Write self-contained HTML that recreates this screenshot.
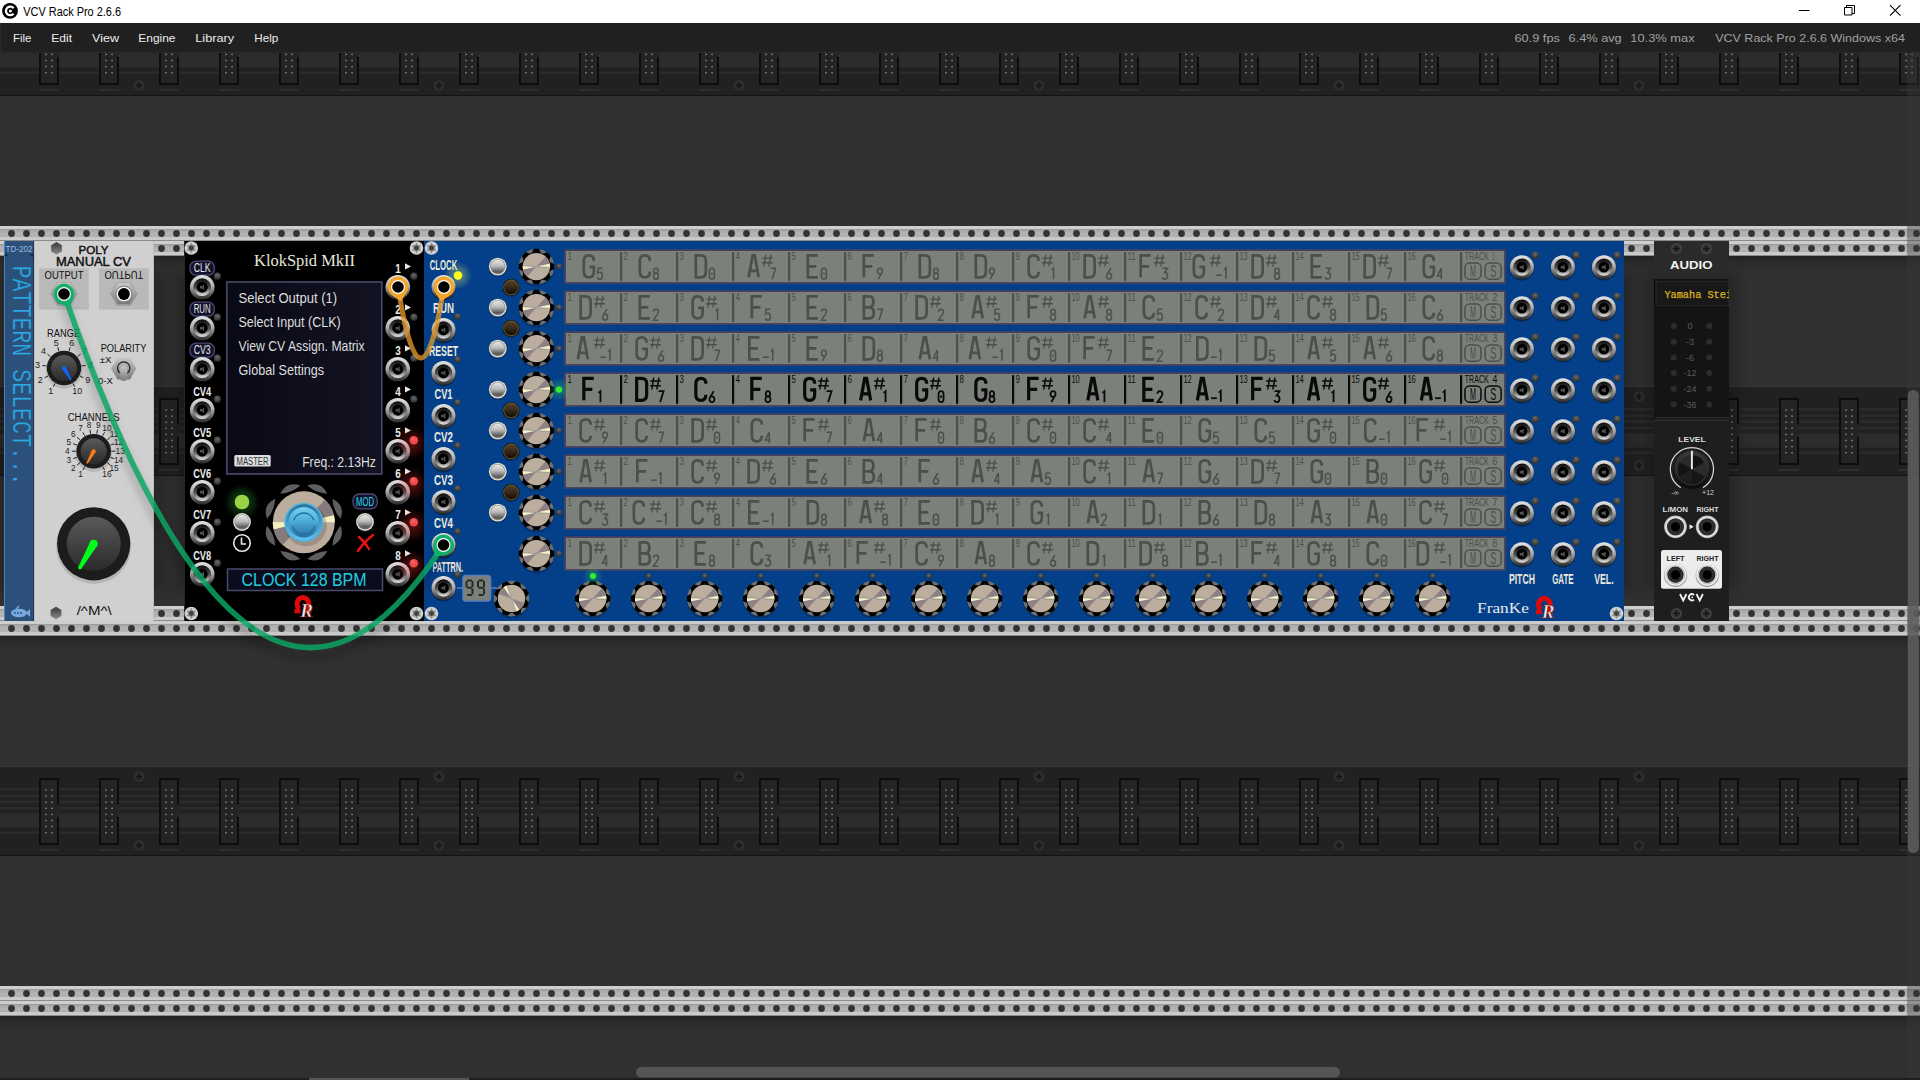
<!DOCTYPE html><html><head><meta charset="utf-8"><style>
*{margin:0;padding:0;box-sizing:border-box}
html,body{width:1920px;height:1080px;overflow:hidden;background:#303030}
svg.main{position:absolute;left:0;top:0}
</style></head><body>
<svg class="main" width="1920" height="1080" viewBox="0 0 1920 1080"><defs><linearGradient id="railg" x1="0" y1="0" x2="0" y2="15" gradientUnits="userSpaceOnUse">
<stop offset="0" stop-color="#c4c4c4"/><stop offset="0.06" stop-color="#d2d2d2"/><stop offset="0.2" stop-color="#cccccc"/>
<stop offset="0.22" stop-color="#9a9a9a"/><stop offset="0.3" stop-color="#a8a8a8"/><stop offset="0.5" stop-color="#b4b4b4"/><stop offset="0.72" stop-color="#b0b0b0"/>
<stop offset="0.75" stop-color="#c8c8c8"/><stop offset="0.9" stop-color="#cbcbcb"/><stop offset="0.94" stop-color="#9a9a9a"/><stop offset="1" stop-color="#7a7a7a"/></linearGradient>
<pattern id="railp" x="4" y="0" width="15" height="15" patternUnits="userSpaceOnUse">
<rect width="15" height="15" fill="url(#railg)"/><circle cx="7.5" cy="7.5" r="3.4" fill="#333"/></pattern><pattern id="bandp" x="0" y="0" width="300" height="88" patternUnits="userSpaceOnUse"><rect width="300" height="88" fill="#212121"/><rect y="21" width="300" height="2.5" fill="#2b2b2b"/><rect y="27.5" width="300" height="2.5" fill="#2b2b2b"/><rect y="33.5" width="300" height="2.5" fill="#2b2b2b"/><rect y="40" width="300" height="2.5" fill="#2b2b2b"/><rect y="46.5" width="300" height="14" fill="#2c2c2c"/><rect y="64.5" width="300" height="2.5" fill="#2b2b2b"/><rect x="39" y="11" width="20" height="67" fill="#0d0d0d"/><rect x="41" y="13" width="16" height="63" fill="#242424"/><rect x="57" y="37.4" width="2" height="12.5" fill="#262626"/><rect x="39" y="82" width="20" height="2" fill="#2e2e2e"/><rect x="45.3" y="22.3" width="1.5" height="1.4" fill="#8a8a8a"/><rect x="51.3" y="22.3" width="1.5" height="1.4" fill="#8a8a8a"/><rect x="45.3" y="28.4" width="1.5" height="1.4" fill="#8a8a8a"/><rect x="51.3" y="28.4" width="1.5" height="1.4" fill="#8a8a8a"/><rect x="45.3" y="34.5" width="1.5" height="1.4" fill="#8a8a8a"/><rect x="51.3" y="34.5" width="1.5" height="1.4" fill="#8a8a8a"/><rect x="45.3" y="40.599999999999994" width="1.5" height="1.4" fill="#8a8a8a"/><rect x="51.3" y="40.599999999999994" width="1.5" height="1.4" fill="#8a8a8a"/><rect x="45.3" y="46.7" width="1.5" height="1.4" fill="#8a8a8a"/><rect x="51.3" y="46.7" width="1.5" height="1.4" fill="#8a8a8a"/><rect x="45.3" y="52.8" width="1.5" height="1.4" fill="#8a8a8a"/><rect x="51.3" y="52.8" width="1.5" height="1.4" fill="#8a8a8a"/><rect x="45.3" y="58.89999999999999" width="1.5" height="1.4" fill="#8a8a8a"/><rect x="51.3" y="58.89999999999999" width="1.5" height="1.4" fill="#8a8a8a"/><rect x="45.3" y="65.0" width="1.5" height="1.4" fill="#8a8a8a"/><rect x="51.3" y="65.0" width="1.5" height="1.4" fill="#8a8a8a"/><rect x="99" y="11" width="20" height="67" fill="#0d0d0d"/><rect x="101" y="13" width="16" height="63" fill="#242424"/><rect x="117" y="37.4" width="2" height="12.5" fill="#262626"/><rect x="99" y="82" width="20" height="2" fill="#2e2e2e"/><rect x="105.3" y="22.3" width="1.5" height="1.4" fill="#8a8a8a"/><rect x="111.3" y="22.3" width="1.5" height="1.4" fill="#8a8a8a"/><rect x="105.3" y="28.4" width="1.5" height="1.4" fill="#8a8a8a"/><rect x="111.3" y="28.4" width="1.5" height="1.4" fill="#8a8a8a"/><rect x="105.3" y="34.5" width="1.5" height="1.4" fill="#8a8a8a"/><rect x="111.3" y="34.5" width="1.5" height="1.4" fill="#8a8a8a"/><rect x="105.3" y="40.599999999999994" width="1.5" height="1.4" fill="#8a8a8a"/><rect x="111.3" y="40.599999999999994" width="1.5" height="1.4" fill="#8a8a8a"/><rect x="105.3" y="46.7" width="1.5" height="1.4" fill="#8a8a8a"/><rect x="111.3" y="46.7" width="1.5" height="1.4" fill="#8a8a8a"/><rect x="105.3" y="52.8" width="1.5" height="1.4" fill="#8a8a8a"/><rect x="111.3" y="52.8" width="1.5" height="1.4" fill="#8a8a8a"/><rect x="105.3" y="58.89999999999999" width="1.5" height="1.4" fill="#8a8a8a"/><rect x="111.3" y="58.89999999999999" width="1.5" height="1.4" fill="#8a8a8a"/><rect x="105.3" y="65.0" width="1.5" height="1.4" fill="#8a8a8a"/><rect x="111.3" y="65.0" width="1.5" height="1.4" fill="#8a8a8a"/><rect x="159" y="11" width="20" height="67" fill="#0d0d0d"/><rect x="161" y="13" width="16" height="63" fill="#242424"/><rect x="177" y="37.4" width="2" height="12.5" fill="#262626"/><rect x="159" y="82" width="20" height="2" fill="#2e2e2e"/><rect x="165.3" y="22.3" width="1.5" height="1.4" fill="#8a8a8a"/><rect x="171.3" y="22.3" width="1.5" height="1.4" fill="#8a8a8a"/><rect x="165.3" y="28.4" width="1.5" height="1.4" fill="#8a8a8a"/><rect x="171.3" y="28.4" width="1.5" height="1.4" fill="#8a8a8a"/><rect x="165.3" y="34.5" width="1.5" height="1.4" fill="#8a8a8a"/><rect x="171.3" y="34.5" width="1.5" height="1.4" fill="#8a8a8a"/><rect x="165.3" y="40.599999999999994" width="1.5" height="1.4" fill="#8a8a8a"/><rect x="171.3" y="40.599999999999994" width="1.5" height="1.4" fill="#8a8a8a"/><rect x="165.3" y="46.7" width="1.5" height="1.4" fill="#8a8a8a"/><rect x="171.3" y="46.7" width="1.5" height="1.4" fill="#8a8a8a"/><rect x="165.3" y="52.8" width="1.5" height="1.4" fill="#8a8a8a"/><rect x="171.3" y="52.8" width="1.5" height="1.4" fill="#8a8a8a"/><rect x="165.3" y="58.89999999999999" width="1.5" height="1.4" fill="#8a8a8a"/><rect x="171.3" y="58.89999999999999" width="1.5" height="1.4" fill="#8a8a8a"/><rect x="165.3" y="65.0" width="1.5" height="1.4" fill="#8a8a8a"/><rect x="171.3" y="65.0" width="1.5" height="1.4" fill="#8a8a8a"/><rect x="219" y="11" width="20" height="67" fill="#0d0d0d"/><rect x="221" y="13" width="16" height="63" fill="#242424"/><rect x="237" y="37.4" width="2" height="12.5" fill="#262626"/><rect x="219" y="82" width="20" height="2" fill="#2e2e2e"/><rect x="225.3" y="22.3" width="1.5" height="1.4" fill="#8a8a8a"/><rect x="231.3" y="22.3" width="1.5" height="1.4" fill="#8a8a8a"/><rect x="225.3" y="28.4" width="1.5" height="1.4" fill="#8a8a8a"/><rect x="231.3" y="28.4" width="1.5" height="1.4" fill="#8a8a8a"/><rect x="225.3" y="34.5" width="1.5" height="1.4" fill="#8a8a8a"/><rect x="231.3" y="34.5" width="1.5" height="1.4" fill="#8a8a8a"/><rect x="225.3" y="40.599999999999994" width="1.5" height="1.4" fill="#8a8a8a"/><rect x="231.3" y="40.599999999999994" width="1.5" height="1.4" fill="#8a8a8a"/><rect x="225.3" y="46.7" width="1.5" height="1.4" fill="#8a8a8a"/><rect x="231.3" y="46.7" width="1.5" height="1.4" fill="#8a8a8a"/><rect x="225.3" y="52.8" width="1.5" height="1.4" fill="#8a8a8a"/><rect x="231.3" y="52.8" width="1.5" height="1.4" fill="#8a8a8a"/><rect x="225.3" y="58.89999999999999" width="1.5" height="1.4" fill="#8a8a8a"/><rect x="231.3" y="58.89999999999999" width="1.5" height="1.4" fill="#8a8a8a"/><rect x="225.3" y="65.0" width="1.5" height="1.4" fill="#8a8a8a"/><rect x="231.3" y="65.0" width="1.5" height="1.4" fill="#8a8a8a"/><rect x="279" y="11" width="20" height="67" fill="#0d0d0d"/><rect x="281" y="13" width="16" height="63" fill="#242424"/><rect x="297" y="37.4" width="2" height="12.5" fill="#262626"/><rect x="279" y="82" width="20" height="2" fill="#2e2e2e"/><rect x="285.3" y="22.3" width="1.5" height="1.4" fill="#8a8a8a"/><rect x="291.3" y="22.3" width="1.5" height="1.4" fill="#8a8a8a"/><rect x="285.3" y="28.4" width="1.5" height="1.4" fill="#8a8a8a"/><rect x="291.3" y="28.4" width="1.5" height="1.4" fill="#8a8a8a"/><rect x="285.3" y="34.5" width="1.5" height="1.4" fill="#8a8a8a"/><rect x="291.3" y="34.5" width="1.5" height="1.4" fill="#8a8a8a"/><rect x="285.3" y="40.599999999999994" width="1.5" height="1.4" fill="#8a8a8a"/><rect x="291.3" y="40.599999999999994" width="1.5" height="1.4" fill="#8a8a8a"/><rect x="285.3" y="46.7" width="1.5" height="1.4" fill="#8a8a8a"/><rect x="291.3" y="46.7" width="1.5" height="1.4" fill="#8a8a8a"/><rect x="285.3" y="52.8" width="1.5" height="1.4" fill="#8a8a8a"/><rect x="291.3" y="52.8" width="1.5" height="1.4" fill="#8a8a8a"/><rect x="285.3" y="58.89999999999999" width="1.5" height="1.4" fill="#8a8a8a"/><rect x="291.3" y="58.89999999999999" width="1.5" height="1.4" fill="#8a8a8a"/><rect x="285.3" y="65.0" width="1.5" height="1.4" fill="#8a8a8a"/><rect x="291.3" y="65.0" width="1.5" height="1.4" fill="#8a8a8a"/><circle cx="139" cy="9.5" r="5.2" fill="#333"/><circle cx="139" cy="9.5" r="4.2" fill="#2a2a2a"/><path d="M136 9.5h6M139 6.5v6" stroke="#161616" stroke-width="1.7"/><circle cx="139" cy="78.5" r="5.2" fill="#333"/><circle cx="139" cy="78.5" r="4.2" fill="#2a2a2a"/><path d="M136 78.5h6M139 75.5v6" stroke="#161616" stroke-width="1.7"/></pattern><linearGradient id="jring" x1="0" y1="0" x2="0" y2="1"><stop offset="0" stop-color="#e4e4e4"/><stop offset="0.45" stop-color="#b0b0b0"/><stop offset="1" stop-color="#262626"/></linearGradient>
<linearGradient id="jin" x1="0" y1="0" x2="0" y2="1"><stop offset="0" stop-color="#0a0a0a"/><stop offset="0.55" stop-color="#555"/><stop offset="1" stop-color="#e8e8e8"/></linearGradient>
<radialGradient id="ledoff" cx="0.5" cy="0.35" r="0.6"><stop offset="0" stop-color="#6a6a6a"/><stop offset="1" stop-color="#2e2e2e"/></radialGradient>
<linearGradient id="sbtn" x1="0" y1="0" x2="0" y2="1"><stop offset="0" stop-color="#e6e6e6"/><stop offset="0.45" stop-color="#bcbcbc"/><stop offset="0.85" stop-color="#5c5c5c"/><stop offset="1" stop-color="#6a6a6a"/></linearGradient>
<linearGradient id="bbtn" x1="0" y1="0" x2="0" y2="1"><stop offset="0" stop-color="#54402c"/><stop offset="0.5" stop-color="#36281a"/><stop offset="1" stop-color="#120a04"/></linearGradient>
<radialGradient id="screwg" cx="0.5" cy="0.5" r="0.5"><stop offset="0" stop-color="#f4f4f4"/><stop offset="0.8" stop-color="#d8d8d8"/><stop offset="1" stop-color="#a0a0a0"/></radialGradient>
<radialGradient id="kshade" cx="0.5" cy="0.5" r="0.5"><stop offset="0.85" stop-color="#000" stop-opacity="0"/><stop offset="1" stop-color="#000" stop-opacity="0.25"/></radialGradient><path id="LA" d="M0 22L4 0H6L10 22M1.7 15.5H8.3" fill="none"/><path id="LB" d="M0 11H5.3Q9.5 11 9.5 5.5Q9.5 0 5.3 0H0V22H5.6Q10 22 10 16.5Q10 11 5.3 11" fill="none"/><path id="LC" d="M10 5.5Q10 0 5 0Q0 0 0 5.5V16.5Q0 22 5 22Q10 22 10 16.5" fill="none"/><path id="LD" d="M0 0V22H4.8Q10 22 10 16.5V5.5Q10 0 4.8 0Z" fill="none"/><path id="LE" d="M10 0H0V22H10M0 11H8.5" fill="none"/><path id="LF" d="M10 0H0V22M0 11H8.5" fill="none"/><path id="LG" d="M10 5.5Q10 0 5 0Q0 0 0 5.5V16.5Q0 22 5 22Q10 22 10 16.5V11.5H5.5" fill="none"/><path id="D0" d="M2.5 0Q0 0 0 2.8V8.2Q0 11 2.5 11Q5 11 5 8.2V2.8Q5 0 2.5 0ZM2.5 4.3V6.7" fill="none"/><path id="D1" d="M1 1.8L3 0V11" fill="none"/><path id="D2" d="M0 2.6Q0 0 2.5 0Q5 0 5 2.6Q5 4.4 3.2 6.3L0 11H5" fill="none"/><path id="D3" d="M0 0H5L2.1 4.4Q5 4.4 5 7.7Q5 11 2.5 11Q0 11 0 8.8" fill="none"/><path id="D4" d="M3.8 11V0L0 7.8H5" fill="none"/><path id="D5" d="M5 0H0.6L0.2 5Q1 4.2 2.6 4.2Q5 4.2 5 7.6Q5 11 2.5 11Q0 11 0 8.8" fill="none"/><path id="D6" d="M4.3 0L1 5.6Q0 7 0 8.2Q0 11 2.5 11Q5 11 5 8.2Q5 5.2 2.5 5.2Q1.5 5.2 1 5.6" fill="none"/><path id="D7" d="M0 0H5L1.6 11" fill="none"/><path id="D8" d="M2.5 5.2Q0.3 5.2 0.3 2.6Q0.3 0 2.5 0Q4.7 0 4.7 2.6Q4.7 5.2 2.5 5.2Q0 5.2 0 8.1Q0 11 2.5 11Q5 11 5 8.1Q5 5.2 2.5 5.2Z" fill="none"/><path id="D9" d="M0.7 11L4 5.4Q5 4 5 2.8Q5 0 2.5 0Q0 0 0 2.8Q0 5.8 2.5 5.8Q3.5 5.8 4 5.4" fill="none"/><path id="Dm" d="M0 0H5.8" fill="none"/><path id="Ds" d="M1.6 12.2L3.5 0.3M6.6 12.2L8.8 0.3M0 3.8H10.7M0 8.45H10.7" fill="none"/><radialGradient id="yglow"><stop offset="0" stop-color="#ffff60" stop-opacity="0.45"/><stop offset="1" stop-color="#ffff60" stop-opacity="0"/></radialGradient><radialGradient id="gglow"><stop offset="0" stop-color="#40ff40" stop-opacity="0.35"/><stop offset="1" stop-color="#40ff40" stop-opacity="0"/></radialGradient><radialGradient id="rglow"><stop offset="0" stop-color="#ff3030" stop-opacity="0.35"/><stop offset="1" stop-color="#ff3030" stop-opacity="0"/></radialGradient><linearGradient id="dispg" x1="0" y1="0" x2="1" y2="0"><stop offset="0" stop-color="#0a0a16"/><stop offset="1" stop-color="#121222"/></linearGradient>
<linearGradient id="encb" x1="0" y1="0" x2="0" y2="1"><stop offset="0" stop-color="#74d4ee"/><stop offset="0.5" stop-color="#4aa8d4"/><stop offset="1" stop-color="#2a6aa2"/></linearGradient>
<linearGradient id="encr" x1="0" y1="0" x2="0" y2="1"><stop offset="0" stop-color="#2c6e9e"/><stop offset="1" stop-color="#5ec4ec"/></linearGradient><linearGradient id="pmknob" x1="0" y1="0" x2="0" y2="1"><stop offset="0" stop-color="#5a5a5a"/><stop offset="1" stop-color="#2a2a2a"/></linearGradient>
<linearGradient id="hexg" x1="0" y1="0" x2="0" y2="1"><stop offset="0" stop-color="#c8c8c8"/><stop offset="1" stop-color="#7a7a7a"/></linearGradient>
<linearGradient id="hexs" x1="0" y1="0" x2="0" y2="1"><stop offset="0" stop-color="#3a3a3a"/><stop offset="1" stop-color="#8a8a8a"/></linearGradient><linearGradient id="aknob" x1="0" y1="0" x2="0" y2="1"><stop offset="0" stop-color="#3a3a3a"/><stop offset="1" stop-color="#111"/></linearGradient><filter id="cshadow" x="-10%" y="-10%" width="120%" height="120%"><feGaussianBlur stdDeviation="4"/></filter><filter id="mshadow" x="-20%" y="-20%" width="140%" height="140%"><feGaussianBlur stdDeviation="6.5"/></filter><linearGradient id="railsh" x1="0" y1="0" x2="0" y2="1"><stop offset="0" stop-color="#000" stop-opacity="0.3"/><stop offset="0.4" stop-color="#000" stop-opacity="0.12"/><stop offset="1" stop-color="#000" stop-opacity="0"/></linearGradient></defs><rect width="1920" height="1080" fill="#303030"/><g transform="translate(0,7)"><rect x="0" y="-1" width="1920" height="1" fill="#383838"/><rect width="1920" height="88" fill="url(#bandp)"/><rect y="88" width="1920" height="1" fill="#141414"/></g><g transform="translate(0,-139)"><rect width="1920" height="15" fill="url(#railp)"/></g><g transform="translate(0,226)"><rect width="1920" height="15" fill="url(#railp)"/></g><g transform="translate(0,387)"><rect x="0" y="-1" width="1920" height="1" fill="#383838"/><rect width="1920" height="88" fill="url(#bandp)"/><rect y="88" width="1920" height="1" fill="#141414"/></g><g transform="translate(0,241)"><rect width="1920" height="15" fill="url(#railp)"/></g><g transform="translate(0,606)"><rect width="1920" height="15" fill="url(#railp)"/></g><g transform="translate(0,767)"><rect x="0" y="-1" width="1920" height="1" fill="#383838"/><rect width="1920" height="88" fill="url(#bandp)"/><rect y="88" width="1920" height="1" fill="#141414"/></g><g transform="translate(0,621)"><rect width="1920" height="15" fill="url(#railp)"/></g><g transform="translate(0,986)"><rect width="1920" height="15" fill="url(#railp)"/></g><g transform="translate(0,1147)"><rect x="0" y="-1" width="1920" height="1" fill="#383838"/><rect width="1920" height="88" fill="url(#bandp)"/><rect y="88" width="1920" height="1" fill="#141414"/></g><g transform="translate(0,1001)"><rect width="1920" height="15" fill="url(#railp)"/></g><g transform="translate(0,1366)"><rect width="1920" height="15" fill="url(#railp)"/></g><rect x="0" y="256" width="1920" height="16" fill="url(#railsh)"/><rect x="0" y="636" width="1920" height="16" fill="url(#railsh)"/><rect x="0" y="1016" width="1920" height="16" fill="url(#railsh)"/><g filter="url(#mshadow)" fill="#000" fill-opacity="0.2"><rect x="-6" y="271" width="50" height="320"/><rect x="24" y="271" width="140" height="320"/><rect x="174" y="271" width="260" height="320"/><rect x="414" y="271" width="1220" height="320"/><rect x="1644" y="271" width="95" height="320"/></g><rect x="4" y="241" width="30" height="380" fill="#2b5079"/><rect x="4" y="241" width="1" height="380" fill="#4c82bc"/><rect x="33" y="241" width="1" height="380" fill="#1c3656"/><text x="19" y="251.5" font-size="9" fill="#9bbce0" text-anchor="middle" font-family="Liberation Sans" textLength="27" lengthAdjust="spacingAndGlyphs" >TD-202</text><path d="M5 253l3.5 2l-3.5 2zM33 253l-3.5 2l3.5 2z" fill="#1a2a3a"/><text transform="translate(12.8,265.6) rotate(90) scale(1,1.27)" font-size="21.6" fill="#2aa8e8" stroke="#2b5079" stroke-width="0.25" font-family="Liberation Mono">PATTERN SELECT...</text><ellipse cx="19" cy="613" rx="8" ry="4.2" fill="#78a8e0"/><path d="M26 613l4-4v8z" fill="#78a8e0"/><path d="M16 609l3-3" stroke="#78a8e0" stroke-width="1.5"/><circle cx="15" cy="613" r="0.9" fill="#2b5079"/><circle cx="18" cy="613" r="0.9" fill="#2b5079"/><circle cx="21" cy="613" r="0.9" fill="#2b5079"/><rect x="34" y="241" width="120" height="380" fill="#d0d0d0"/><rect x="34" y="241" width="1" height="380" fill="#bdbdbd"/><rect x="153" y="241" width="1" height="380" fill="#bdbdbd"/><polygon points="61.87,251.40 56.50,254.50 51.13,251.40 51.13,245.20 56.50,242.10 61.87,245.20" fill="url(#hexs)"/><text x="93.6" y="253.6" font-size="11.3" fill="#111" text-anchor="middle" font-family="Liberation Sans" textLength="30" lengthAdjust="spacingAndGlyphs" stroke="#111" stroke-width="0.45">POLY</text><text x="93.4" y="265.6" font-size="12" fill="#111" text-anchor="middle" font-family="Liberation Sans" textLength="75" lengthAdjust="spacingAndGlyphs" stroke="#111" stroke-width="0.45">MANUAL CV</text><rect x="39.2" y="268.3" width="49.6" height="41.3" fill="#b9b9b9"/><rect x="99" y="268.3" width="49.8" height="41.3" fill="#b9b9b9"/><text x="64" y="278.5" font-size="10.2" fill="#111" text-anchor="middle" font-family="Liberation Sans" textLength="39" lengthAdjust="spacingAndGlyphs" >OUTPUT</text><text transform="translate(123.9,271.2) scale(1,-1)" font-size="10.2" fill="#111" text-anchor="middle" font-family="Liberation Sans" textLength="39" lengthAdjust="spacingAndGlyphs">OUTPUT</text><polygon points="77.70,294.00 70.85,305.86 57.15,305.86 50.30,294.00 57.15,282.14 70.85,282.14" fill="#9a9a9a"/><polygon points="76.30,293.30 70.15,303.95 57.85,303.95 51.70,293.30 57.85,282.65 70.15,282.65" fill="url(#hexg)"/><circle cx="64" cy="294" r="8.6" fill="#888"/><circle cx="64" cy="294" r="7.3" fill="#fff"/><circle cx="64" cy="294" r="5.9" fill="#000"/><polygon points="137.60,294.00 130.75,305.86 117.05,305.86 110.20,294.00 117.05,282.14 130.75,282.14" fill="#9a9a9a"/><polygon points="136.20,293.30 130.05,303.95 117.75,303.95 111.60,293.30 117.75,282.65 130.05,282.65" fill="url(#hexg)"/><circle cx="123.9" cy="294" r="8.6" fill="#888"/><circle cx="123.9" cy="294" r="7.3" fill="#fff"/><circle cx="123.9" cy="294" r="5.9" fill="#000"/><text x="63.6" y="337" font-size="10" fill="#111" text-anchor="middle" font-family="Liberation Sans" textLength="33" lengthAdjust="spacingAndGlyphs" >RANGE</text><path d="M55.15 383.33L53.15 386.79" stroke="#222" stroke-width="1"/><text x="50.65" y="394.36" font-size="9" fill="#1a1a1a" text-anchor="middle" font-family="Liberation Sans" >1</text><path d="M48.18 375.94L44.61 377.74" stroke="#222" stroke-width="1"/><text x="40.14" y="383.22" font-size="9" fill="#1a1a1a" text-anchor="middle" font-family="Liberation Sans" >2</text><path d="M46.42 365.95L42.45 365.48" stroke="#222" stroke-width="1"/><text x="37.48" y="368.14" font-size="9" fill="#1a1a1a" text-anchor="middle" font-family="Liberation Sans" >3</text><path d="M50.44 356.62L47.38 354.05" stroke="#222" stroke-width="1"/><text x="43.55" y="354.08" font-size="9" fill="#1a1a1a" text-anchor="middle" font-family="Liberation Sans" >4</text><path d="M58.92 351.04L57.78 347.21" stroke="#222" stroke-width="1"/><text x="56.34" y="345.66" font-size="9" fill="#1a1a1a" text-anchor="middle" font-family="Liberation Sans" >5</text><path d="M69.08 351.04L70.22 347.21" stroke="#222" stroke-width="1"/><text x="71.66" y="345.66" font-size="9" fill="#1a1a1a" text-anchor="middle" font-family="Liberation Sans" >6</text><path d="M77.56 356.62L80.62 354.05" stroke="#222" stroke-width="1"/><text x="84.45" y="354.08" font-size="9" fill="#1a1a1a" text-anchor="middle" font-family="Liberation Sans" >7</text><path d="M81.58 365.95L85.55 365.48" stroke="#222" stroke-width="1"/><text x="90.52" y="368.14" font-size="9" fill="#1a1a1a" text-anchor="middle" font-family="Liberation Sans" >8</text><path d="M79.82 375.94L83.39 377.74" stroke="#222" stroke-width="1"/><text x="87.86" y="383.22" font-size="9" fill="#1a1a1a" text-anchor="middle" font-family="Liberation Sans" >9</text><path d="M72.85 383.33L74.85 386.79" stroke="#222" stroke-width="1"/><text x="77.35" y="394.36" font-size="9" fill="#1a1a1a" text-anchor="middle" font-family="Liberation Sans" >10</text><circle cx="64" cy="370.5" r="18.2" fill="#000" opacity="0.12"/><circle cx="64" cy="368" r="17.2" fill="#1c1c1c"/><circle cx="64" cy="368" r="13" fill="url(#pmknob)"/><polygon points="62.31,368.98 69.90,379.91 71.36,379.06 65.69,367.02" fill="#0a64ff"/><circle cx="64.00" cy="368.00" r="1.95" fill="#0a64ff"/><circle cx="70.63" cy="379.48" r="0.84" fill="#0a64ff"/><text x="123.5" y="352.4" font-size="10" fill="#111" text-anchor="middle" font-family="Liberation Sans" textLength="45.7" lengthAdjust="spacingAndGlyphs" >POLARITY</text><text x="105.5" y="363" font-size="9.5" fill="#111" text-anchor="middle" font-family="Liberation Sans" >±X</text><text x="105.5" y="383.5" font-size="9.5" fill="#111" text-anchor="middle" font-family="Liberation Sans" >0-X</text><polygon points="136.30,368.60 130.00,379.51 117.40,379.51 111.10,368.60 117.40,357.69 130.00,357.69" fill="url(#hexg)"/><circle cx="123.7" cy="368" r="6.2" fill="none" stroke="#222" stroke-width="1.3"/><rect x="120.2" y="366" width="7" height="15" rx="3.5" fill="url(#hexg)"/><text x="93.7" y="421" font-size="10" fill="#111" text-anchor="middle" font-family="Liberation Sans" textLength="52" lengthAdjust="spacingAndGlyphs" >CHANNELS</text><path d="M84.80 466.62L82.80 470.08" stroke="#222" stroke-width="1"/><text x="80.45" y="477.14" font-size="8.3" fill="#1a1a1a" text-anchor="middle" font-family="Liberation Sans" >1</text><path d="M80.06 462.64L77.00 465.21" stroke="#222" stroke-width="1"/><text x="73.4" y="471.22" font-size="8.3" fill="#1a1a1a" text-anchor="middle" font-family="Liberation Sans" >2</text><path d="M76.97 457.29L73.21 458.66" stroke="#222" stroke-width="1"/><text x="68.8" y="463.25" font-size="8.3" fill="#1a1a1a" text-anchor="middle" font-family="Liberation Sans" >3</text><path d="M75.90 451.20L71.90 451.20" stroke="#222" stroke-width="1"/><text x="67.2" y="454.19" font-size="8.3" fill="#1a1a1a" text-anchor="middle" font-family="Liberation Sans" >4</text><path d="M76.97 445.11L73.21 443.74" stroke="#222" stroke-width="1"/><text x="68.8" y="445.12" font-size="8.3" fill="#1a1a1a" text-anchor="middle" font-family="Liberation Sans" >5</text><path d="M80.06 439.76L77.00 437.19" stroke="#222" stroke-width="1"/><text x="73.4" y="437.15" font-size="8.3" fill="#1a1a1a" text-anchor="middle" font-family="Liberation Sans" >6</text><path d="M84.80 435.78L82.80 432.32" stroke="#222" stroke-width="1"/><text x="80.45" y="431.24" font-size="8.3" fill="#1a1a1a" text-anchor="middle" font-family="Liberation Sans" >7</text><path d="M90.61 433.67L89.91 429.73" stroke="#222" stroke-width="1"/><text x="89.1" y="428.09" font-size="8.3" fill="#1a1a1a" text-anchor="middle" font-family="Liberation Sans" >8</text><path d="M96.79 433.67L97.49 429.73" stroke="#222" stroke-width="1"/><text x="98.3" y="428.09" font-size="8.3" fill="#1a1a1a" text-anchor="middle" font-family="Liberation Sans" >9</text><path d="M102.60 435.78L104.60 432.32" stroke="#222" stroke-width="1"/><text x="106.95" y="431.24" font-size="8.3" fill="#1a1a1a" text-anchor="middle" font-family="Liberation Sans" >10</text><path d="M107.34 439.76L110.40 437.19" stroke="#222" stroke-width="1"/><text x="114.0" y="437.15" font-size="8.3" fill="#1a1a1a" text-anchor="middle" font-family="Liberation Sans" >11</text><path d="M110.43 445.11L114.19 443.74" stroke="#222" stroke-width="1"/><text x="118.6" y="445.12" font-size="8.3" fill="#1a1a1a" text-anchor="middle" font-family="Liberation Sans" >12</text><path d="M111.50 451.20L115.50 451.20" stroke="#222" stroke-width="1"/><text x="120.2" y="454.19" font-size="8.3" fill="#1a1a1a" text-anchor="middle" font-family="Liberation Sans" >13</text><path d="M110.43 457.29L114.19 458.66" stroke="#222" stroke-width="1"/><text x="118.6" y="463.25" font-size="8.3" fill="#1a1a1a" text-anchor="middle" font-family="Liberation Sans" >14</text><path d="M107.34 462.64L110.40 465.21" stroke="#222" stroke-width="1"/><text x="114.0" y="471.22" font-size="8.3" fill="#1a1a1a" text-anchor="middle" font-family="Liberation Sans" >15</text><path d="M102.60 466.62L104.60 470.08" stroke="#222" stroke-width="1"/><text x="106.95" y="477.14" font-size="8.3" fill="#1a1a1a" text-anchor="middle" font-family="Liberation Sans" >16</text><circle cx="93.7" cy="453.7" r="18.3" fill="#000" opacity="0.12"/><circle cx="93.7" cy="451.2" r="17.3" fill="#1c1c1c"/><circle cx="93.7" cy="451.2" r="13" fill="url(#pmknob)"/><polygon points="91.99,450.25 86.53,462.39 88.01,463.21 95.41,452.15" fill="#ff7a1a"/><circle cx="93.70" cy="451.20" r="1.95" fill="#ff7a1a"/><circle cx="87.27" cy="462.80" r="0.84" fill="#ff7a1a"/><circle cx="93.7" cy="546.3" r="37.6" fill="#000" opacity="0.12"/><circle cx="93.7" cy="543.8" r="36.6" fill="#1c1c1c"/><circle cx="93.7" cy="543.8" r="27" fill="url(#pmknob)"/><polygon points="90.19,541.77 78.41,566.77 81.45,568.53 97.21,545.82" fill="#00ff1a"/><circle cx="93.70" cy="543.80" r="4.05" fill="#00ff1a"/><circle cx="79.93" cy="567.65" r="1.76" fill="#00ff1a"/><polygon points="61.37,616.10 56.00,619.20 50.63,616.10 50.63,609.90 56.00,606.80 61.37,609.90" fill="url(#hexs)"/><text x="94.2" y="614.6" font-size="12" fill="#111" text-anchor="middle" font-family="Liberation Sans" textLength="35" lengthAdjust="spacingAndGlyphs" >/^M^\</text><rect x="184" y="241" width="240" height="380" fill="#000"/><rect x="184" y="241" width="1" height="380" fill="#262626"/><circle cx="191.3" cy="248" r="6.8" fill="#d0d0d0"/><polygon points="191.30,242.60 189.75,245.32 186.62,245.30 188.20,248.00 186.62,250.70 189.75,250.68 191.30,253.40 192.85,250.68 195.98,250.70 194.40,248.00 195.98,245.30 192.85,245.32" fill="#8c8e8c"/><circle cx="191.3" cy="248" r="2.4" fill="#404040"/><circle cx="416.5" cy="248" r="6.8" fill="#d0d0d0"/><polygon points="416.50,242.60 414.95,245.32 411.82,245.30 413.40,248.00 411.82,250.70 414.95,250.68 416.50,253.40 418.05,250.68 421.18,250.70 419.60,248.00 421.18,245.30 418.05,245.32" fill="#8c8e8c"/><circle cx="416.5" cy="248" r="2.4" fill="#404040"/><circle cx="191.3" cy="613.5" r="6.8" fill="#d0d0d0"/><polygon points="191.30,608.10 189.75,610.82 186.62,610.80 188.20,613.50 186.62,616.20 189.75,616.18 191.30,618.90 192.85,616.18 195.98,616.20 194.40,613.50 195.98,610.80 192.85,610.82" fill="#8c8e8c"/><circle cx="191.3" cy="613.5" r="2.4" fill="#404040"/><circle cx="416.5" cy="613.5" r="6.8" fill="#d0d0d0"/><polygon points="416.50,608.10 414.95,610.82 411.82,610.80 413.40,613.50 411.82,616.20 414.95,616.18 416.50,618.90 418.05,616.18 421.18,616.20 419.60,613.50 421.18,610.80 418.05,610.82" fill="#8c8e8c"/><circle cx="416.5" cy="613.5" r="2.4" fill="#404040"/><text x="304.5" y="265.6" font-size="16" fill="#e6e6dc" text-anchor="middle" font-family="Liberation Serif" textLength="101" lengthAdjust="spacingAndGlyphs" >KlokSpid MkII</text><rect x="190" y="261.2" width="24.3" height="14" rx="6" fill="#12122a" stroke="#4a4a78" stroke-width="1.3"/><text x="202.15" y="272.2" font-size="12" fill="#e8e8e8" text-anchor="middle" font-family="Liberation Sans" textLength="17" lengthAdjust="spacingAndGlyphs" >CLK</text><circle cx="202.2" cy="288.2" r="12.8" fill="#000" opacity="0.35"/><circle cx="202.2" cy="287.2" r="12.3" fill="url(#jring)"/><circle cx="202.2" cy="287.2" r="8.86" fill="url(#jin)"/><circle cx="202.2" cy="287.2" r="5.54" fill="#000"/><rect x="200.0" y="285.9" width="2.2" height="2.6" fill="#555"/><path d="M202.2 285.9l1.8-1.4v5.4l-1.8-1.4z" fill="#555"/><circle cx="217.3" cy="276.2" r="3.6" fill="url(#ledoff)"/><text x="398" y="272.7" font-size="13" fill="#ececec" text-anchor="middle" font-family="Liberation Sans" font-weight="bold" textLength="5.5" lengthAdjust="spacingAndGlyphs" >1</text><path d="M405 263.2l6 3.2l-6 3.2z" fill="#e8e8e8"/><circle cx="397.8" cy="288.2" r="12.8" fill="#000" opacity="0.35"/><circle cx="397.8" cy="287.2" r="12.3" fill="url(#jring)"/><circle cx="397.8" cy="287.2" r="8.86" fill="url(#jin)"/><circle cx="397.8" cy="287.2" r="5.54" fill="#000"/><rect x="395.6" y="285.9" width="2.2" height="2.6" fill="#555"/><path d="M397.8 285.9l1.8-1.4v5.4l-1.8-1.4z" fill="#555"/><circle cx="413.8" cy="276.2" r="3.6" fill="url(#ledoff)"/><rect x="190" y="302.2" width="24.3" height="14" rx="6" fill="#12122a" stroke="#4a4a78" stroke-width="1.3"/><text x="202.15" y="313.2" font-size="12" fill="#e8e8e8" text-anchor="middle" font-family="Liberation Sans" textLength="17" lengthAdjust="spacingAndGlyphs" >RUN</text><circle cx="202.2" cy="329.2" r="12.8" fill="#000" opacity="0.35"/><circle cx="202.2" cy="328.2" r="12.3" fill="url(#jring)"/><circle cx="202.2" cy="328.2" r="8.86" fill="url(#jin)"/><circle cx="202.2" cy="328.2" r="5.54" fill="#000"/><rect x="200.0" y="326.9" width="2.2" height="2.6" fill="#555"/><path d="M202.2 326.9l1.8-1.4v5.4l-1.8-1.4z" fill="#555"/><circle cx="217.3" cy="317.2" r="3.6" fill="url(#ledoff)"/><text x="398" y="313.7" font-size="13" fill="#ececec" text-anchor="middle" font-family="Liberation Sans" font-weight="bold" textLength="5.5" lengthAdjust="spacingAndGlyphs" >2</text><path d="M405 304.2l6 3.2l-6 3.2z" fill="#e8e8e8"/><circle cx="397.8" cy="329.2" r="12.8" fill="#000" opacity="0.35"/><circle cx="397.8" cy="328.2" r="12.3" fill="url(#jring)"/><circle cx="397.8" cy="328.2" r="8.86" fill="url(#jin)"/><circle cx="397.8" cy="328.2" r="5.54" fill="#000"/><rect x="395.6" y="326.9" width="2.2" height="2.6" fill="#555"/><path d="M397.8 326.9l1.8-1.4v5.4l-1.8-1.4z" fill="#555"/><circle cx="413.8" cy="317.2" r="3.6" fill="url(#ledoff)"/><rect x="190" y="343.2" width="24.3" height="14" rx="6" fill="#12122a" stroke="#4a4a78" stroke-width="1.3"/><text x="202.15" y="354.2" font-size="12" fill="#e8e8e8" text-anchor="middle" font-family="Liberation Sans" textLength="17" lengthAdjust="spacingAndGlyphs" >CV3</text><circle cx="202.2" cy="370.2" r="12.8" fill="#000" opacity="0.35"/><circle cx="202.2" cy="369.2" r="12.3" fill="url(#jring)"/><circle cx="202.2" cy="369.2" r="8.86" fill="url(#jin)"/><circle cx="202.2" cy="369.2" r="5.54" fill="#000"/><rect x="200.0" y="367.9" width="2.2" height="2.6" fill="#555"/><path d="M202.2 367.9l1.8-1.4v5.4l-1.8-1.4z" fill="#555"/><circle cx="217.3" cy="358.2" r="3.6" fill="url(#ledoff)"/><text x="398" y="354.7" font-size="13" fill="#ececec" text-anchor="middle" font-family="Liberation Sans" font-weight="bold" textLength="5.5" lengthAdjust="spacingAndGlyphs" >3</text><path d="M405 345.2l6 3.2l-6 3.2z" fill="#e8e8e8"/><circle cx="397.8" cy="370.2" r="12.8" fill="#000" opacity="0.35"/><circle cx="397.8" cy="369.2" r="12.3" fill="url(#jring)"/><circle cx="397.8" cy="369.2" r="8.86" fill="url(#jin)"/><circle cx="397.8" cy="369.2" r="5.54" fill="#000"/><rect x="395.6" y="367.9" width="2.2" height="2.6" fill="#555"/><path d="M397.8 367.9l1.8-1.4v5.4l-1.8-1.4z" fill="#555"/><circle cx="413.8" cy="358.2" r="3.6" fill="url(#ledoff)"/><text x="202.2" y="395.9" font-size="13" fill="#ececec" text-anchor="middle" font-family="Liberation Sans" font-weight="bold" textLength="18" lengthAdjust="spacingAndGlyphs" >CV4</text><circle cx="202.2" cy="411.2" r="12.8" fill="#000" opacity="0.35"/><circle cx="202.2" cy="410.2" r="12.3" fill="url(#jring)"/><circle cx="202.2" cy="410.2" r="8.86" fill="url(#jin)"/><circle cx="202.2" cy="410.2" r="5.54" fill="#000"/><rect x="200.0" y="408.9" width="2.2" height="2.6" fill="#555"/><path d="M202.2 408.9l1.8-1.4v5.4l-1.8-1.4z" fill="#555"/><circle cx="217.3" cy="399.2" r="3.6" fill="url(#ledoff)"/><text x="398" y="395.7" font-size="13" fill="#ececec" text-anchor="middle" font-family="Liberation Sans" font-weight="bold" textLength="5.5" lengthAdjust="spacingAndGlyphs" >4</text><path d="M405 386.2l6 3.2l-6 3.2z" fill="#e8e8e8"/><circle cx="397.8" cy="411.2" r="12.8" fill="#000" opacity="0.35"/><circle cx="397.8" cy="410.2" r="12.3" fill="url(#jring)"/><circle cx="397.8" cy="410.2" r="8.86" fill="url(#jin)"/><circle cx="397.8" cy="410.2" r="5.54" fill="#000"/><rect x="395.6" y="408.9" width="2.2" height="2.6" fill="#555"/><path d="M397.8 408.9l1.8-1.4v5.4l-1.8-1.4z" fill="#555"/><circle cx="413.8" cy="399.2" r="3.6" fill="url(#ledoff)"/><text x="202.2" y="436.9" font-size="13" fill="#ececec" text-anchor="middle" font-family="Liberation Sans" font-weight="bold" textLength="18" lengthAdjust="spacingAndGlyphs" >CV5</text><circle cx="202.2" cy="452.2" r="12.8" fill="#000" opacity="0.35"/><circle cx="202.2" cy="451.2" r="12.3" fill="url(#jring)"/><circle cx="202.2" cy="451.2" r="8.86" fill="url(#jin)"/><circle cx="202.2" cy="451.2" r="5.54" fill="#000"/><rect x="200.0" y="449.9" width="2.2" height="2.6" fill="#555"/><path d="M202.2 449.9l1.8-1.4v5.4l-1.8-1.4z" fill="#555"/><circle cx="217.3" cy="440.2" r="3.6" fill="url(#ledoff)"/><text x="398" y="436.7" font-size="13" fill="#ececec" text-anchor="middle" font-family="Liberation Sans" font-weight="bold" textLength="5.5" lengthAdjust="spacingAndGlyphs" >5</text><path d="M405 427.2l6 3.2l-6 3.2z" fill="#e8e8e8"/><circle cx="397.8" cy="452.2" r="12.8" fill="#000" opacity="0.35"/><circle cx="397.8" cy="451.2" r="12.3" fill="url(#jring)"/><circle cx="397.8" cy="451.2" r="8.86" fill="url(#jin)"/><circle cx="397.8" cy="451.2" r="5.54" fill="#000"/><rect x="395.6" y="449.9" width="2.2" height="2.6" fill="#555"/><path d="M397.8 449.9l1.8-1.4v5.4l-1.8-1.4z" fill="#555"/><circle cx="412" cy="443.2" r="17" fill="url(#rglow)"/><circle cx="413.8" cy="440.2" r="4.3" fill="#f04848"/><circle cx="413.3" cy="438.9" r="2" fill="#ff7070" opacity="0.6"/><text x="202.2" y="477.9" font-size="13" fill="#ececec" text-anchor="middle" font-family="Liberation Sans" font-weight="bold" textLength="18" lengthAdjust="spacingAndGlyphs" >CV6</text><circle cx="202.2" cy="493.2" r="12.8" fill="#000" opacity="0.35"/><circle cx="202.2" cy="492.2" r="12.3" fill="url(#jring)"/><circle cx="202.2" cy="492.2" r="8.86" fill="url(#jin)"/><circle cx="202.2" cy="492.2" r="5.54" fill="#000"/><rect x="200.0" y="490.9" width="2.2" height="2.6" fill="#555"/><path d="M202.2 490.9l1.8-1.4v5.4l-1.8-1.4z" fill="#555"/><circle cx="217.3" cy="481.2" r="3.6" fill="url(#ledoff)"/><text x="398" y="477.7" font-size="13" fill="#ececec" text-anchor="middle" font-family="Liberation Sans" font-weight="bold" textLength="5.5" lengthAdjust="spacingAndGlyphs" >6</text><path d="M405 468.2l6 3.2l-6 3.2z" fill="#e8e8e8"/><circle cx="397.8" cy="493.2" r="12.8" fill="#000" opacity="0.35"/><circle cx="397.8" cy="492.2" r="12.3" fill="url(#jring)"/><circle cx="397.8" cy="492.2" r="8.86" fill="url(#jin)"/><circle cx="397.8" cy="492.2" r="5.54" fill="#000"/><rect x="395.6" y="490.9" width="2.2" height="2.6" fill="#555"/><path d="M397.8 490.9l1.8-1.4v5.4l-1.8-1.4z" fill="#555"/><circle cx="412" cy="484.2" r="17" fill="url(#rglow)"/><circle cx="413.8" cy="481.2" r="4.3" fill="#f04848"/><circle cx="413.3" cy="479.9" r="2" fill="#ff7070" opacity="0.6"/><text x="202.2" y="518.9000000000001" font-size="13" fill="#ececec" text-anchor="middle" font-family="Liberation Sans" font-weight="bold" textLength="18" lengthAdjust="spacingAndGlyphs" >CV7</text><circle cx="202.2" cy="534.2" r="12.8" fill="#000" opacity="0.35"/><circle cx="202.2" cy="533.2" r="12.3" fill="url(#jring)"/><circle cx="202.2" cy="533.2" r="8.86" fill="url(#jin)"/><circle cx="202.2" cy="533.2" r="5.54" fill="#000"/><rect x="200.0" y="531.9000000000001" width="2.2" height="2.6" fill="#555"/><path d="M202.2 531.9000000000001l1.8-1.4v5.4l-1.8-1.4z" fill="#555"/><circle cx="217.3" cy="522.2" r="3.6" fill="url(#ledoff)"/><text x="398" y="518.7" font-size="13" fill="#ececec" text-anchor="middle" font-family="Liberation Sans" font-weight="bold" textLength="5.5" lengthAdjust="spacingAndGlyphs" >7</text><path d="M405 509.20000000000005l6 3.2l-6 3.2z" fill="#e8e8e8"/><circle cx="397.8" cy="534.2" r="12.8" fill="#000" opacity="0.35"/><circle cx="397.8" cy="533.2" r="12.3" fill="url(#jring)"/><circle cx="397.8" cy="533.2" r="8.86" fill="url(#jin)"/><circle cx="397.8" cy="533.2" r="5.54" fill="#000"/><rect x="395.6" y="531.9000000000001" width="2.2" height="2.6" fill="#555"/><path d="M397.8 531.9000000000001l1.8-1.4v5.4l-1.8-1.4z" fill="#555"/><circle cx="412" cy="525.2" r="17" fill="url(#rglow)"/><circle cx="413.8" cy="522.2" r="4.3" fill="#f04848"/><circle cx="413.3" cy="520.9000000000001" r="2" fill="#ff7070" opacity="0.6"/><text x="202.2" y="559.9000000000001" font-size="13" fill="#ececec" text-anchor="middle" font-family="Liberation Sans" font-weight="bold" textLength="18" lengthAdjust="spacingAndGlyphs" >CV8</text><circle cx="202.2" cy="575.2" r="12.8" fill="#000" opacity="0.35"/><circle cx="202.2" cy="574.2" r="12.3" fill="url(#jring)"/><circle cx="202.2" cy="574.2" r="8.86" fill="url(#jin)"/><circle cx="202.2" cy="574.2" r="5.54" fill="#000"/><rect x="200.0" y="572.9000000000001" width="2.2" height="2.6" fill="#555"/><path d="M202.2 572.9000000000001l1.8-1.4v5.4l-1.8-1.4z" fill="#555"/><circle cx="217.3" cy="563.2" r="3.6" fill="url(#ledoff)"/><text x="398" y="559.7" font-size="13" fill="#ececec" text-anchor="middle" font-family="Liberation Sans" font-weight="bold" textLength="5.5" lengthAdjust="spacingAndGlyphs" >8</text><path d="M405 550.2l6 3.2l-6 3.2z" fill="#e8e8e8"/><circle cx="397.8" cy="575.2" r="12.8" fill="#000" opacity="0.35"/><circle cx="397.8" cy="574.2" r="12.3" fill="url(#jring)"/><circle cx="397.8" cy="574.2" r="8.86" fill="url(#jin)"/><circle cx="397.8" cy="574.2" r="5.54" fill="#000"/><rect x="395.6" y="572.9000000000001" width="2.2" height="2.6" fill="#555"/><path d="M397.8 572.9000000000001l1.8-1.4v5.4l-1.8-1.4z" fill="#555"/><circle cx="412" cy="566.2" r="17" fill="url(#rglow)"/><circle cx="413.8" cy="563.2" r="4.3" fill="#f04848"/><circle cx="413.3" cy="561.9000000000001" r="2" fill="#ff7070" opacity="0.6"/><rect x="226.8" y="282" width="155" height="192" fill="url(#dispg)" stroke="#4a4a6c" stroke-width="1.6"/><text x="238.5" y="302.6" font-size="14.8" fill="#dedede" text-anchor="start" font-family="Liberation Sans" textLength="98.7" lengthAdjust="spacingAndGlyphs" >Select Output (1)</text><text x="238.5" y="326.65000000000003" font-size="14.8" fill="#dedede" text-anchor="start" font-family="Liberation Sans" textLength="102.2" lengthAdjust="spacingAndGlyphs" >Select Input (CLK)</text><text x="238.5" y="350.70000000000005" font-size="14.8" fill="#dedede" text-anchor="start" font-family="Liberation Sans" textLength="126.2" lengthAdjust="spacingAndGlyphs" >View CV Assign. Matrix</text><text x="238.5" y="374.75" font-size="14.8" fill="#dedede" text-anchor="start" font-family="Liberation Sans" textLength="85.7" lengthAdjust="spacingAndGlyphs" >Global Settings</text><rect x="234.3" y="455" width="36.4" height="11.5" rx="1.5" fill="#dcdcdc"/><text x="252.5" y="465" font-size="10" fill="#333" text-anchor="middle" font-family="Liberation Sans" textLength="32" lengthAdjust="spacingAndGlyphs" >MASTER</text><text x="302.2" y="467.2" font-size="15" fill="#dedede" text-anchor="start" font-family="Liberation Sans" textLength="73.7" lengthAdjust="spacingAndGlyphs" >Freq.: 2.13Hz</text><circle cx="242" cy="502" r="18" fill="url(#gglow)"/><circle cx="242" cy="502" r="7.3" fill="#9ad444"/><circle cx="242" cy="523.2" r="9.2" fill="#001a40" opacity="0.4"/><circle cx="242" cy="522" r="8.9" fill="#e2e0d0"/><circle cx="242" cy="522" r="7.6" fill="#8a8a84"/><circle cx="242" cy="522" r="7" fill="url(#sbtn)"/><circle cx="242" cy="543" r="8.3" fill="none" stroke="#e8e8e8" stroke-width="1.6"/><path d="M241.5 537.5V544H246" fill="none" stroke="#e8e8e8" stroke-width="1.6"/><path d="M340.6 518.8Q345.4 505.1 332.4 498.8Q332.9 510.2 340.6 518.8Z" fill="#5e5e5e"/><path d="M327.3 493.7Q321.0 480.7 307.3 485.5Q315.9 493.2 327.3 493.7Z" fill="#5e5e5e"/><path d="M300.3 485.5Q286.6 480.7 280.3 493.7Q291.7 493.2 300.3 485.5Z" fill="#5e5e5e"/><path d="M275.2 498.8Q262.2 505.1 267.0 518.8Q274.7 510.2 275.2 498.8Z" fill="#5e5e5e"/><path d="M267.0 525.8Q262.2 539.5 275.2 545.8Q274.7 534.4 267.0 525.8Z" fill="#5e5e5e"/><path d="M280.3 550.9Q286.6 563.9 300.3 559.1Q291.7 551.4 280.3 550.9Z" fill="#5e5e5e"/><path d="M307.3 559.1Q321.0 563.9 327.3 550.9Q315.9 551.4 307.3 559.1Z" fill="#5e5e5e"/><path d="M332.4 545.8Q345.4 539.5 340.6 525.8Q332.9 534.4 332.4 545.8Z" fill="#5e5e5e"/><circle cx="303.8" cy="522.3" r="31" fill="#bcae9f"/><path d="M303.8 522.3L334.01 515.33A31 31 0 0 0 324.94 499.63Z" fill="#877a7c"/><path d="M303.8 522.3L334.80 522.30A31 31 0 0 0 334.01 515.33Z" fill="#f6f0c0"/><path d="M303.8 522.3L273.59 529.27A31 31 0 0 0 282.66 544.97Z" fill="#877a7c"/><path d="M303.8 522.3L272.80 522.30A31 31 0 0 0 273.59 529.27Z" fill="#f6f0c0"/><circle cx="305.8" cy="525.3" r="21" fill="#3a2a20" opacity="0.22"/><circle cx="303.8" cy="522.3" r="19.6" fill="#4fb2e2"/><circle cx="303.8" cy="522.3" r="18" fill="url(#encr)"/><circle cx="303.8" cy="522.3" r="15.2" fill="url(#encb)"/><path d="M293.8 520.3A10.5 10.5 0 0 1 313.8 520.3" fill="none" stroke="#1e6fa0" stroke-width="1.4"/><path d="M292.8 526.3A11.5 11.5 0 0 0 314.8 526.3" fill="none" stroke="#1e6fa0" stroke-width="1.4"/><rect x="353" y="494" width="24.2" height="14.8" rx="6" fill="#12122a" stroke="#4a4a78" stroke-width="1.3"/><text x="365.1" y="505.8" font-size="12" fill="#22d8e8" text-anchor="middle" font-family="Liberation Sans" textLength="18" lengthAdjust="spacingAndGlyphs" >MOD</text><circle cx="365" cy="523.2" r="9.2" fill="#001a40" opacity="0.4"/><circle cx="365" cy="522" r="8.9" fill="#e2e0d0"/><circle cx="365" cy="522" r="7.6" fill="#8a8a84"/><circle cx="365" cy="522" r="7" fill="url(#sbtn)"/><path d="M358 551Q363 543 373 535M359 537Q365 542 369 549" fill="none" stroke="#f01010" stroke-width="2.4" stroke-linecap="round"/><rect x="227.5" y="569" width="155" height="21.5" fill="#0c0c1c" stroke="#4a4a6c" stroke-width="1.5"/><text x="304" y="585.7" font-size="18" fill="#1ed0e0" text-anchor="middle" font-family="Liberation Sans" textLength="125" lengthAdjust="spacingAndGlyphs" >CLOCK 128 BPM</text><path d="M299.27 608.94A5.9 6.4 0 1 1 306.53 608.94" fill="none" stroke="#dd0a0a" stroke-width="5"/><rect x="294.50" y="609.10" width="6" height="4.2" fill="#dd0a0a"/><rect x="305.30" y="609.10" width="6" height="4.2" fill="#dd0a0a"/><text x="300.29999999999995" y="617.1" font-size="19" fill="#efefef" text-anchor="start" font-family="Liberation Serif" font-style="italic" font-weight="bold" stroke="#7a0c0c" stroke-width="0.6">R</text><rect x="424" y="241" width="1200" height="380" fill="#04408a"/><circle cx="431.5" cy="248" r="6.8" fill="#d0d0d0"/><polygon points="431.50,242.60 429.95,245.32 426.82,245.30 428.40,248.00 426.82,250.70 429.95,250.68 431.50,253.40 433.05,250.68 436.18,250.70 434.60,248.00 436.18,245.30 433.05,245.32" fill="#8c8e8c"/><circle cx="431.5" cy="248" r="2.4" fill="#404040"/><circle cx="431.5" cy="613.5" r="6.8" fill="#d0d0d0"/><polygon points="431.50,608.10 429.95,610.82 426.82,610.80 428.40,613.50 426.82,616.20 429.95,616.18 431.50,618.90 433.05,616.18 436.18,616.20 434.60,613.50 436.18,610.80 433.05,610.82" fill="#8c8e8c"/><circle cx="431.5" cy="613.5" r="2.4" fill="#404040"/><circle cx="1616.5" cy="613.5" r="6.8" fill="#d0d0d0"/><polygon points="1616.50,608.10 1614.95,610.82 1611.82,610.80 1613.40,613.50 1611.82,616.20 1614.95,616.18 1616.50,618.90 1618.05,616.18 1621.18,616.20 1619.60,613.50 1621.18,610.80 1618.05,610.82" fill="#8c8e8c"/><circle cx="1616.5" cy="613.5" r="2.4" fill="#404040"/><text x="443.5" y="270.2" font-size="14" fill="#ece8dc" text-anchor="middle" font-family="Liberation Sans" font-weight="bold" textLength="27.5" lengthAdjust="spacingAndGlyphs" >CLOCK</text><circle cx="443.5" cy="288" r="12.5" fill="#000" opacity="0.35"/><circle cx="443.5" cy="287" r="12" fill="url(#jring)"/><circle cx="443.5" cy="287" r="8.64" fill="url(#jin)"/><circle cx="443.5" cy="287" r="5.40" fill="#000"/><rect x="441.3" y="285.7" width="2.2" height="2.6" fill="#555"/><path d="M443.5 285.7l1.8-1.4v5.4l-1.8-1.4z" fill="#555"/><text x="443.5" y="313.2" font-size="14" fill="#ece8dc" text-anchor="middle" font-family="Liberation Sans" font-weight="bold" textLength="21" lengthAdjust="spacingAndGlyphs" >RUN</text><circle cx="443.5" cy="331" r="12.5" fill="#000" opacity="0.35"/><circle cx="443.5" cy="330" r="12" fill="url(#jring)"/><circle cx="443.5" cy="330" r="8.64" fill="url(#jin)"/><circle cx="443.5" cy="330" r="5.40" fill="#000"/><rect x="441.3" y="328.7" width="2.2" height="2.6" fill="#555"/><path d="M443.5 328.7l1.8-1.4v5.4l-1.8-1.4z" fill="#555"/><circle cx="457.5" cy="316.5" r="3.3" fill="url(#ledoff)"/><text x="443.5" y="356.2" font-size="14" fill="#ece8dc" text-anchor="middle" font-family="Liberation Sans" font-weight="bold" textLength="29" lengthAdjust="spacingAndGlyphs" >RESET</text><circle cx="443.5" cy="374" r="12.5" fill="#000" opacity="0.35"/><circle cx="443.5" cy="373" r="12" fill="url(#jring)"/><circle cx="443.5" cy="373" r="8.64" fill="url(#jin)"/><circle cx="443.5" cy="373" r="5.40" fill="#000"/><rect x="441.3" y="371.7" width="2.2" height="2.6" fill="#555"/><path d="M443.5 371.7l1.8-1.4v5.4l-1.8-1.4z" fill="#555"/><circle cx="457.5" cy="359.5" r="3.3" fill="url(#ledoff)"/><text x="443.5" y="399.2" font-size="14" fill="#ece8dc" text-anchor="middle" font-family="Liberation Sans" font-weight="bold" textLength="18" lengthAdjust="spacingAndGlyphs" >CV1</text><circle cx="443.5" cy="417" r="12.5" fill="#000" opacity="0.35"/><circle cx="443.5" cy="416" r="12" fill="url(#jring)"/><circle cx="443.5" cy="416" r="8.64" fill="url(#jin)"/><circle cx="443.5" cy="416" r="5.40" fill="#000"/><rect x="441.3" y="414.7" width="2.2" height="2.6" fill="#555"/><path d="M443.5 414.7l1.8-1.4v5.4l-1.8-1.4z" fill="#555"/><circle cx="457.5" cy="402.5" r="3.3" fill="url(#ledoff)"/><text x="443.5" y="442.2" font-size="14" fill="#ece8dc" text-anchor="middle" font-family="Liberation Sans" font-weight="bold" textLength="19" lengthAdjust="spacingAndGlyphs" >CV2</text><circle cx="443.5" cy="460" r="12.5" fill="#000" opacity="0.35"/><circle cx="443.5" cy="459" r="12" fill="url(#jring)"/><circle cx="443.5" cy="459" r="8.64" fill="url(#jin)"/><circle cx="443.5" cy="459" r="5.40" fill="#000"/><rect x="441.3" y="457.7" width="2.2" height="2.6" fill="#555"/><path d="M443.5 457.7l1.8-1.4v5.4l-1.8-1.4z" fill="#555"/><circle cx="457.5" cy="445.5" r="3.3" fill="url(#ledoff)"/><text x="443.5" y="485.2" font-size="14" fill="#ece8dc" text-anchor="middle" font-family="Liberation Sans" font-weight="bold" textLength="19" lengthAdjust="spacingAndGlyphs" >CV3</text><circle cx="443.5" cy="503" r="12.5" fill="#000" opacity="0.35"/><circle cx="443.5" cy="502" r="12" fill="url(#jring)"/><circle cx="443.5" cy="502" r="8.64" fill="url(#jin)"/><circle cx="443.5" cy="502" r="5.40" fill="#000"/><rect x="441.3" y="500.7" width="2.2" height="2.6" fill="#555"/><path d="M443.5 500.7l1.8-1.4v5.4l-1.8-1.4z" fill="#555"/><circle cx="457.5" cy="488.5" r="3.3" fill="url(#ledoff)"/><text x="443.5" y="528.2" font-size="14" fill="#ece8dc" text-anchor="middle" font-family="Liberation Sans" font-weight="bold" textLength="19" lengthAdjust="spacingAndGlyphs" >CV4</text><circle cx="443.5" cy="546" r="12.5" fill="#000" opacity="0.35"/><circle cx="443.5" cy="545" r="12" fill="url(#jring)"/><circle cx="443.5" cy="545" r="8.64" fill="url(#jin)"/><circle cx="443.5" cy="545" r="5.40" fill="#000"/><rect x="441.3" y="543.7" width="2.2" height="2.6" fill="#555"/><path d="M443.5 543.7l1.8-1.4v5.4l-1.8-1.4z" fill="#555"/><circle cx="457.5" cy="531.5" r="3.3" fill="url(#ledoff)"/><text x="447.8" y="572.0" font-size="14" fill="#ece8dc" text-anchor="middle" font-family="Liberation Sans" font-weight="bold" textLength="30.5" lengthAdjust="spacingAndGlyphs" >PATTRN.</text><circle cx="443.5" cy="589" r="12.5" fill="#000" opacity="0.35"/><circle cx="443.5" cy="588" r="12" fill="url(#jring)"/><circle cx="443.5" cy="588" r="8.64" fill="url(#jin)"/><circle cx="443.5" cy="588" r="5.40" fill="#000"/><rect x="441.3" y="586.7" width="2.2" height="2.6" fill="#555"/><path d="M443.5 586.7l1.8-1.4v5.4l-1.8-1.4z" fill="#555"/><circle cx="457.5" cy="574.5" r="3.3" fill="url(#ledoff)"/><circle cx="458" cy="275.5" r="14" fill="url(#yglow)"/><circle cx="458" cy="275.5" r="4.2" fill="#ffff20"/><circle cx="497.8" cy="267.8" r="9.2" fill="#001a40" opacity="0.4"/><circle cx="497.8" cy="266.6" r="8.9" fill="#e2e0d0"/><circle cx="497.8" cy="266.6" r="7.6" fill="#8a8a84"/><circle cx="497.8" cy="266.6" r="7" fill="url(#sbtn)"/><circle cx="536.4" cy="268.40000000000003" r="18" fill="#001a40" opacity="0.35"/><polygon points="554.30,266.60 552.94,259.75 549.06,253.94 543.25,250.06 536.40,248.70 529.55,250.06 523.74,253.94 519.86,259.75 518.50,266.60 519.86,273.45 523.74,279.26 529.55,283.14 536.40,284.50 543.25,283.14 549.06,279.26 552.94,273.45" fill="#6e6e6e"/><circle cx="536.4" cy="266.6" r="14.4" fill="#000"/><polygon points="549.28,271.55 554.13,269.09 554.13,264.11 549.28,261.65" fill="#000"/><polygon points="549.01,260.99 550.70,255.83 547.17,252.30 542.01,253.99" fill="#000"/><polygon points="541.35,253.72 538.89,248.87 533.91,248.87 531.45,253.72" fill="#000"/><polygon points="530.79,253.99 525.63,252.30 522.10,255.83 523.79,260.99" fill="#000"/><polygon points="523.52,261.65 518.67,264.11 518.67,269.09 523.52,271.55" fill="#000"/><polygon points="523.79,272.21 522.10,277.37 525.63,280.90 530.79,279.21" fill="#000"/><polygon points="531.45,279.48 533.91,284.33 538.89,284.33 541.35,279.48" fill="#000"/><polygon points="542.01,279.21 547.17,280.90 550.70,277.37 549.01,272.21" fill="#000"/><circle cx="536.4" cy="266.6" r="13.7" fill="#bcae9f"/><path d="M536.4 266.6L549.80 263.75A13.7 13.7 0 0 0 545.57 256.42Z" fill="#8e8286"/><path d="M536.4 266.6L550.07 267.44A13.7 13.7 0 0 0 549.80 263.75Z" fill="#f6f2c6"/><path d="M536.4 266.6L523.00 269.45A13.7 13.7 0 0 0 527.23 276.78Z" fill="#8e8286"/><path d="M536.4 266.6L522.73 265.76A13.7 13.7 0 0 0 523.00 269.45Z" fill="#f6f2c6"/><path d="M550.07 267.44L522.73 265.76" stroke="#7a7e90" stroke-width="0.6"/><circle cx="559" cy="266.6" r="3.1" fill="url(#ledoff)"/><circle cx="497.8" cy="308.8" r="9.2" fill="#001a40" opacity="0.4"/><circle cx="497.8" cy="307.6" r="8.9" fill="#e2e0d0"/><circle cx="497.8" cy="307.6" r="7.6" fill="#8a8a84"/><circle cx="497.8" cy="307.6" r="7" fill="url(#sbtn)"/><circle cx="536.4" cy="309.40000000000003" r="18" fill="#001a40" opacity="0.35"/><polygon points="554.30,307.60 552.94,300.75 549.06,294.94 543.25,291.06 536.40,289.70 529.55,291.06 523.74,294.94 519.86,300.75 518.50,307.60 519.86,314.45 523.74,320.26 529.55,324.14 536.40,325.50 543.25,324.14 549.06,320.26 552.94,314.45" fill="#6e6e6e"/><circle cx="536.4" cy="307.6" r="14.4" fill="#000"/><polygon points="549.28,312.55 554.13,310.09 554.13,305.11 549.28,302.65" fill="#000"/><polygon points="549.01,301.99 550.70,296.83 547.17,293.30 542.01,294.99" fill="#000"/><polygon points="541.35,294.72 538.89,289.87 533.91,289.87 531.45,294.72" fill="#000"/><polygon points="530.79,294.99 525.63,293.30 522.10,296.83 523.79,301.99" fill="#000"/><polygon points="523.52,302.65 518.67,305.11 518.67,310.09 523.52,312.55" fill="#000"/><polygon points="523.79,313.21 522.10,318.37 525.63,321.90 530.79,320.21" fill="#000"/><polygon points="531.45,320.48 533.91,325.33 538.89,325.33 541.35,320.48" fill="#000"/><polygon points="542.01,320.21 547.17,321.90 550.70,318.37 549.01,313.21" fill="#000"/><circle cx="536.4" cy="307.6" r="13.7" fill="#bcae9f"/><path d="M536.4 307.6L549.80 304.75A13.7 13.7 0 0 0 545.57 297.42Z" fill="#8e8286"/><path d="M536.4 307.6L550.07 308.44A13.7 13.7 0 0 0 549.80 304.75Z" fill="#f6f2c6"/><path d="M536.4 307.6L523.00 310.45A13.7 13.7 0 0 0 527.23 317.78Z" fill="#8e8286"/><path d="M536.4 307.6L522.73 306.76A13.7 13.7 0 0 0 523.00 310.45Z" fill="#f6f2c6"/><path d="M550.07 308.44L522.73 306.76" stroke="#7a7e90" stroke-width="0.6"/><circle cx="559" cy="307.6" r="3.1" fill="url(#ledoff)"/><circle cx="497.8" cy="349.8" r="9.2" fill="#001a40" opacity="0.4"/><circle cx="497.8" cy="348.6" r="8.9" fill="#e2e0d0"/><circle cx="497.8" cy="348.6" r="7.6" fill="#8a8a84"/><circle cx="497.8" cy="348.6" r="7" fill="url(#sbtn)"/><circle cx="536.4" cy="350.40000000000003" r="18" fill="#001a40" opacity="0.35"/><polygon points="554.30,348.60 552.94,341.75 549.06,335.94 543.25,332.06 536.40,330.70 529.55,332.06 523.74,335.94 519.86,341.75 518.50,348.60 519.86,355.45 523.74,361.26 529.55,365.14 536.40,366.50 543.25,365.14 549.06,361.26 552.94,355.45" fill="#6e6e6e"/><circle cx="536.4" cy="348.6" r="14.4" fill="#000"/><polygon points="549.28,353.55 554.13,351.09 554.13,346.11 549.28,343.65" fill="#000"/><polygon points="549.01,342.99 550.70,337.83 547.17,334.30 542.01,335.99" fill="#000"/><polygon points="541.35,335.72 538.89,330.87 533.91,330.87 531.45,335.72" fill="#000"/><polygon points="530.79,335.99 525.63,334.30 522.10,337.83 523.79,342.99" fill="#000"/><polygon points="523.52,343.65 518.67,346.11 518.67,351.09 523.52,353.55" fill="#000"/><polygon points="523.79,354.21 522.10,359.37 525.63,362.90 530.79,361.21" fill="#000"/><polygon points="531.45,361.48 533.91,366.33 538.89,366.33 541.35,361.48" fill="#000"/><polygon points="542.01,361.21 547.17,362.90 550.70,359.37 549.01,354.21" fill="#000"/><circle cx="536.4" cy="348.6" r="13.7" fill="#bcae9f"/><path d="M536.4 348.6L549.80 345.75A13.7 13.7 0 0 0 545.57 338.42Z" fill="#8e8286"/><path d="M536.4 348.6L550.07 349.44A13.7 13.7 0 0 0 549.80 345.75Z" fill="#f6f2c6"/><path d="M536.4 348.6L523.00 351.45A13.7 13.7 0 0 0 527.23 358.78Z" fill="#8e8286"/><path d="M536.4 348.6L522.73 347.76A13.7 13.7 0 0 0 523.00 351.45Z" fill="#f6f2c6"/><path d="M550.07 349.44L522.73 347.76" stroke="#7a7e90" stroke-width="0.6"/><circle cx="559" cy="348.6" r="3.1" fill="url(#ledoff)"/><circle cx="497.8" cy="390.8" r="9.2" fill="#001a40" opacity="0.4"/><circle cx="497.8" cy="389.6" r="8.9" fill="#e2e0d0"/><circle cx="497.8" cy="389.6" r="7.6" fill="#8a8a84"/><circle cx="497.8" cy="389.6" r="7" fill="url(#sbtn)"/><circle cx="536.4" cy="391.40000000000003" r="18" fill="#001a40" opacity="0.35"/><polygon points="554.30,389.60 552.94,382.75 549.06,376.94 543.25,373.06 536.40,371.70 529.55,373.06 523.74,376.94 519.86,382.75 518.50,389.60 519.86,396.45 523.74,402.26 529.55,406.14 536.40,407.50 543.25,406.14 549.06,402.26 552.94,396.45" fill="#6e6e6e"/><circle cx="536.4" cy="389.6" r="14.4" fill="#000"/><polygon points="549.28,394.55 554.13,392.09 554.13,387.11 549.28,384.65" fill="#000"/><polygon points="549.01,383.99 550.70,378.83 547.17,375.30 542.01,376.99" fill="#000"/><polygon points="541.35,376.72 538.89,371.87 533.91,371.87 531.45,376.72" fill="#000"/><polygon points="530.79,376.99 525.63,375.30 522.10,378.83 523.79,383.99" fill="#000"/><polygon points="523.52,384.65 518.67,387.11 518.67,392.09 523.52,394.55" fill="#000"/><polygon points="523.79,395.21 522.10,400.37 525.63,403.90 530.79,402.21" fill="#000"/><polygon points="531.45,402.48 533.91,407.33 538.89,407.33 541.35,402.48" fill="#000"/><polygon points="542.01,402.21 547.17,403.90 550.70,400.37 549.01,395.21" fill="#000"/><circle cx="536.4" cy="389.6" r="13.7" fill="#bcae9f"/><path d="M536.4 389.6L549.80 386.75A13.7 13.7 0 0 0 545.57 379.42Z" fill="#8e8286"/><path d="M536.4 389.6L550.07 390.44A13.7 13.7 0 0 0 549.80 386.75Z" fill="#f6f2c6"/><path d="M536.4 389.6L523.00 392.45A13.7 13.7 0 0 0 527.23 399.78Z" fill="#8e8286"/><path d="M536.4 389.6L522.73 388.76A13.7 13.7 0 0 0 523.00 392.45Z" fill="#f6f2c6"/><path d="M550.07 390.44L522.73 388.76" stroke="#7a7e90" stroke-width="0.6"/><circle cx="559" cy="389.6" r="3.1" fill="url(#ledoff)"/><circle cx="497.8" cy="431.8" r="9.2" fill="#001a40" opacity="0.4"/><circle cx="497.8" cy="430.6" r="8.9" fill="#e2e0d0"/><circle cx="497.8" cy="430.6" r="7.6" fill="#8a8a84"/><circle cx="497.8" cy="430.6" r="7" fill="url(#sbtn)"/><circle cx="536.4" cy="432.40000000000003" r="18" fill="#001a40" opacity="0.35"/><polygon points="554.30,430.60 552.94,423.75 549.06,417.94 543.25,414.06 536.40,412.70 529.55,414.06 523.74,417.94 519.86,423.75 518.50,430.60 519.86,437.45 523.74,443.26 529.55,447.14 536.40,448.50 543.25,447.14 549.06,443.26 552.94,437.45" fill="#6e6e6e"/><circle cx="536.4" cy="430.6" r="14.4" fill="#000"/><polygon points="549.28,435.55 554.13,433.09 554.13,428.11 549.28,425.65" fill="#000"/><polygon points="549.01,424.99 550.70,419.83 547.17,416.30 542.01,417.99" fill="#000"/><polygon points="541.35,417.72 538.89,412.87 533.91,412.87 531.45,417.72" fill="#000"/><polygon points="530.79,417.99 525.63,416.30 522.10,419.83 523.79,424.99" fill="#000"/><polygon points="523.52,425.65 518.67,428.11 518.67,433.09 523.52,435.55" fill="#000"/><polygon points="523.79,436.21 522.10,441.37 525.63,444.90 530.79,443.21" fill="#000"/><polygon points="531.45,443.48 533.91,448.33 538.89,448.33 541.35,443.48" fill="#000"/><polygon points="542.01,443.21 547.17,444.90 550.70,441.37 549.01,436.21" fill="#000"/><circle cx="536.4" cy="430.6" r="13.7" fill="#bcae9f"/><path d="M536.4 430.6L549.80 427.75A13.7 13.7 0 0 0 545.57 420.42Z" fill="#8e8286"/><path d="M536.4 430.6L550.07 431.44A13.7 13.7 0 0 0 549.80 427.75Z" fill="#f6f2c6"/><path d="M536.4 430.6L523.00 433.45A13.7 13.7 0 0 0 527.23 440.78Z" fill="#8e8286"/><path d="M536.4 430.6L522.73 429.76A13.7 13.7 0 0 0 523.00 433.45Z" fill="#f6f2c6"/><path d="M550.07 431.44L522.73 429.76" stroke="#7a7e90" stroke-width="0.6"/><circle cx="559" cy="430.6" r="3.1" fill="url(#ledoff)"/><circle cx="497.8" cy="472.8" r="9.2" fill="#001a40" opacity="0.4"/><circle cx="497.8" cy="471.6" r="8.9" fill="#e2e0d0"/><circle cx="497.8" cy="471.6" r="7.6" fill="#8a8a84"/><circle cx="497.8" cy="471.6" r="7" fill="url(#sbtn)"/><circle cx="536.4" cy="473.40000000000003" r="18" fill="#001a40" opacity="0.35"/><polygon points="554.30,471.60 552.94,464.75 549.06,458.94 543.25,455.06 536.40,453.70 529.55,455.06 523.74,458.94 519.86,464.75 518.50,471.60 519.86,478.45 523.74,484.26 529.55,488.14 536.40,489.50 543.25,488.14 549.06,484.26 552.94,478.45" fill="#6e6e6e"/><circle cx="536.4" cy="471.6" r="14.4" fill="#000"/><polygon points="549.28,476.55 554.13,474.09 554.13,469.11 549.28,466.65" fill="#000"/><polygon points="549.01,465.99 550.70,460.83 547.17,457.30 542.01,458.99" fill="#000"/><polygon points="541.35,458.72 538.89,453.87 533.91,453.87 531.45,458.72" fill="#000"/><polygon points="530.79,458.99 525.63,457.30 522.10,460.83 523.79,465.99" fill="#000"/><polygon points="523.52,466.65 518.67,469.11 518.67,474.09 523.52,476.55" fill="#000"/><polygon points="523.79,477.21 522.10,482.37 525.63,485.90 530.79,484.21" fill="#000"/><polygon points="531.45,484.48 533.91,489.33 538.89,489.33 541.35,484.48" fill="#000"/><polygon points="542.01,484.21 547.17,485.90 550.70,482.37 549.01,477.21" fill="#000"/><circle cx="536.4" cy="471.6" r="13.7" fill="#bcae9f"/><path d="M536.4 471.6L549.80 468.75A13.7 13.7 0 0 0 545.57 461.42Z" fill="#8e8286"/><path d="M536.4 471.6L550.07 472.44A13.7 13.7 0 0 0 549.80 468.75Z" fill="#f6f2c6"/><path d="M536.4 471.6L523.00 474.45A13.7 13.7 0 0 0 527.23 481.78Z" fill="#8e8286"/><path d="M536.4 471.6L522.73 470.76A13.7 13.7 0 0 0 523.00 474.45Z" fill="#f6f2c6"/><path d="M550.07 472.44L522.73 470.76" stroke="#7a7e90" stroke-width="0.6"/><circle cx="559" cy="471.6" r="3.1" fill="url(#ledoff)"/><circle cx="497.8" cy="513.8000000000001" r="9.2" fill="#001a40" opacity="0.4"/><circle cx="497.8" cy="512.6" r="8.9" fill="#e2e0d0"/><circle cx="497.8" cy="512.6" r="7.6" fill="#8a8a84"/><circle cx="497.8" cy="512.6" r="7" fill="url(#sbtn)"/><circle cx="536.4" cy="514.4" r="18" fill="#001a40" opacity="0.35"/><polygon points="554.30,512.60 552.94,505.75 549.06,499.94 543.25,496.06 536.40,494.70 529.55,496.06 523.74,499.94 519.86,505.75 518.50,512.60 519.86,519.45 523.74,525.26 529.55,529.14 536.40,530.50 543.25,529.14 549.06,525.26 552.94,519.45" fill="#6e6e6e"/><circle cx="536.4" cy="512.6" r="14.4" fill="#000"/><polygon points="549.28,517.55 554.13,515.09 554.13,510.11 549.28,507.65" fill="#000"/><polygon points="549.01,506.99 550.70,501.83 547.17,498.30 542.01,499.99" fill="#000"/><polygon points="541.35,499.72 538.89,494.87 533.91,494.87 531.45,499.72" fill="#000"/><polygon points="530.79,499.99 525.63,498.30 522.10,501.83 523.79,506.99" fill="#000"/><polygon points="523.52,507.65 518.67,510.11 518.67,515.09 523.52,517.55" fill="#000"/><polygon points="523.79,518.21 522.10,523.37 525.63,526.90 530.79,525.21" fill="#000"/><polygon points="531.45,525.48 533.91,530.33 538.89,530.33 541.35,525.48" fill="#000"/><polygon points="542.01,525.21 547.17,526.90 550.70,523.37 549.01,518.21" fill="#000"/><circle cx="536.4" cy="512.6" r="13.7" fill="#bcae9f"/><path d="M536.4 512.6L549.80 509.75A13.7 13.7 0 0 0 545.57 502.42Z" fill="#8e8286"/><path d="M536.4 512.6L550.07 513.44A13.7 13.7 0 0 0 549.80 509.75Z" fill="#f6f2c6"/><path d="M536.4 512.6L523.00 515.45A13.7 13.7 0 0 0 527.23 522.78Z" fill="#8e8286"/><path d="M536.4 512.6L522.73 511.76A13.7 13.7 0 0 0 523.00 515.45Z" fill="#f6f2c6"/><path d="M550.07 513.44L522.73 511.76" stroke="#7a7e90" stroke-width="0.6"/><circle cx="559" cy="512.6" r="3.1" fill="url(#ledoff)"/><circle cx="536.4" cy="555.4" r="18" fill="#001a40" opacity="0.35"/><polygon points="554.30,553.60 552.94,546.75 549.06,540.94 543.25,537.06 536.40,535.70 529.55,537.06 523.74,540.94 519.86,546.75 518.50,553.60 519.86,560.45 523.74,566.26 529.55,570.14 536.40,571.50 543.25,570.14 549.06,566.26 552.94,560.45" fill="#6e6e6e"/><circle cx="536.4" cy="553.6" r="14.4" fill="#000"/><polygon points="549.28,558.55 554.13,556.09 554.13,551.11 549.28,548.65" fill="#000"/><polygon points="549.01,547.99 550.70,542.83 547.17,539.30 542.01,540.99" fill="#000"/><polygon points="541.35,540.72 538.89,535.87 533.91,535.87 531.45,540.72" fill="#000"/><polygon points="530.79,540.99 525.63,539.30 522.10,542.83 523.79,547.99" fill="#000"/><polygon points="523.52,548.65 518.67,551.11 518.67,556.09 523.52,558.55" fill="#000"/><polygon points="523.79,559.21 522.10,564.37 525.63,567.90 530.79,566.21" fill="#000"/><polygon points="531.45,566.48 533.91,571.33 538.89,571.33 541.35,566.48" fill="#000"/><polygon points="542.01,566.21 547.17,567.90 550.70,564.37 549.01,559.21" fill="#000"/><circle cx="536.4" cy="553.6" r="13.7" fill="#bcae9f"/><path d="M536.4 553.6L549.80 550.75A13.7 13.7 0 0 0 545.57 543.42Z" fill="#8e8286"/><path d="M536.4 553.6L550.07 554.44A13.7 13.7 0 0 0 549.80 550.75Z" fill="#f6f2c6"/><path d="M536.4 553.6L523.00 556.45A13.7 13.7 0 0 0 527.23 563.78Z" fill="#8e8286"/><path d="M536.4 553.6L522.73 552.76A13.7 13.7 0 0 0 523.00 556.45Z" fill="#f6f2c6"/><path d="M550.07 554.44L522.73 552.76" stroke="#7a7e90" stroke-width="0.6"/><circle cx="559" cy="553.6" r="3.1" fill="url(#ledoff)"/><circle cx="511" cy="288.4" r="8.6" fill="#001a40" opacity="0.35"/><circle cx="511" cy="287.4" r="8.4" fill="#0a0804"/><circle cx="511" cy="287.4" r="7.8" fill="#6e5c26"/><circle cx="511" cy="287.4" r="6.9" fill="url(#bbtn)"/><circle cx="511" cy="329.4" r="8.6" fill="#001a40" opacity="0.35"/><circle cx="511" cy="328.4" r="8.4" fill="#0a0804"/><circle cx="511" cy="328.4" r="7.8" fill="#6e5c26"/><circle cx="511" cy="328.4" r="6.9" fill="url(#bbtn)"/><circle cx="511" cy="411.4" r="8.6" fill="#001a40" opacity="0.35"/><circle cx="511" cy="410.4" r="8.4" fill="#0a0804"/><circle cx="511" cy="410.4" r="7.8" fill="#6e5c26"/><circle cx="511" cy="410.4" r="6.9" fill="url(#bbtn)"/><circle cx="511" cy="452.4" r="8.6" fill="#001a40" opacity="0.35"/><circle cx="511" cy="451.4" r="8.4" fill="#0a0804"/><circle cx="511" cy="451.4" r="7.8" fill="#6e5c26"/><circle cx="511" cy="451.4" r="6.9" fill="url(#bbtn)"/><circle cx="511" cy="493.4" r="8.6" fill="#001a40" opacity="0.35"/><circle cx="511" cy="492.4" r="8.4" fill="#0a0804"/><circle cx="511" cy="492.4" r="7.8" fill="#6e5c26"/><circle cx="511" cy="492.4" r="6.9" fill="url(#bbtn)"/><rect x="565.05" y="250.14999999999998" width="939.9" height="32.8" fill="#7b817a" stroke="#47425d" stroke-width="1.7"/><text x="567.4000000000001" y="259.59999999999997" font-size="10.4" fill="#4a504a" text-anchor="start" font-family="Liberation Sans" textLength="4.4" lengthAdjust="spacingAndGlyphs" >1</text><g stroke="#4a504a" fill="none"><use href="#D5" x="597.45" y="268.15" stroke-width="1.5"/><use href="#LG" x="583.85" y="255.35" stroke-width="2.7"/></g><rect x="620.0" y="252.2" width="2.2" height="28.6" fill="#4a504a"/><text x="623.4000000000001" y="259.59999999999997" font-size="10.4" fill="#4a504a" text-anchor="start" font-family="Liberation Sans" textLength="4.4" lengthAdjust="spacingAndGlyphs" >2</text><g stroke="#4a504a" fill="none"><use href="#D8" x="653.45" y="268.15" stroke-width="1.5"/><use href="#LC" x="639.85" y="255.35" stroke-width="2.7"/></g><rect x="676.0" y="252.2" width="2.2" height="28.6" fill="#4a504a"/><text x="679.4000000000001" y="259.59999999999997" font-size="10.4" fill="#4a504a" text-anchor="start" font-family="Liberation Sans" textLength="4.4" lengthAdjust="spacingAndGlyphs" >3</text><g stroke="#4a504a" fill="none"><use href="#D0" x="709.45" y="268.15" stroke-width="1.5"/><use href="#LD" x="695.85" y="255.35" stroke-width="2.7"/></g><rect x="732.0" y="252.2" width="2.2" height="28.6" fill="#4a504a"/><text x="735.4000000000001" y="259.59999999999997" font-size="10.4" fill="#4a504a" text-anchor="start" font-family="Liberation Sans" textLength="4.4" lengthAdjust="spacingAndGlyphs" >4</text><g stroke="#4a504a" fill="none"><use href="#Ds" x="762.20" y="254.30" stroke-width="1.3"/><use href="#D7" x="770.55" y="268.15" stroke-width="1.5"/><use href="#LA" x="748.65" y="255.35" stroke-width="2.7"/></g><rect x="788.0" y="252.2" width="2.2" height="28.6" fill="#4a504a"/><text x="791.4000000000001" y="259.59999999999997" font-size="10.4" fill="#4a504a" text-anchor="start" font-family="Liberation Sans" textLength="4.4" lengthAdjust="spacingAndGlyphs" >5</text><g stroke="#4a504a" fill="none"><use href="#D0" x="821.45" y="268.15" stroke-width="1.5"/><use href="#LE" x="807.85" y="255.35" stroke-width="2.7"/></g><rect x="844.0" y="252.2" width="2.2" height="28.6" fill="#4a504a"/><text x="847.4000000000001" y="259.59999999999997" font-size="10.4" fill="#4a504a" text-anchor="start" font-family="Liberation Sans" textLength="4.4" lengthAdjust="spacingAndGlyphs" >6</text><g stroke="#4a504a" fill="none"><use href="#D9" x="877.45" y="268.15" stroke-width="1.5"/><use href="#LF" x="863.85" y="255.35" stroke-width="2.7"/></g><rect x="900.0" y="252.2" width="2.2" height="28.6" fill="#4a504a"/><text x="903.4000000000001" y="259.59999999999997" font-size="10.4" fill="#4a504a" text-anchor="start" font-family="Liberation Sans" textLength="4.4" lengthAdjust="spacingAndGlyphs" >7</text><g stroke="#4a504a" fill="none"><use href="#D8" x="933.45" y="268.15" stroke-width="1.5"/><use href="#LD" x="919.85" y="255.35" stroke-width="2.7"/></g><rect x="956.0" y="252.2" width="2.2" height="28.6" fill="#4a504a"/><text x="959.4000000000001" y="259.59999999999997" font-size="10.4" fill="#4a504a" text-anchor="start" font-family="Liberation Sans" textLength="4.4" lengthAdjust="spacingAndGlyphs" >8</text><g stroke="#4a504a" fill="none"><use href="#D9" x="989.45" y="268.15" stroke-width="1.5"/><use href="#LD" x="975.85" y="255.35" stroke-width="2.7"/></g><rect x="1012.0" y="252.2" width="2.2" height="28.6" fill="#4a504a"/><text x="1015.4000000000001" y="259.59999999999997" font-size="10.4" fill="#4a504a" text-anchor="start" font-family="Liberation Sans" textLength="4.4" lengthAdjust="spacingAndGlyphs" >9</text><g stroke="#4a504a" fill="none"><use href="#Ds" x="1042.20" y="254.30" stroke-width="1.3"/><use href="#D1" x="1050.55" y="268.15" stroke-width="1.5"/><use href="#LC" x="1028.65" y="255.35" stroke-width="2.7"/></g><rect x="1068.0" y="252.2" width="2.2" height="28.6" fill="#4a504a"/><text x="1071.4" y="259.59999999999997" font-size="10.4" fill="#4a504a" text-anchor="start" font-family="Liberation Sans" textLength="8.4" lengthAdjust="spacingAndGlyphs" >10</text><g stroke="#4a504a" fill="none"><use href="#Ds" x="1098.20" y="254.30" stroke-width="1.3"/><use href="#D6" x="1106.55" y="268.15" stroke-width="1.5"/><use href="#LD" x="1084.65" y="255.35" stroke-width="2.7"/></g><rect x="1124.0" y="252.2" width="2.2" height="28.6" fill="#4a504a"/><text x="1127.4" y="259.59999999999997" font-size="10.4" fill="#4a504a" text-anchor="start" font-family="Liberation Sans" textLength="8.4" lengthAdjust="spacingAndGlyphs" >11</text><g stroke="#4a504a" fill="none"><use href="#Ds" x="1154.20" y="254.30" stroke-width="1.3"/><use href="#D3" x="1162.55" y="268.15" stroke-width="1.5"/><use href="#LF" x="1140.65" y="255.35" stroke-width="2.7"/></g><rect x="1180.0" y="252.2" width="2.2" height="28.6" fill="#4a504a"/><text x="1183.4" y="259.59999999999997" font-size="10.4" fill="#4a504a" text-anchor="start" font-family="Liberation Sans" textLength="8.4" lengthAdjust="spacingAndGlyphs" >12</text><g stroke="#4a504a" fill="none"><use href="#Ds" x="1210.20" y="254.30" stroke-width="1.3"/><use href="#Dm" x="1216.20" y="275.20" stroke-width="1.5"/><use href="#D1" x="1223.00" y="267.75" stroke-width="1.5"/><use href="#LG" x="1193.85" y="255.35" stroke-width="2.7"/></g><rect x="1236.0" y="252.2" width="2.2" height="28.6" fill="#4a504a"/><text x="1239.4" y="259.59999999999997" font-size="10.4" fill="#4a504a" text-anchor="start" font-family="Liberation Sans" textLength="8.4" lengthAdjust="spacingAndGlyphs" >13</text><g stroke="#4a504a" fill="none"><use href="#Ds" x="1266.20" y="254.30" stroke-width="1.3"/><use href="#D8" x="1274.55" y="268.15" stroke-width="1.5"/><use href="#LD" x="1252.65" y="255.35" stroke-width="2.7"/></g><rect x="1292.0" y="252.2" width="2.2" height="28.6" fill="#4a504a"/><text x="1295.4" y="259.59999999999997" font-size="10.4" fill="#4a504a" text-anchor="start" font-family="Liberation Sans" textLength="8.4" lengthAdjust="spacingAndGlyphs" >14</text><g stroke="#4a504a" fill="none"><use href="#D3" x="1325.45" y="268.15" stroke-width="1.5"/><use href="#LE" x="1311.85" y="255.35" stroke-width="2.7"/></g><rect x="1348.0" y="252.2" width="2.2" height="28.6" fill="#4a504a"/><text x="1351.4" y="259.59999999999997" font-size="10.4" fill="#4a504a" text-anchor="start" font-family="Liberation Sans" textLength="8.4" lengthAdjust="spacingAndGlyphs" >15</text><g stroke="#4a504a" fill="none"><use href="#Ds" x="1378.20" y="254.30" stroke-width="1.3"/><use href="#D7" x="1386.55" y="268.15" stroke-width="1.5"/><use href="#LD" x="1364.65" y="255.35" stroke-width="2.7"/></g><rect x="1404.0" y="252.2" width="2.2" height="28.6" fill="#4a504a"/><text x="1407.4" y="259.59999999999997" font-size="10.4" fill="#4a504a" text-anchor="start" font-family="Liberation Sans" textLength="8.4" lengthAdjust="spacingAndGlyphs" >16</text><g stroke="#4a504a" fill="none"><use href="#D4" x="1437.45" y="268.15" stroke-width="1.5"/><use href="#LG" x="1423.85" y="255.35" stroke-width="2.7"/></g><rect x="1460.0" y="252.2" width="2.2" height="28.6" fill="#4a504a"/><text x="1464.8" y="259.9" font-size="10.8" fill="#4a504a" text-anchor="start" font-family="Liberation Sans" textLength="23.9" lengthAdjust="spacingAndGlyphs" >TRACK</text><text x="1492.2" y="259.9" font-size="10.8" fill="#4a504a" text-anchor="start" font-family="Liberation Sans" textLength="2.6" lengthAdjust="spacingAndGlyphs" >1</text><rect x="1464.95" y="263.05" width="16" height="16.1" rx="4.5" fill="none" stroke="#4a504a" stroke-width="1.5"/><text x="1472.95" y="276.8" font-size="16.4" fill="#4a504a" text-anchor="middle" font-family="Liberation Sans" textLength="6" lengthAdjust="spacingAndGlyphs" >M</text><rect x="1485.15" y="263.05" width="16" height="16.1" rx="4.5" fill="none" stroke="#4a504a" stroke-width="1.5"/><text x="1493.15" y="276.8" font-size="16.4" fill="#4a504a" text-anchor="middle" font-family="Liberation Sans" textLength="6" lengthAdjust="spacingAndGlyphs" >S</text><rect x="565.05" y="291.15" width="939.9" height="32.8" fill="#7b817a" stroke="#47425d" stroke-width="1.7"/><text x="567.4000000000001" y="300.59999999999997" font-size="10.4" fill="#4a504a" text-anchor="start" font-family="Liberation Sans" textLength="4.4" lengthAdjust="spacingAndGlyphs" >1</text><g stroke="#4a504a" fill="none"><use href="#Ds" x="594.20" y="295.30" stroke-width="1.3"/><use href="#D6" x="602.55" y="309.15" stroke-width="1.5"/><use href="#LD" x="580.65" y="296.35" stroke-width="2.7"/></g><rect x="620.0" y="293.2" width="2.2" height="28.6" fill="#4a504a"/><text x="623.4000000000001" y="300.59999999999997" font-size="10.4" fill="#4a504a" text-anchor="start" font-family="Liberation Sans" textLength="4.4" lengthAdjust="spacingAndGlyphs" >2</text><g stroke="#4a504a" fill="none"><use href="#D2" x="653.45" y="309.15" stroke-width="1.5"/><use href="#LE" x="639.85" y="296.35" stroke-width="2.7"/></g><rect x="676.0" y="293.2" width="2.2" height="28.6" fill="#4a504a"/><text x="679.4000000000001" y="300.59999999999997" font-size="10.4" fill="#4a504a" text-anchor="start" font-family="Liberation Sans" textLength="4.4" lengthAdjust="spacingAndGlyphs" >3</text><g stroke="#4a504a" fill="none"><use href="#Ds" x="706.20" y="295.30" stroke-width="1.3"/><use href="#D1" x="714.55" y="309.15" stroke-width="1.5"/><use href="#LG" x="692.65" y="296.35" stroke-width="2.7"/></g><rect x="732.0" y="293.2" width="2.2" height="28.6" fill="#4a504a"/><text x="735.4000000000001" y="300.59999999999997" font-size="10.4" fill="#4a504a" text-anchor="start" font-family="Liberation Sans" textLength="4.4" lengthAdjust="spacingAndGlyphs" >4</text><g stroke="#4a504a" fill="none"><use href="#D5" x="765.45" y="309.15" stroke-width="1.5"/><use href="#LF" x="751.85" y="296.35" stroke-width="2.7"/></g><rect x="788.0" y="293.2" width="2.2" height="28.6" fill="#4a504a"/><text x="791.4000000000001" y="300.59999999999997" font-size="10.4" fill="#4a504a" text-anchor="start" font-family="Liberation Sans" textLength="4.4" lengthAdjust="spacingAndGlyphs" >5</text><g stroke="#4a504a" fill="none"><use href="#D2" x="821.45" y="309.15" stroke-width="1.5"/><use href="#LE" x="807.85" y="296.35" stroke-width="2.7"/></g><rect x="844.0" y="293.2" width="2.2" height="28.6" fill="#4a504a"/><text x="847.4000000000001" y="300.59999999999997" font-size="10.4" fill="#4a504a" text-anchor="start" font-family="Liberation Sans" textLength="4.4" lengthAdjust="spacingAndGlyphs" >6</text><g stroke="#4a504a" fill="none"><use href="#D7" x="877.45" y="309.15" stroke-width="1.5"/><use href="#LB" x="863.85" y="296.35" stroke-width="2.7"/></g><rect x="900.0" y="293.2" width="2.2" height="28.6" fill="#4a504a"/><text x="903.4000000000001" y="300.59999999999997" font-size="10.4" fill="#4a504a" text-anchor="start" font-family="Liberation Sans" textLength="4.4" lengthAdjust="spacingAndGlyphs" >7</text><g stroke="#4a504a" fill="none"><use href="#Ds" x="930.20" y="295.30" stroke-width="1.3"/><use href="#D2" x="938.55" y="309.15" stroke-width="1.5"/><use href="#LD" x="916.65" y="296.35" stroke-width="2.7"/></g><rect x="956.0" y="293.2" width="2.2" height="28.6" fill="#4a504a"/><text x="959.4000000000001" y="300.59999999999997" font-size="10.4" fill="#4a504a" text-anchor="start" font-family="Liberation Sans" textLength="4.4" lengthAdjust="spacingAndGlyphs" >8</text><g stroke="#4a504a" fill="none"><use href="#Ds" x="986.20" y="295.30" stroke-width="1.3"/><use href="#D5" x="994.55" y="309.15" stroke-width="1.5"/><use href="#LA" x="972.65" y="296.35" stroke-width="2.7"/></g><rect x="1012.0" y="293.2" width="2.2" height="28.6" fill="#4a504a"/><text x="1015.4000000000001" y="300.59999999999997" font-size="10.4" fill="#4a504a" text-anchor="start" font-family="Liberation Sans" textLength="4.4" lengthAdjust="spacingAndGlyphs" >9</text><g stroke="#4a504a" fill="none"><use href="#Ds" x="1042.20" y="295.30" stroke-width="1.3"/><use href="#D8" x="1050.55" y="309.15" stroke-width="1.5"/><use href="#LF" x="1028.65" y="296.35" stroke-width="2.7"/></g><rect x="1068.0" y="293.2" width="2.2" height="28.6" fill="#4a504a"/><text x="1071.4" y="300.59999999999997" font-size="10.4" fill="#4a504a" text-anchor="start" font-family="Liberation Sans" textLength="8.4" lengthAdjust="spacingAndGlyphs" >10</text><g stroke="#4a504a" fill="none"><use href="#Ds" x="1098.20" y="295.30" stroke-width="1.3"/><use href="#D8" x="1106.55" y="309.15" stroke-width="1.5"/><use href="#LA" x="1084.65" y="296.35" stroke-width="2.7"/></g><rect x="1124.0" y="293.2" width="2.2" height="28.6" fill="#4a504a"/><text x="1127.4" y="300.59999999999997" font-size="10.4" fill="#4a504a" text-anchor="start" font-family="Liberation Sans" textLength="8.4" lengthAdjust="spacingAndGlyphs" >11</text><g stroke="#4a504a" fill="none"><use href="#D5" x="1157.45" y="309.15" stroke-width="1.5"/><use href="#LC" x="1143.85" y="296.35" stroke-width="2.7"/></g><rect x="1180.0" y="293.2" width="2.2" height="28.6" fill="#4a504a"/><text x="1183.4" y="300.59999999999997" font-size="10.4" fill="#4a504a" text-anchor="start" font-family="Liberation Sans" textLength="8.4" lengthAdjust="spacingAndGlyphs" >12</text><g stroke="#4a504a" fill="none"><use href="#Ds" x="1210.20" y="295.30" stroke-width="1.3"/><use href="#D2" x="1218.55" y="309.15" stroke-width="1.5"/><use href="#LC" x="1196.65" y="296.35" stroke-width="2.7"/></g><rect x="1236.0" y="293.2" width="2.2" height="28.6" fill="#4a504a"/><text x="1239.4" y="300.59999999999997" font-size="10.4" fill="#4a504a" text-anchor="start" font-family="Liberation Sans" textLength="8.4" lengthAdjust="spacingAndGlyphs" >13</text><g stroke="#4a504a" fill="none"><use href="#Ds" x="1266.20" y="295.30" stroke-width="1.3"/><use href="#D4" x="1274.55" y="309.15" stroke-width="1.5"/><use href="#LD" x="1252.65" y="296.35" stroke-width="2.7"/></g><rect x="1292.0" y="293.2" width="2.2" height="28.6" fill="#4a504a"/><text x="1295.4" y="300.59999999999997" font-size="10.4" fill="#4a504a" text-anchor="start" font-family="Liberation Sans" textLength="8.4" lengthAdjust="spacingAndGlyphs" >14</text><g stroke="#4a504a" fill="none"><use href="#Ds" x="1322.20" y="295.30" stroke-width="1.3"/><use href="#D8" x="1330.55" y="309.15" stroke-width="1.5"/><use href="#LC" x="1308.65" y="296.35" stroke-width="2.7"/></g><rect x="1348.0" y="293.2" width="2.2" height="28.6" fill="#4a504a"/><text x="1351.4" y="300.59999999999997" font-size="10.4" fill="#4a504a" text-anchor="start" font-family="Liberation Sans" textLength="8.4" lengthAdjust="spacingAndGlyphs" >15</text><g stroke="#4a504a" fill="none"><use href="#D5" x="1381.45" y="309.15" stroke-width="1.5"/><use href="#LD" x="1367.85" y="296.35" stroke-width="2.7"/></g><rect x="1404.0" y="293.2" width="2.2" height="28.6" fill="#4a504a"/><text x="1407.4" y="300.59999999999997" font-size="10.4" fill="#4a504a" text-anchor="start" font-family="Liberation Sans" textLength="8.4" lengthAdjust="spacingAndGlyphs" >16</text><g stroke="#4a504a" fill="none"><use href="#D6" x="1437.45" y="309.15" stroke-width="1.5"/><use href="#LC" x="1423.85" y="296.35" stroke-width="2.7"/></g><rect x="1460.0" y="293.2" width="2.2" height="28.6" fill="#4a504a"/><text x="1464.8" y="300.9" font-size="10.8" fill="#4a504a" text-anchor="start" font-family="Liberation Sans" textLength="23.9" lengthAdjust="spacingAndGlyphs" >TRACK</text><text x="1492.2" y="300.9" font-size="10.8" fill="#4a504a" text-anchor="start" font-family="Liberation Sans" textLength="5.2" lengthAdjust="spacingAndGlyphs" >2</text><rect x="1464.95" y="304.05" width="16" height="16.1" rx="4.5" fill="none" stroke="#4a504a" stroke-width="1.5"/><text x="1472.95" y="317.8" font-size="16.4" fill="#4a504a" text-anchor="middle" font-family="Liberation Sans" textLength="6" lengthAdjust="spacingAndGlyphs" >M</text><rect x="1485.15" y="304.05" width="16" height="16.1" rx="4.5" fill="none" stroke="#4a504a" stroke-width="1.5"/><text x="1493.15" y="317.8" font-size="16.4" fill="#4a504a" text-anchor="middle" font-family="Liberation Sans" textLength="6" lengthAdjust="spacingAndGlyphs" >S</text><rect x="565.05" y="332.15" width="939.9" height="32.8" fill="#7b817a" stroke="#47425d" stroke-width="1.7"/><text x="567.4000000000001" y="341.59999999999997" font-size="10.4" fill="#4a504a" text-anchor="start" font-family="Liberation Sans" textLength="4.4" lengthAdjust="spacingAndGlyphs" >1</text><g stroke="#4a504a" fill="none"><use href="#Ds" x="594.20" y="336.30" stroke-width="1.3"/><use href="#Dm" x="600.20" y="357.20" stroke-width="1.5"/><use href="#D1" x="607.00" y="349.75" stroke-width="1.5"/><use href="#LA" x="577.85" y="337.35" stroke-width="2.7"/></g><rect x="620.0" y="334.2" width="2.2" height="28.6" fill="#4a504a"/><text x="623.4000000000001" y="341.59999999999997" font-size="10.4" fill="#4a504a" text-anchor="start" font-family="Liberation Sans" textLength="4.4" lengthAdjust="spacingAndGlyphs" >2</text><g stroke="#4a504a" fill="none"><use href="#Ds" x="650.20" y="336.30" stroke-width="1.3"/><use href="#D6" x="658.55" y="350.15" stroke-width="1.5"/><use href="#LG" x="636.65" y="337.35" stroke-width="2.7"/></g><rect x="676.0" y="334.2" width="2.2" height="28.6" fill="#4a504a"/><text x="679.4000000000001" y="341.59999999999997" font-size="10.4" fill="#4a504a" text-anchor="start" font-family="Liberation Sans" textLength="4.4" lengthAdjust="spacingAndGlyphs" >3</text><g stroke="#4a504a" fill="none"><use href="#Ds" x="706.20" y="336.30" stroke-width="1.3"/><use href="#D7" x="714.55" y="350.15" stroke-width="1.5"/><use href="#LD" x="692.65" y="337.35" stroke-width="2.7"/></g><rect x="732.0" y="334.2" width="2.2" height="28.6" fill="#4a504a"/><text x="735.4000000000001" y="341.59999999999997" font-size="10.4" fill="#4a504a" text-anchor="start" font-family="Liberation Sans" textLength="4.4" lengthAdjust="spacingAndGlyphs" >4</text><g stroke="#4a504a" fill="none"><use href="#Dm" x="763.00" y="357.20" stroke-width="1.5"/><use href="#D1" x="769.80" y="349.75" stroke-width="1.5"/><use href="#LE" x="749.35" y="337.35" stroke-width="2.7"/></g><rect x="788.0" y="334.2" width="2.2" height="28.6" fill="#4a504a"/><text x="791.4000000000001" y="341.59999999999997" font-size="10.4" fill="#4a504a" text-anchor="start" font-family="Liberation Sans" textLength="4.4" lengthAdjust="spacingAndGlyphs" >5</text><g stroke="#4a504a" fill="none"><use href="#D9" x="821.45" y="350.15" stroke-width="1.5"/><use href="#LE" x="807.85" y="337.35" stroke-width="2.7"/></g><rect x="844.0" y="334.2" width="2.2" height="28.6" fill="#4a504a"/><text x="847.4000000000001" y="341.59999999999997" font-size="10.4" fill="#4a504a" text-anchor="start" font-family="Liberation Sans" textLength="4.4" lengthAdjust="spacingAndGlyphs" >6</text><g stroke="#4a504a" fill="none"><use href="#D8" x="877.45" y="350.15" stroke-width="1.5"/><use href="#LD" x="863.85" y="337.35" stroke-width="2.7"/></g><rect x="900.0" y="334.2" width="2.2" height="28.6" fill="#4a504a"/><text x="903.4000000000001" y="341.59999999999997" font-size="10.4" fill="#4a504a" text-anchor="start" font-family="Liberation Sans" textLength="4.4" lengthAdjust="spacingAndGlyphs" >7</text><g stroke="#4a504a" fill="none"><use href="#D4" x="933.45" y="350.15" stroke-width="1.5"/><use href="#LA" x="919.85" y="337.35" stroke-width="2.7"/></g><rect x="956.0" y="334.2" width="2.2" height="28.6" fill="#4a504a"/><text x="959.4000000000001" y="341.59999999999997" font-size="10.4" fill="#4a504a" text-anchor="start" font-family="Liberation Sans" textLength="4.4" lengthAdjust="spacingAndGlyphs" >8</text><g stroke="#4a504a" fill="none"><use href="#Ds" x="986.20" y="336.30" stroke-width="1.3"/><use href="#Dm" x="992.20" y="357.20" stroke-width="1.5"/><use href="#D1" x="999.00" y="349.75" stroke-width="1.5"/><use href="#LA" x="969.85" y="337.35" stroke-width="2.7"/></g><rect x="1012.0" y="334.2" width="2.2" height="28.6" fill="#4a504a"/><text x="1015.4000000000001" y="341.59999999999997" font-size="10.4" fill="#4a504a" text-anchor="start" font-family="Liberation Sans" textLength="4.4" lengthAdjust="spacingAndGlyphs" >9</text><g stroke="#4a504a" fill="none"><use href="#Ds" x="1042.20" y="336.30" stroke-width="1.3"/><use href="#D0" x="1050.55" y="350.15" stroke-width="1.5"/><use href="#LG" x="1028.65" y="337.35" stroke-width="2.7"/></g><rect x="1068.0" y="334.2" width="2.2" height="28.6" fill="#4a504a"/><text x="1071.4" y="341.59999999999997" font-size="10.4" fill="#4a504a" text-anchor="start" font-family="Liberation Sans" textLength="8.4" lengthAdjust="spacingAndGlyphs" >10</text><g stroke="#4a504a" fill="none"><use href="#Ds" x="1098.20" y="336.30" stroke-width="1.3"/><use href="#D7" x="1106.55" y="350.15" stroke-width="1.5"/><use href="#LF" x="1084.65" y="337.35" stroke-width="2.7"/></g><rect x="1124.0" y="334.2" width="2.2" height="28.6" fill="#4a504a"/><text x="1127.4" y="341.59999999999997" font-size="10.4" fill="#4a504a" text-anchor="start" font-family="Liberation Sans" textLength="8.4" lengthAdjust="spacingAndGlyphs" >11</text><g stroke="#4a504a" fill="none"><use href="#D2" x="1157.45" y="350.15" stroke-width="1.5"/><use href="#LE" x="1143.85" y="337.35" stroke-width="2.7"/></g><rect x="1180.0" y="334.2" width="2.2" height="28.6" fill="#4a504a"/><text x="1183.4" y="341.59999999999997" font-size="10.4" fill="#4a504a" text-anchor="start" font-family="Liberation Sans" textLength="8.4" lengthAdjust="spacingAndGlyphs" >12</text><g stroke="#4a504a" fill="none"><use href="#Dm" x="1211.00" y="357.20" stroke-width="1.5"/><use href="#D1" x="1217.80" y="349.75" stroke-width="1.5"/><use href="#LD" x="1197.35" y="337.35" stroke-width="2.7"/></g><rect x="1236.0" y="334.2" width="2.2" height="28.6" fill="#4a504a"/><text x="1239.4" y="341.59999999999997" font-size="10.4" fill="#4a504a" text-anchor="start" font-family="Liberation Sans" textLength="8.4" lengthAdjust="spacingAndGlyphs" >13</text><g stroke="#4a504a" fill="none"><use href="#D5" x="1269.45" y="350.15" stroke-width="1.5"/><use href="#LD" x="1255.85" y="337.35" stroke-width="2.7"/></g><rect x="1292.0" y="334.2" width="2.2" height="28.6" fill="#4a504a"/><text x="1295.4" y="341.59999999999997" font-size="10.4" fill="#4a504a" text-anchor="start" font-family="Liberation Sans" textLength="8.4" lengthAdjust="spacingAndGlyphs" >14</text><g stroke="#4a504a" fill="none"><use href="#Ds" x="1322.20" y="336.30" stroke-width="1.3"/><use href="#D5" x="1330.55" y="350.15" stroke-width="1.5"/><use href="#LA" x="1308.65" y="337.35" stroke-width="2.7"/></g><rect x="1348.0" y="334.2" width="2.2" height="28.6" fill="#4a504a"/><text x="1351.4" y="341.59999999999997" font-size="10.4" fill="#4a504a" text-anchor="start" font-family="Liberation Sans" textLength="8.4" lengthAdjust="spacingAndGlyphs" >15</text><g stroke="#4a504a" fill="none"><use href="#Ds" x="1378.20" y="336.30" stroke-width="1.3"/><use href="#D6" x="1386.55" y="350.15" stroke-width="1.5"/><use href="#LA" x="1364.65" y="337.35" stroke-width="2.7"/></g><rect x="1404.0" y="334.2" width="2.2" height="28.6" fill="#4a504a"/><text x="1407.4" y="341.59999999999997" font-size="10.4" fill="#4a504a" text-anchor="start" font-family="Liberation Sans" textLength="8.4" lengthAdjust="spacingAndGlyphs" >16</text><g stroke="#4a504a" fill="none"><use href="#D8" x="1437.45" y="350.15" stroke-width="1.5"/><use href="#LC" x="1423.85" y="337.35" stroke-width="2.7"/></g><rect x="1460.0" y="334.2" width="2.2" height="28.6" fill="#4a504a"/><text x="1464.8" y="341.9" font-size="10.8" fill="#4a504a" text-anchor="start" font-family="Liberation Sans" textLength="23.9" lengthAdjust="spacingAndGlyphs" >TRACK</text><text x="1492.2" y="341.9" font-size="10.8" fill="#4a504a" text-anchor="start" font-family="Liberation Sans" textLength="5.2" lengthAdjust="spacingAndGlyphs" >3</text><rect x="1464.95" y="345.05" width="16" height="16.1" rx="4.5" fill="none" stroke="#4a504a" stroke-width="1.5"/><text x="1472.95" y="358.8" font-size="16.4" fill="#4a504a" text-anchor="middle" font-family="Liberation Sans" textLength="6" lengthAdjust="spacingAndGlyphs" >M</text><rect x="1485.15" y="345.05" width="16" height="16.1" rx="4.5" fill="none" stroke="#4a504a" stroke-width="1.5"/><text x="1493.15" y="358.8" font-size="16.4" fill="#4a504a" text-anchor="middle" font-family="Liberation Sans" textLength="6" lengthAdjust="spacingAndGlyphs" >S</text><rect x="565.05" y="373.15" width="939.9" height="32.8" fill="#7b817a" stroke="#47425d" stroke-width="1.7"/><text x="567.4000000000001" y="382.59999999999997" font-size="10.4" fill="#0a0a0a" text-anchor="start" font-family="Liberation Sans" textLength="4.4" lengthAdjust="spacingAndGlyphs" >1</text><g stroke="#0a0a0a" fill="none"><use href="#D1" x="597.45" y="391.15" stroke-width="1.8"/><use href="#LF" x="583.85" y="378.35" stroke-width="3.2"/></g><rect x="620.0" y="375.2" width="2.2" height="28.6" fill="#0a0a0a"/><text x="623.4000000000001" y="382.59999999999997" font-size="10.4" fill="#0a0a0a" text-anchor="start" font-family="Liberation Sans" textLength="4.4" lengthAdjust="spacingAndGlyphs" >2</text><g stroke="#0a0a0a" fill="none"><use href="#Ds" x="650.20" y="377.30" stroke-width="1.5"/><use href="#D7" x="658.55" y="391.15" stroke-width="1.8"/><use href="#LD" x="636.65" y="378.35" stroke-width="3.2"/></g><rect x="676.0" y="375.2" width="2.2" height="28.6" fill="#0a0a0a"/><text x="679.4000000000001" y="382.59999999999997" font-size="10.4" fill="#0a0a0a" text-anchor="start" font-family="Liberation Sans" textLength="4.4" lengthAdjust="spacingAndGlyphs" >3</text><g stroke="#0a0a0a" fill="none"><use href="#D6" x="709.45" y="391.15" stroke-width="1.8"/><use href="#LC" x="695.85" y="378.35" stroke-width="3.2"/></g><rect x="732.0" y="375.2" width="2.2" height="28.6" fill="#0a0a0a"/><text x="735.4000000000001" y="382.59999999999997" font-size="10.4" fill="#0a0a0a" text-anchor="start" font-family="Liberation Sans" textLength="4.4" lengthAdjust="spacingAndGlyphs" >4</text><g stroke="#0a0a0a" fill="none"><use href="#D8" x="765.45" y="391.15" stroke-width="1.8"/><use href="#LF" x="751.85" y="378.35" stroke-width="3.2"/></g><rect x="788.0" y="375.2" width="2.2" height="28.6" fill="#0a0a0a"/><text x="791.4000000000001" y="382.59999999999997" font-size="10.4" fill="#0a0a0a" text-anchor="start" font-family="Liberation Sans" textLength="4.4" lengthAdjust="spacingAndGlyphs" >5</text><g stroke="#0a0a0a" fill="none"><use href="#Ds" x="818.20" y="377.30" stroke-width="1.5"/><use href="#D7" x="826.55" y="391.15" stroke-width="1.8"/><use href="#LG" x="804.65" y="378.35" stroke-width="3.2"/></g><rect x="844.0" y="375.2" width="2.2" height="28.6" fill="#0a0a0a"/><text x="847.4000000000001" y="382.59999999999997" font-size="10.4" fill="#0a0a0a" text-anchor="start" font-family="Liberation Sans" textLength="4.4" lengthAdjust="spacingAndGlyphs" >6</text><g stroke="#0a0a0a" fill="none"><use href="#Ds" x="874.20" y="377.30" stroke-width="1.5"/><use href="#D1" x="882.55" y="391.15" stroke-width="1.8"/><use href="#LA" x="860.65" y="378.35" stroke-width="3.2"/></g><rect x="900.0" y="375.2" width="2.2" height="28.6" fill="#0a0a0a"/><text x="903.4000000000001" y="382.59999999999997" font-size="10.4" fill="#0a0a0a" text-anchor="start" font-family="Liberation Sans" textLength="4.4" lengthAdjust="spacingAndGlyphs" >7</text><g stroke="#0a0a0a" fill="none"><use href="#Ds" x="930.20" y="377.30" stroke-width="1.5"/><use href="#D0" x="938.55" y="391.15" stroke-width="1.8"/><use href="#LG" x="916.65" y="378.35" stroke-width="3.2"/></g><rect x="956.0" y="375.2" width="2.2" height="28.6" fill="#0a0a0a"/><text x="959.4000000000001" y="382.59999999999997" font-size="10.4" fill="#0a0a0a" text-anchor="start" font-family="Liberation Sans" textLength="4.4" lengthAdjust="spacingAndGlyphs" >8</text><g stroke="#0a0a0a" fill="none"><use href="#D8" x="989.45" y="391.15" stroke-width="1.8"/><use href="#LG" x="975.85" y="378.35" stroke-width="3.2"/></g><rect x="1012.0" y="375.2" width="2.2" height="28.6" fill="#0a0a0a"/><text x="1015.4000000000001" y="382.59999999999997" font-size="10.4" fill="#0a0a0a" text-anchor="start" font-family="Liberation Sans" textLength="4.4" lengthAdjust="spacingAndGlyphs" >9</text><g stroke="#0a0a0a" fill="none"><use href="#Ds" x="1042.20" y="377.30" stroke-width="1.5"/><use href="#D9" x="1050.55" y="391.15" stroke-width="1.8"/><use href="#LF" x="1028.65" y="378.35" stroke-width="3.2"/></g><rect x="1068.0" y="375.2" width="2.2" height="28.6" fill="#0a0a0a"/><text x="1071.4" y="382.59999999999997" font-size="10.4" fill="#0a0a0a" text-anchor="start" font-family="Liberation Sans" textLength="8.4" lengthAdjust="spacingAndGlyphs" >10</text><g stroke="#0a0a0a" fill="none"><use href="#D1" x="1101.45" y="391.15" stroke-width="1.8"/><use href="#LA" x="1087.85" y="378.35" stroke-width="3.2"/></g><rect x="1124.0" y="375.2" width="2.2" height="28.6" fill="#0a0a0a"/><text x="1127.4" y="382.59999999999997" font-size="10.4" fill="#0a0a0a" text-anchor="start" font-family="Liberation Sans" textLength="8.4" lengthAdjust="spacingAndGlyphs" >11</text><g stroke="#0a0a0a" fill="none"><use href="#D2" x="1157.45" y="391.15" stroke-width="1.8"/><use href="#LE" x="1143.85" y="378.35" stroke-width="3.2"/></g><rect x="1180.0" y="375.2" width="2.2" height="28.6" fill="#0a0a0a"/><text x="1183.4" y="382.59999999999997" font-size="10.4" fill="#0a0a0a" text-anchor="start" font-family="Liberation Sans" textLength="8.4" lengthAdjust="spacingAndGlyphs" >12</text><g stroke="#0a0a0a" fill="none"><use href="#Dm" x="1211.00" y="398.20" stroke-width="1.8"/><use href="#D1" x="1217.80" y="390.75" stroke-width="1.8"/><use href="#LA" x="1197.35" y="378.35" stroke-width="3.2"/></g><rect x="1236.0" y="375.2" width="2.2" height="28.6" fill="#0a0a0a"/><text x="1239.4" y="382.59999999999997" font-size="10.4" fill="#0a0a0a" text-anchor="start" font-family="Liberation Sans" textLength="8.4" lengthAdjust="spacingAndGlyphs" >13</text><g stroke="#0a0a0a" fill="none"><use href="#Ds" x="1266.20" y="377.30" stroke-width="1.5"/><use href="#D3" x="1274.55" y="391.15" stroke-width="1.8"/><use href="#LF" x="1252.65" y="378.35" stroke-width="3.2"/></g><rect x="1292.0" y="375.2" width="2.2" height="28.6" fill="#0a0a0a"/><text x="1295.4" y="382.59999999999997" font-size="10.4" fill="#0a0a0a" text-anchor="start" font-family="Liberation Sans" textLength="8.4" lengthAdjust="spacingAndGlyphs" >14</text><g stroke="#0a0a0a" fill="none"><use href="#Ds" x="1322.20" y="377.30" stroke-width="1.5"/><use href="#D1" x="1330.55" y="391.15" stroke-width="1.8"/><use href="#LA" x="1308.65" y="378.35" stroke-width="3.2"/></g><rect x="1348.0" y="375.2" width="2.2" height="28.6" fill="#0a0a0a"/><text x="1351.4" y="382.59999999999997" font-size="10.4" fill="#0a0a0a" text-anchor="start" font-family="Liberation Sans" textLength="8.4" lengthAdjust="spacingAndGlyphs" >15</text><g stroke="#0a0a0a" fill="none"><use href="#Ds" x="1378.20" y="377.30" stroke-width="1.5"/><use href="#D6" x="1386.55" y="391.15" stroke-width="1.8"/><use href="#LG" x="1364.65" y="378.35" stroke-width="3.2"/></g><rect x="1404.0" y="375.2" width="2.2" height="28.6" fill="#0a0a0a"/><text x="1407.4" y="382.59999999999997" font-size="10.4" fill="#0a0a0a" text-anchor="start" font-family="Liberation Sans" textLength="8.4" lengthAdjust="spacingAndGlyphs" >16</text><g stroke="#0a0a0a" fill="none"><use href="#Dm" x="1435.00" y="398.20" stroke-width="1.8"/><use href="#D1" x="1441.80" y="390.75" stroke-width="1.8"/><use href="#LA" x="1421.35" y="378.35" stroke-width="3.2"/></g><rect x="1460.0" y="375.2" width="2.2" height="28.6" fill="#0a0a0a"/><text x="1464.8" y="382.9" font-size="10.8" fill="#0a0a0a" text-anchor="start" font-family="Liberation Sans" textLength="23.9" lengthAdjust="spacingAndGlyphs" >TRACK</text><text x="1492.2" y="382.9" font-size="10.8" fill="#0a0a0a" text-anchor="start" font-family="Liberation Sans" textLength="5.2" lengthAdjust="spacingAndGlyphs" >4</text><rect x="1464.95" y="386.05" width="16" height="16.1" rx="4.5" fill="none" stroke="#0a0a0a" stroke-width="1.5"/><text x="1472.95" y="399.8" font-size="16.4" fill="#0a0a0a" text-anchor="middle" font-family="Liberation Sans" textLength="6" lengthAdjust="spacingAndGlyphs" >M</text><rect x="1485.15" y="386.05" width="16" height="16.1" rx="4.5" fill="none" stroke="#0a0a0a" stroke-width="1.5"/><text x="1493.15" y="399.8" font-size="16.4" fill="#0a0a0a" text-anchor="middle" font-family="Liberation Sans" textLength="6" lengthAdjust="spacingAndGlyphs" >S</text><rect x="565.05" y="414.15" width="939.9" height="32.8" fill="#7b817a" stroke="#47425d" stroke-width="1.7"/><text x="567.4000000000001" y="423.59999999999997" font-size="10.4" fill="#4a504a" text-anchor="start" font-family="Liberation Sans" textLength="4.4" lengthAdjust="spacingAndGlyphs" >1</text><g stroke="#4a504a" fill="none"><use href="#Ds" x="594.20" y="418.30" stroke-width="1.3"/><use href="#D9" x="602.55" y="432.15" stroke-width="1.5"/><use href="#LC" x="580.65" y="419.35" stroke-width="2.7"/></g><rect x="620.0" y="416.2" width="2.2" height="28.6" fill="#4a504a"/><text x="623.4000000000001" y="423.59999999999997" font-size="10.4" fill="#4a504a" text-anchor="start" font-family="Liberation Sans" textLength="4.4" lengthAdjust="spacingAndGlyphs" >2</text><g stroke="#4a504a" fill="none"><use href="#Ds" x="650.20" y="418.30" stroke-width="1.3"/><use href="#D7" x="658.55" y="432.15" stroke-width="1.5"/><use href="#LC" x="636.65" y="419.35" stroke-width="2.7"/></g><rect x="676.0" y="416.2" width="2.2" height="28.6" fill="#4a504a"/><text x="679.4000000000001" y="423.59999999999997" font-size="10.4" fill="#4a504a" text-anchor="start" font-family="Liberation Sans" textLength="4.4" lengthAdjust="spacingAndGlyphs" >3</text><g stroke="#4a504a" fill="none"><use href="#Ds" x="706.20" y="418.30" stroke-width="1.3"/><use href="#D0" x="714.55" y="432.15" stroke-width="1.5"/><use href="#LD" x="692.65" y="419.35" stroke-width="2.7"/></g><rect x="732.0" y="416.2" width="2.2" height="28.6" fill="#4a504a"/><text x="735.4000000000001" y="423.59999999999997" font-size="10.4" fill="#4a504a" text-anchor="start" font-family="Liberation Sans" textLength="4.4" lengthAdjust="spacingAndGlyphs" >4</text><g stroke="#4a504a" fill="none"><use href="#D4" x="765.45" y="432.15" stroke-width="1.5"/><use href="#LC" x="751.85" y="419.35" stroke-width="2.7"/></g><rect x="788.0" y="416.2" width="2.2" height="28.6" fill="#4a504a"/><text x="791.4000000000001" y="423.59999999999997" font-size="10.4" fill="#4a504a" text-anchor="start" font-family="Liberation Sans" textLength="4.4" lengthAdjust="spacingAndGlyphs" >5</text><g stroke="#4a504a" fill="none"><use href="#Ds" x="818.20" y="418.30" stroke-width="1.3"/><use href="#D7" x="826.55" y="432.15" stroke-width="1.5"/><use href="#LF" x="804.65" y="419.35" stroke-width="2.7"/></g><rect x="844.0" y="416.2" width="2.2" height="28.6" fill="#4a504a"/><text x="847.4000000000001" y="423.59999999999997" font-size="10.4" fill="#4a504a" text-anchor="start" font-family="Liberation Sans" textLength="4.4" lengthAdjust="spacingAndGlyphs" >6</text><g stroke="#4a504a" fill="none"><use href="#D4" x="877.45" y="432.15" stroke-width="1.5"/><use href="#LA" x="863.85" y="419.35" stroke-width="2.7"/></g><rect x="900.0" y="416.2" width="2.2" height="28.6" fill="#4a504a"/><text x="903.4000000000001" y="423.59999999999997" font-size="10.4" fill="#4a504a" text-anchor="start" font-family="Liberation Sans" textLength="4.4" lengthAdjust="spacingAndGlyphs" >7</text><g stroke="#4a504a" fill="none"><use href="#Ds" x="930.20" y="418.30" stroke-width="1.3"/><use href="#D0" x="938.55" y="432.15" stroke-width="1.5"/><use href="#LF" x="916.65" y="419.35" stroke-width="2.7"/></g><rect x="956.0" y="416.2" width="2.2" height="28.6" fill="#4a504a"/><text x="959.4000000000001" y="423.59999999999997" font-size="10.4" fill="#4a504a" text-anchor="start" font-family="Liberation Sans" textLength="4.4" lengthAdjust="spacingAndGlyphs" >8</text><g stroke="#4a504a" fill="none"><use href="#D6" x="989.45" y="432.15" stroke-width="1.5"/><use href="#LB" x="975.85" y="419.35" stroke-width="2.7"/></g><rect x="1012.0" y="416.2" width="2.2" height="28.6" fill="#4a504a"/><text x="1015.4000000000001" y="423.59999999999997" font-size="10.4" fill="#4a504a" text-anchor="start" font-family="Liberation Sans" textLength="4.4" lengthAdjust="spacingAndGlyphs" >9</text><g stroke="#4a504a" fill="none"><use href="#Ds" x="1042.20" y="418.30" stroke-width="1.3"/><use href="#D0" x="1050.55" y="432.15" stroke-width="1.5"/><use href="#LC" x="1028.65" y="419.35" stroke-width="2.7"/></g><rect x="1068.0" y="416.2" width="2.2" height="28.6" fill="#4a504a"/><text x="1071.4" y="423.59999999999997" font-size="10.4" fill="#4a504a" text-anchor="start" font-family="Liberation Sans" textLength="8.4" lengthAdjust="spacingAndGlyphs" >10</text><g stroke="#4a504a" fill="none"><use href="#Ds" x="1098.20" y="418.30" stroke-width="1.3"/><use href="#D4" x="1106.55" y="432.15" stroke-width="1.5"/><use href="#LC" x="1084.65" y="419.35" stroke-width="2.7"/></g><rect x="1124.0" y="416.2" width="2.2" height="28.6" fill="#4a504a"/><text x="1127.4" y="423.59999999999997" font-size="10.4" fill="#4a504a" text-anchor="start" font-family="Liberation Sans" textLength="8.4" lengthAdjust="spacingAndGlyphs" >11</text><g stroke="#4a504a" fill="none"><use href="#D0" x="1157.45" y="432.15" stroke-width="1.5"/><use href="#LE" x="1143.85" y="419.35" stroke-width="2.7"/></g><rect x="1180.0" y="416.2" width="2.2" height="28.6" fill="#4a504a"/><text x="1183.4" y="423.59999999999997" font-size="10.4" fill="#4a504a" text-anchor="start" font-family="Liberation Sans" textLength="8.4" lengthAdjust="spacingAndGlyphs" >12</text><g stroke="#4a504a" fill="none"><use href="#D5" x="1213.45" y="432.15" stroke-width="1.5"/><use href="#LG" x="1199.85" y="419.35" stroke-width="2.7"/></g><rect x="1236.0" y="416.2" width="2.2" height="28.6" fill="#4a504a"/><text x="1239.4" y="423.59999999999997" font-size="10.4" fill="#4a504a" text-anchor="start" font-family="Liberation Sans" textLength="8.4" lengthAdjust="spacingAndGlyphs" >13</text><g stroke="#4a504a" fill="none"><use href="#D5" x="1269.45" y="432.15" stroke-width="1.5"/><use href="#LC" x="1255.85" y="419.35" stroke-width="2.7"/></g><rect x="1292.0" y="416.2" width="2.2" height="28.6" fill="#4a504a"/><text x="1295.4" y="423.59999999999997" font-size="10.4" fill="#4a504a" text-anchor="start" font-family="Liberation Sans" textLength="8.4" lengthAdjust="spacingAndGlyphs" >14</text><g stroke="#4a504a" fill="none"><use href="#Ds" x="1322.20" y="418.30" stroke-width="1.3"/><use href="#D0" x="1330.55" y="432.15" stroke-width="1.5"/><use href="#LG" x="1308.65" y="419.35" stroke-width="2.7"/></g><rect x="1348.0" y="416.2" width="2.2" height="28.6" fill="#4a504a"/><text x="1351.4" y="423.59999999999997" font-size="10.4" fill="#4a504a" text-anchor="start" font-family="Liberation Sans" textLength="8.4" lengthAdjust="spacingAndGlyphs" >15</text><g stroke="#4a504a" fill="none"><use href="#Dm" x="1379.00" y="439.20" stroke-width="1.5"/><use href="#D1" x="1385.80" y="431.75" stroke-width="1.5"/><use href="#LC" x="1365.35" y="419.35" stroke-width="2.7"/></g><rect x="1404.0" y="416.2" width="2.2" height="28.6" fill="#4a504a"/><text x="1407.4" y="423.59999999999997" font-size="10.4" fill="#4a504a" text-anchor="start" font-family="Liberation Sans" textLength="8.4" lengthAdjust="spacingAndGlyphs" >16</text><g stroke="#4a504a" fill="none"><use href="#Ds" x="1434.20" y="418.30" stroke-width="1.3"/><use href="#Dm" x="1440.20" y="439.20" stroke-width="1.5"/><use href="#D1" x="1447.00" y="431.75" stroke-width="1.5"/><use href="#LF" x="1417.85" y="419.35" stroke-width="2.7"/></g><rect x="1460.0" y="416.2" width="2.2" height="28.6" fill="#4a504a"/><text x="1464.8" y="423.9" font-size="10.8" fill="#4a504a" text-anchor="start" font-family="Liberation Sans" textLength="23.9" lengthAdjust="spacingAndGlyphs" >TRACK</text><text x="1492.2" y="423.9" font-size="10.8" fill="#4a504a" text-anchor="start" font-family="Liberation Sans" textLength="5.2" lengthAdjust="spacingAndGlyphs" >5</text><rect x="1464.95" y="427.05" width="16" height="16.1" rx="4.5" fill="none" stroke="#4a504a" stroke-width="1.5"/><text x="1472.95" y="440.8" font-size="16.4" fill="#4a504a" text-anchor="middle" font-family="Liberation Sans" textLength="6" lengthAdjust="spacingAndGlyphs" >M</text><rect x="1485.15" y="427.05" width="16" height="16.1" rx="4.5" fill="none" stroke="#4a504a" stroke-width="1.5"/><text x="1493.15" y="440.8" font-size="16.4" fill="#4a504a" text-anchor="middle" font-family="Liberation Sans" textLength="6" lengthAdjust="spacingAndGlyphs" >S</text><rect x="565.05" y="455.15" width="939.9" height="32.8" fill="#7b817a" stroke="#47425d" stroke-width="1.7"/><text x="567.4000000000001" y="464.59999999999997" font-size="10.4" fill="#4a504a" text-anchor="start" font-family="Liberation Sans" textLength="4.4" lengthAdjust="spacingAndGlyphs" >1</text><g stroke="#4a504a" fill="none"><use href="#Ds" x="594.20" y="459.30" stroke-width="1.3"/><use href="#D1" x="602.55" y="473.15" stroke-width="1.5"/><use href="#LA" x="580.65" y="460.35" stroke-width="2.7"/></g><rect x="620.0" y="457.2" width="2.2" height="28.6" fill="#4a504a"/><text x="623.4000000000001" y="464.59999999999997" font-size="10.4" fill="#4a504a" text-anchor="start" font-family="Liberation Sans" textLength="4.4" lengthAdjust="spacingAndGlyphs" >2</text><g stroke="#4a504a" fill="none"><use href="#Dm" x="651.00" y="480.20" stroke-width="1.5"/><use href="#D1" x="657.80" y="472.75" stroke-width="1.5"/><use href="#LF" x="637.35" y="460.35" stroke-width="2.7"/></g><rect x="676.0" y="457.2" width="2.2" height="28.6" fill="#4a504a"/><text x="679.4000000000001" y="464.59999999999997" font-size="10.4" fill="#4a504a" text-anchor="start" font-family="Liberation Sans" textLength="4.4" lengthAdjust="spacingAndGlyphs" >3</text><g stroke="#4a504a" fill="none"><use href="#Ds" x="706.20" y="459.30" stroke-width="1.3"/><use href="#D9" x="714.55" y="473.15" stroke-width="1.5"/><use href="#LC" x="692.65" y="460.35" stroke-width="2.7"/></g><rect x="732.0" y="457.2" width="2.2" height="28.6" fill="#4a504a"/><text x="735.4000000000001" y="464.59999999999997" font-size="10.4" fill="#4a504a" text-anchor="start" font-family="Liberation Sans" textLength="4.4" lengthAdjust="spacingAndGlyphs" >4</text><g stroke="#4a504a" fill="none"><use href="#Ds" x="762.20" y="459.30" stroke-width="1.3"/><use href="#D6" x="770.55" y="473.15" stroke-width="1.5"/><use href="#LD" x="748.65" y="460.35" stroke-width="2.7"/></g><rect x="788.0" y="457.2" width="2.2" height="28.6" fill="#4a504a"/><text x="791.4000000000001" y="464.59999999999997" font-size="10.4" fill="#4a504a" text-anchor="start" font-family="Liberation Sans" textLength="4.4" lengthAdjust="spacingAndGlyphs" >5</text><g stroke="#4a504a" fill="none"><use href="#D6" x="821.45" y="473.15" stroke-width="1.5"/><use href="#LE" x="807.85" y="460.35" stroke-width="2.7"/></g><rect x="844.0" y="457.2" width="2.2" height="28.6" fill="#4a504a"/><text x="847.4000000000001" y="464.59999999999997" font-size="10.4" fill="#4a504a" text-anchor="start" font-family="Liberation Sans" textLength="4.4" lengthAdjust="spacingAndGlyphs" >6</text><g stroke="#4a504a" fill="none"><use href="#D4" x="877.45" y="473.15" stroke-width="1.5"/><use href="#LB" x="863.85" y="460.35" stroke-width="2.7"/></g><rect x="900.0" y="457.2" width="2.2" height="28.6" fill="#4a504a"/><text x="903.4000000000001" y="464.59999999999997" font-size="10.4" fill="#4a504a" text-anchor="start" font-family="Liberation Sans" textLength="4.4" lengthAdjust="spacingAndGlyphs" >7</text><g stroke="#4a504a" fill="none"><use href="#D6" x="933.45" y="473.15" stroke-width="1.5"/><use href="#LF" x="919.85" y="460.35" stroke-width="2.7"/></g><rect x="956.0" y="457.2" width="2.2" height="28.6" fill="#4a504a"/><text x="959.4000000000001" y="464.59999999999997" font-size="10.4" fill="#4a504a" text-anchor="start" font-family="Liberation Sans" textLength="4.4" lengthAdjust="spacingAndGlyphs" >8</text><g stroke="#4a504a" fill="none"><use href="#Ds" x="986.20" y="459.30" stroke-width="1.3"/><use href="#D4" x="994.55" y="473.15" stroke-width="1.5"/><use href="#LA" x="972.65" y="460.35" stroke-width="2.7"/></g><rect x="1012.0" y="457.2" width="2.2" height="28.6" fill="#4a504a"/><text x="1015.4000000000001" y="464.59999999999997" font-size="10.4" fill="#4a504a" text-anchor="start" font-family="Liberation Sans" textLength="4.4" lengthAdjust="spacingAndGlyphs" >9</text><g stroke="#4a504a" fill="none"><use href="#D5" x="1045.45" y="473.15" stroke-width="1.5"/><use href="#LA" x="1031.85" y="460.35" stroke-width="2.7"/></g><rect x="1068.0" y="457.2" width="2.2" height="28.6" fill="#4a504a"/><text x="1071.4" y="464.59999999999997" font-size="10.4" fill="#4a504a" text-anchor="start" font-family="Liberation Sans" textLength="8.4" lengthAdjust="spacingAndGlyphs" >10</text><g stroke="#4a504a" fill="none"><use href="#Ds" x="1098.20" y="459.30" stroke-width="1.3"/><use href="#D1" x="1106.55" y="473.15" stroke-width="1.5"/><use href="#LC" x="1084.65" y="460.35" stroke-width="2.7"/></g><rect x="1124.0" y="457.2" width="2.2" height="28.6" fill="#4a504a"/><text x="1127.4" y="464.59999999999997" font-size="10.4" fill="#4a504a" text-anchor="start" font-family="Liberation Sans" textLength="8.4" lengthAdjust="spacingAndGlyphs" >11</text><g stroke="#4a504a" fill="none"><use href="#D7" x="1157.45" y="473.15" stroke-width="1.5"/><use href="#LA" x="1143.85" y="460.35" stroke-width="2.7"/></g><rect x="1180.0" y="457.2" width="2.2" height="28.6" fill="#4a504a"/><text x="1183.4" y="464.59999999999997" font-size="10.4" fill="#4a504a" text-anchor="start" font-family="Liberation Sans" textLength="8.4" lengthAdjust="spacingAndGlyphs" >12</text><g stroke="#4a504a" fill="none"><use href="#D6" x="1213.45" y="473.15" stroke-width="1.5"/><use href="#LG" x="1199.85" y="460.35" stroke-width="2.7"/></g><rect x="1236.0" y="457.2" width="2.2" height="28.6" fill="#4a504a"/><text x="1239.4" y="464.59999999999997" font-size="10.4" fill="#4a504a" text-anchor="start" font-family="Liberation Sans" textLength="8.4" lengthAdjust="spacingAndGlyphs" >13</text><g stroke="#4a504a" fill="none"><use href="#Ds" x="1266.20" y="459.30" stroke-width="1.3"/><use href="#D7" x="1274.55" y="473.15" stroke-width="1.5"/><use href="#LD" x="1252.65" y="460.35" stroke-width="2.7"/></g><rect x="1292.0" y="457.2" width="2.2" height="28.6" fill="#4a504a"/><text x="1295.4" y="464.59999999999997" font-size="10.4" fill="#4a504a" text-anchor="start" font-family="Liberation Sans" textLength="8.4" lengthAdjust="spacingAndGlyphs" >14</text><g stroke="#4a504a" fill="none"><use href="#D0" x="1325.45" y="473.15" stroke-width="1.5"/><use href="#LG" x="1311.85" y="460.35" stroke-width="2.7"/></g><rect x="1348.0" y="457.2" width="2.2" height="28.6" fill="#4a504a"/><text x="1351.4" y="464.59999999999997" font-size="10.4" fill="#4a504a" text-anchor="start" font-family="Liberation Sans" textLength="8.4" lengthAdjust="spacingAndGlyphs" >15</text><g stroke="#4a504a" fill="none"><use href="#D0" x="1381.45" y="473.15" stroke-width="1.5"/><use href="#LB" x="1367.85" y="460.35" stroke-width="2.7"/></g><rect x="1404.0" y="457.2" width="2.2" height="28.6" fill="#4a504a"/><text x="1407.4" y="464.59999999999997" font-size="10.4" fill="#4a504a" text-anchor="start" font-family="Liberation Sans" textLength="8.4" lengthAdjust="spacingAndGlyphs" >16</text><g stroke="#4a504a" fill="none"><use href="#Ds" x="1434.20" y="459.30" stroke-width="1.3"/><use href="#D0" x="1442.55" y="473.15" stroke-width="1.5"/><use href="#LG" x="1420.65" y="460.35" stroke-width="2.7"/></g><rect x="1460.0" y="457.2" width="2.2" height="28.6" fill="#4a504a"/><text x="1464.8" y="464.9" font-size="10.8" fill="#4a504a" text-anchor="start" font-family="Liberation Sans" textLength="23.9" lengthAdjust="spacingAndGlyphs" >TRACK</text><text x="1492.2" y="464.9" font-size="10.8" fill="#4a504a" text-anchor="start" font-family="Liberation Sans" textLength="5.2" lengthAdjust="spacingAndGlyphs" >6</text><rect x="1464.95" y="468.05" width="16" height="16.1" rx="4.5" fill="none" stroke="#4a504a" stroke-width="1.5"/><text x="1472.95" y="481.8" font-size="16.4" fill="#4a504a" text-anchor="middle" font-family="Liberation Sans" textLength="6" lengthAdjust="spacingAndGlyphs" >M</text><rect x="1485.15" y="468.05" width="16" height="16.1" rx="4.5" fill="none" stroke="#4a504a" stroke-width="1.5"/><text x="1493.15" y="481.8" font-size="16.4" fill="#4a504a" text-anchor="middle" font-family="Liberation Sans" textLength="6" lengthAdjust="spacingAndGlyphs" >S</text><rect x="565.05" y="496.15" width="939.9" height="32.8" fill="#7b817a" stroke="#47425d" stroke-width="1.7"/><text x="567.4000000000001" y="505.59999999999997" font-size="10.4" fill="#4a504a" text-anchor="start" font-family="Liberation Sans" textLength="4.4" lengthAdjust="spacingAndGlyphs" >1</text><g stroke="#4a504a" fill="none"><use href="#Ds" x="594.20" y="500.30" stroke-width="1.3"/><use href="#D3" x="602.55" y="514.15" stroke-width="1.5"/><use href="#LC" x="580.65" y="501.35" stroke-width="2.7"/></g><rect x="620.0" y="498.2" width="2.2" height="28.6" fill="#4a504a"/><text x="623.4000000000001" y="505.59999999999997" font-size="10.4" fill="#4a504a" text-anchor="start" font-family="Liberation Sans" textLength="4.4" lengthAdjust="spacingAndGlyphs" >2</text><g stroke="#4a504a" fill="none"><use href="#Ds" x="650.20" y="500.30" stroke-width="1.3"/><use href="#Dm" x="656.20" y="521.20" stroke-width="1.5"/><use href="#D1" x="663.00" y="513.75" stroke-width="1.5"/><use href="#LC" x="633.85" y="501.35" stroke-width="2.7"/></g><rect x="676.0" y="498.2" width="2.2" height="28.6" fill="#4a504a"/><text x="679.4000000000001" y="505.59999999999997" font-size="10.4" fill="#4a504a" text-anchor="start" font-family="Liberation Sans" textLength="4.4" lengthAdjust="spacingAndGlyphs" >3</text><g stroke="#4a504a" fill="none"><use href="#Ds" x="706.20" y="500.30" stroke-width="1.3"/><use href="#D8" x="714.55" y="514.15" stroke-width="1.5"/><use href="#LC" x="692.65" y="501.35" stroke-width="2.7"/></g><rect x="732.0" y="498.2" width="2.2" height="28.6" fill="#4a504a"/><text x="735.4000000000001" y="505.59999999999997" font-size="10.4" fill="#4a504a" text-anchor="start" font-family="Liberation Sans" textLength="4.4" lengthAdjust="spacingAndGlyphs" >4</text><g stroke="#4a504a" fill="none"><use href="#Dm" x="763.00" y="521.20" stroke-width="1.5"/><use href="#D1" x="769.80" y="513.75" stroke-width="1.5"/><use href="#LE" x="749.35" y="501.35" stroke-width="2.7"/></g><rect x="788.0" y="498.2" width="2.2" height="28.6" fill="#4a504a"/><text x="791.4000000000001" y="505.59999999999997" font-size="10.4" fill="#4a504a" text-anchor="start" font-family="Liberation Sans" textLength="4.4" lengthAdjust="spacingAndGlyphs" >5</text><g stroke="#4a504a" fill="none"><use href="#D8" x="821.45" y="514.15" stroke-width="1.5"/><use href="#LD" x="807.85" y="501.35" stroke-width="2.7"/></g><rect x="844.0" y="498.2" width="2.2" height="28.6" fill="#4a504a"/><text x="847.4000000000001" y="505.59999999999997" font-size="10.4" fill="#4a504a" text-anchor="start" font-family="Liberation Sans" textLength="4.4" lengthAdjust="spacingAndGlyphs" >6</text><g stroke="#4a504a" fill="none"><use href="#Ds" x="874.20" y="500.30" stroke-width="1.3"/><use href="#D8" x="882.55" y="514.15" stroke-width="1.5"/><use href="#LA" x="860.65" y="501.35" stroke-width="2.7"/></g><rect x="900.0" y="498.2" width="2.2" height="28.6" fill="#4a504a"/><text x="903.4000000000001" y="505.59999999999997" font-size="10.4" fill="#4a504a" text-anchor="start" font-family="Liberation Sans" textLength="4.4" lengthAdjust="spacingAndGlyphs" >7</text><g stroke="#4a504a" fill="none"><use href="#D0" x="933.45" y="514.15" stroke-width="1.5"/><use href="#LE" x="919.85" y="501.35" stroke-width="2.7"/></g><rect x="956.0" y="498.2" width="2.2" height="28.6" fill="#4a504a"/><text x="959.4000000000001" y="505.59999999999997" font-size="10.4" fill="#4a504a" text-anchor="start" font-family="Liberation Sans" textLength="4.4" lengthAdjust="spacingAndGlyphs" >8</text><g stroke="#4a504a" fill="none"><use href="#Ds" x="986.20" y="500.30" stroke-width="1.3"/><use href="#D1" x="994.55" y="514.15" stroke-width="1.5"/><use href="#LD" x="972.65" y="501.35" stroke-width="2.7"/></g><rect x="1012.0" y="498.2" width="2.2" height="28.6" fill="#4a504a"/><text x="1015.4000000000001" y="505.59999999999997" font-size="10.4" fill="#4a504a" text-anchor="start" font-family="Liberation Sans" textLength="4.4" lengthAdjust="spacingAndGlyphs" >9</text><g stroke="#4a504a" fill="none"><use href="#D1" x="1045.45" y="514.15" stroke-width="1.5"/><use href="#LG" x="1031.85" y="501.35" stroke-width="2.7"/></g><rect x="1068.0" y="498.2" width="2.2" height="28.6" fill="#4a504a"/><text x="1071.4" y="505.59999999999997" font-size="10.4" fill="#4a504a" text-anchor="start" font-family="Liberation Sans" textLength="8.4" lengthAdjust="spacingAndGlyphs" >10</text><g stroke="#4a504a" fill="none"><use href="#D2" x="1101.45" y="514.15" stroke-width="1.5"/><use href="#LA" x="1087.85" y="501.35" stroke-width="2.7"/></g><rect x="1124.0" y="498.2" width="2.2" height="28.6" fill="#4a504a"/><text x="1127.4" y="505.59999999999997" font-size="10.4" fill="#4a504a" text-anchor="start" font-family="Liberation Sans" textLength="8.4" lengthAdjust="spacingAndGlyphs" >11</text><g stroke="#4a504a" fill="none"><use href="#D1" x="1157.45" y="514.15" stroke-width="1.5"/><use href="#LD" x="1143.85" y="501.35" stroke-width="2.7"/></g><rect x="1180.0" y="498.2" width="2.2" height="28.6" fill="#4a504a"/><text x="1183.4" y="505.59999999999997" font-size="10.4" fill="#4a504a" text-anchor="start" font-family="Liberation Sans" textLength="8.4" lengthAdjust="spacingAndGlyphs" >12</text><g stroke="#4a504a" fill="none"><use href="#D6" x="1213.45" y="514.15" stroke-width="1.5"/><use href="#LB" x="1199.85" y="501.35" stroke-width="2.7"/></g><rect x="1236.0" y="498.2" width="2.2" height="28.6" fill="#4a504a"/><text x="1239.4" y="505.59999999999997" font-size="10.4" fill="#4a504a" text-anchor="start" font-family="Liberation Sans" textLength="8.4" lengthAdjust="spacingAndGlyphs" >13</text><g stroke="#4a504a" fill="none"><use href="#D8" x="1269.45" y="514.15" stroke-width="1.5"/><use href="#LD" x="1255.85" y="501.35" stroke-width="2.7"/></g><rect x="1292.0" y="498.2" width="2.2" height="28.6" fill="#4a504a"/><text x="1295.4" y="505.59999999999997" font-size="10.4" fill="#4a504a" text-anchor="start" font-family="Liberation Sans" textLength="8.4" lengthAdjust="spacingAndGlyphs" >14</text><g stroke="#4a504a" fill="none"><use href="#D3" x="1325.45" y="514.15" stroke-width="1.5"/><use href="#LA" x="1311.85" y="501.35" stroke-width="2.7"/></g><rect x="1348.0" y="498.2" width="2.2" height="28.6" fill="#4a504a"/><text x="1351.4" y="505.59999999999997" font-size="10.4" fill="#4a504a" text-anchor="start" font-family="Liberation Sans" textLength="8.4" lengthAdjust="spacingAndGlyphs" >15</text><g stroke="#4a504a" fill="none"><use href="#D0" x="1381.45" y="514.15" stroke-width="1.5"/><use href="#LA" x="1367.85" y="501.35" stroke-width="2.7"/></g><rect x="1404.0" y="498.2" width="2.2" height="28.6" fill="#4a504a"/><text x="1407.4" y="505.59999999999997" font-size="10.4" fill="#4a504a" text-anchor="start" font-family="Liberation Sans" textLength="8.4" lengthAdjust="spacingAndGlyphs" >16</text><g stroke="#4a504a" fill="none"><use href="#Ds" x="1434.20" y="500.30" stroke-width="1.3"/><use href="#D7" x="1442.55" y="514.15" stroke-width="1.5"/><use href="#LC" x="1420.65" y="501.35" stroke-width="2.7"/></g><rect x="1460.0" y="498.2" width="2.2" height="28.6" fill="#4a504a"/><text x="1464.8" y="505.9" font-size="10.8" fill="#4a504a" text-anchor="start" font-family="Liberation Sans" textLength="23.9" lengthAdjust="spacingAndGlyphs" >TRACK</text><text x="1492.2" y="505.9" font-size="10.8" fill="#4a504a" text-anchor="start" font-family="Liberation Sans" textLength="5.2" lengthAdjust="spacingAndGlyphs" >7</text><rect x="1464.95" y="509.05" width="16" height="16.1" rx="4.5" fill="none" stroke="#4a504a" stroke-width="1.5"/><text x="1472.95" y="522.8" font-size="16.4" fill="#4a504a" text-anchor="middle" font-family="Liberation Sans" textLength="6" lengthAdjust="spacingAndGlyphs" >M</text><rect x="1485.15" y="509.05" width="16" height="16.1" rx="4.5" fill="none" stroke="#4a504a" stroke-width="1.5"/><text x="1493.15" y="522.8" font-size="16.4" fill="#4a504a" text-anchor="middle" font-family="Liberation Sans" textLength="6" lengthAdjust="spacingAndGlyphs" >S</text><rect x="565.05" y="537.1500000000001" width="939.9" height="32.8" fill="#7b817a" stroke="#47425d" stroke-width="1.7"/><text x="567.4000000000001" y="546.6" font-size="10.4" fill="#4a504a" text-anchor="start" font-family="Liberation Sans" textLength="4.4" lengthAdjust="spacingAndGlyphs" >1</text><g stroke="#4a504a" fill="none"><use href="#Ds" x="594.20" y="541.30" stroke-width="1.3"/><use href="#D4" x="602.55" y="555.15" stroke-width="1.5"/><use href="#LD" x="580.65" y="542.35" stroke-width="2.7"/></g><rect x="620.0" y="539.2" width="2.2" height="28.6" fill="#4a504a"/><text x="623.4000000000001" y="546.6" font-size="10.4" fill="#4a504a" text-anchor="start" font-family="Liberation Sans" textLength="4.4" lengthAdjust="spacingAndGlyphs" >2</text><g stroke="#4a504a" fill="none"><use href="#D2" x="653.45" y="555.15" stroke-width="1.5"/><use href="#LB" x="639.85" y="542.35" stroke-width="2.7"/></g><rect x="676.0" y="539.2" width="2.2" height="28.6" fill="#4a504a"/><text x="679.4000000000001" y="546.6" font-size="10.4" fill="#4a504a" text-anchor="start" font-family="Liberation Sans" textLength="4.4" lengthAdjust="spacingAndGlyphs" >3</text><g stroke="#4a504a" fill="none"><use href="#D8" x="709.45" y="555.15" stroke-width="1.5"/><use href="#LE" x="695.85" y="542.35" stroke-width="2.7"/></g><rect x="732.0" y="539.2" width="2.2" height="28.6" fill="#4a504a"/><text x="735.4000000000001" y="546.6" font-size="10.4" fill="#4a504a" text-anchor="start" font-family="Liberation Sans" textLength="4.4" lengthAdjust="spacingAndGlyphs" >4</text><g stroke="#4a504a" fill="none"><use href="#D3" x="765.45" y="555.15" stroke-width="1.5"/><use href="#LC" x="751.85" y="542.35" stroke-width="2.7"/></g><rect x="788.0" y="539.2" width="2.2" height="28.6" fill="#4a504a"/><text x="791.4000000000001" y="546.6" font-size="10.4" fill="#4a504a" text-anchor="start" font-family="Liberation Sans" textLength="4.4" lengthAdjust="spacingAndGlyphs" >5</text><g stroke="#4a504a" fill="none"><use href="#Ds" x="818.20" y="541.30" stroke-width="1.3"/><use href="#D1" x="826.55" y="555.15" stroke-width="1.5"/><use href="#LA" x="804.65" y="542.35" stroke-width="2.7"/></g><rect x="844.0" y="539.2" width="2.2" height="28.6" fill="#4a504a"/><text x="847.4000000000001" y="546.6" font-size="10.4" fill="#4a504a" text-anchor="start" font-family="Liberation Sans" textLength="4.4" lengthAdjust="spacingAndGlyphs" >6</text><g stroke="#4a504a" fill="none"><use href="#Ds" x="874.20" y="541.30" stroke-width="1.3"/><use href="#Dm" x="880.20" y="562.20" stroke-width="1.5"/><use href="#D1" x="887.00" y="554.75" stroke-width="1.5"/><use href="#LF" x="857.85" y="542.35" stroke-width="2.7"/></g><rect x="900.0" y="539.2" width="2.2" height="28.6" fill="#4a504a"/><text x="903.4000000000001" y="546.6" font-size="10.4" fill="#4a504a" text-anchor="start" font-family="Liberation Sans" textLength="4.4" lengthAdjust="spacingAndGlyphs" >7</text><g stroke="#4a504a" fill="none"><use href="#Ds" x="930.20" y="541.30" stroke-width="1.3"/><use href="#D9" x="938.55" y="555.15" stroke-width="1.5"/><use href="#LC" x="916.65" y="542.35" stroke-width="2.7"/></g><rect x="956.0" y="539.2" width="2.2" height="28.6" fill="#4a504a"/><text x="959.4000000000001" y="546.6" font-size="10.4" fill="#4a504a" text-anchor="start" font-family="Liberation Sans" textLength="4.4" lengthAdjust="spacingAndGlyphs" >8</text><g stroke="#4a504a" fill="none"><use href="#D8" x="989.45" y="555.15" stroke-width="1.5"/><use href="#LA" x="975.85" y="542.35" stroke-width="2.7"/></g><rect x="1012.0" y="539.2" width="2.2" height="28.6" fill="#4a504a"/><text x="1015.4000000000001" y="546.6" font-size="10.4" fill="#4a504a" text-anchor="start" font-family="Liberation Sans" textLength="4.4" lengthAdjust="spacingAndGlyphs" >9</text><g stroke="#4a504a" fill="none"><use href="#Ds" x="1042.20" y="541.30" stroke-width="1.3"/><use href="#D6" x="1050.55" y="555.15" stroke-width="1.5"/><use href="#LC" x="1028.65" y="542.35" stroke-width="2.7"/></g><rect x="1068.0" y="539.2" width="2.2" height="28.6" fill="#4a504a"/><text x="1071.4" y="546.6" font-size="10.4" fill="#4a504a" text-anchor="start" font-family="Liberation Sans" textLength="8.4" lengthAdjust="spacingAndGlyphs" >10</text><g stroke="#4a504a" fill="none"><use href="#D1" x="1101.45" y="555.15" stroke-width="1.5"/><use href="#LD" x="1087.85" y="542.35" stroke-width="2.7"/></g><rect x="1124.0" y="539.2" width="2.2" height="28.6" fill="#4a504a"/><text x="1127.4" y="546.6" font-size="10.4" fill="#4a504a" text-anchor="start" font-family="Liberation Sans" textLength="8.4" lengthAdjust="spacingAndGlyphs" >11</text><g stroke="#4a504a" fill="none"><use href="#Ds" x="1154.20" y="541.30" stroke-width="1.3"/><use href="#D8" x="1162.55" y="555.15" stroke-width="1.5"/><use href="#LD" x="1140.65" y="542.35" stroke-width="2.7"/></g><rect x="1180.0" y="539.2" width="2.2" height="28.6" fill="#4a504a"/><text x="1183.4" y="546.6" font-size="10.4" fill="#4a504a" text-anchor="start" font-family="Liberation Sans" textLength="8.4" lengthAdjust="spacingAndGlyphs" >12</text><g stroke="#4a504a" fill="none"><use href="#Dm" x="1211.00" y="562.20" stroke-width="1.5"/><use href="#D1" x="1217.80" y="554.75" stroke-width="1.5"/><use href="#LB" x="1197.35" y="542.35" stroke-width="2.7"/></g><rect x="1236.0" y="539.2" width="2.2" height="28.6" fill="#4a504a"/><text x="1239.4" y="546.6" font-size="10.4" fill="#4a504a" text-anchor="start" font-family="Liberation Sans" textLength="8.4" lengthAdjust="spacingAndGlyphs" >13</text><g stroke="#4a504a" fill="none"><use href="#Ds" x="1266.20" y="541.30" stroke-width="1.3"/><use href="#D4" x="1274.55" y="555.15" stroke-width="1.5"/><use href="#LF" x="1252.65" y="542.35" stroke-width="2.7"/></g><rect x="1292.0" y="539.2" width="2.2" height="28.6" fill="#4a504a"/><text x="1295.4" y="546.6" font-size="10.4" fill="#4a504a" text-anchor="start" font-family="Liberation Sans" textLength="8.4" lengthAdjust="spacingAndGlyphs" >14</text><g stroke="#4a504a" fill="none"><use href="#Ds" x="1322.20" y="541.30" stroke-width="1.3"/><use href="#D8" x="1330.55" y="555.15" stroke-width="1.5"/><use href="#LG" x="1308.65" y="542.35" stroke-width="2.7"/></g><rect x="1348.0" y="539.2" width="2.2" height="28.6" fill="#4a504a"/><text x="1351.4" y="546.6" font-size="10.4" fill="#4a504a" text-anchor="start" font-family="Liberation Sans" textLength="8.4" lengthAdjust="spacingAndGlyphs" >15</text><g stroke="#4a504a" fill="none"><use href="#D0" x="1381.45" y="555.15" stroke-width="1.5"/><use href="#LC" x="1367.85" y="542.35" stroke-width="2.7"/></g><rect x="1404.0" y="539.2" width="2.2" height="28.6" fill="#4a504a"/><text x="1407.4" y="546.6" font-size="10.4" fill="#4a504a" text-anchor="start" font-family="Liberation Sans" textLength="8.4" lengthAdjust="spacingAndGlyphs" >16</text><g stroke="#4a504a" fill="none"><use href="#Ds" x="1434.20" y="541.30" stroke-width="1.3"/><use href="#Dm" x="1440.20" y="562.20" stroke-width="1.5"/><use href="#D1" x="1447.00" y="554.75" stroke-width="1.5"/><use href="#LD" x="1417.85" y="542.35" stroke-width="2.7"/></g><rect x="1460.0" y="539.2" width="2.2" height="28.6" fill="#4a504a"/><text x="1464.8" y="546.9000000000001" font-size="10.8" fill="#4a504a" text-anchor="start" font-family="Liberation Sans" textLength="23.9" lengthAdjust="spacingAndGlyphs" >TRACK</text><text x="1492.2" y="546.9000000000001" font-size="10.8" fill="#4a504a" text-anchor="start" font-family="Liberation Sans" textLength="5.2" lengthAdjust="spacingAndGlyphs" >8</text><rect x="1464.95" y="550.0500000000001" width="16" height="16.1" rx="4.5" fill="none" stroke="#4a504a" stroke-width="1.5"/><text x="1472.95" y="563.8000000000001" font-size="16.4" fill="#4a504a" text-anchor="middle" font-family="Liberation Sans" textLength="6" lengthAdjust="spacingAndGlyphs" >M</text><rect x="1485.15" y="550.0500000000001" width="16" height="16.1" rx="4.5" fill="none" stroke="#4a504a" stroke-width="1.5"/><text x="1493.15" y="563.8000000000001" font-size="16.4" fill="#4a504a" text-anchor="middle" font-family="Liberation Sans" textLength="6" lengthAdjust="spacingAndGlyphs" >S</text><circle cx="559" cy="389.6" r="12" fill="url(#gglow)"/><circle cx="559" cy="389.6" r="3.2" fill="#30f030"/><circle cx="1521.9" cy="268.2" r="12.5" fill="#000" opacity="0.35"/><circle cx="1521.9" cy="267.2" r="12" fill="url(#jring)"/><circle cx="1521.9" cy="267.2" r="8.64" fill="url(#jin)"/><circle cx="1521.9" cy="267.2" r="5.40" fill="#000"/><rect x="1519.7" y="265.9" width="2.2" height="2.6" fill="#555"/><path d="M1521.9 265.9l1.8-1.4v5.4l-1.8-1.4z" fill="#555"/><circle cx="1535.1000000000001" cy="255.2" r="3.8" fill="url(#ledoff)"/><circle cx="1562.9" cy="268.2" r="12.5" fill="#000" opacity="0.35"/><circle cx="1562.9" cy="267.2" r="12" fill="url(#jring)"/><circle cx="1562.9" cy="267.2" r="8.64" fill="url(#jin)"/><circle cx="1562.9" cy="267.2" r="5.40" fill="#000"/><rect x="1560.7" y="265.9" width="2.2" height="2.6" fill="#555"/><path d="M1562.9 265.9l1.8-1.4v5.4l-1.8-1.4z" fill="#555"/><circle cx="1576.1000000000001" cy="255.2" r="3.8" fill="url(#ledoff)"/><circle cx="1603.9" cy="268.2" r="12.5" fill="#000" opacity="0.35"/><circle cx="1603.9" cy="267.2" r="12" fill="url(#jring)"/><circle cx="1603.9" cy="267.2" r="8.64" fill="url(#jin)"/><circle cx="1603.9" cy="267.2" r="5.40" fill="#000"/><rect x="1601.7" y="265.9" width="2.2" height="2.6" fill="#555"/><path d="M1603.9 265.9l1.8-1.4v5.4l-1.8-1.4z" fill="#555"/><circle cx="1617.1000000000001" cy="255.2" r="3.8" fill="url(#ledoff)"/><circle cx="1521.9" cy="309.2" r="12.5" fill="#000" opacity="0.35"/><circle cx="1521.9" cy="308.2" r="12" fill="url(#jring)"/><circle cx="1521.9" cy="308.2" r="8.64" fill="url(#jin)"/><circle cx="1521.9" cy="308.2" r="5.40" fill="#000"/><rect x="1519.7" y="306.9" width="2.2" height="2.6" fill="#555"/><path d="M1521.9 306.9l1.8-1.4v5.4l-1.8-1.4z" fill="#555"/><circle cx="1535.1000000000001" cy="296.2" r="3.8" fill="url(#ledoff)"/><circle cx="1562.9" cy="309.2" r="12.5" fill="#000" opacity="0.35"/><circle cx="1562.9" cy="308.2" r="12" fill="url(#jring)"/><circle cx="1562.9" cy="308.2" r="8.64" fill="url(#jin)"/><circle cx="1562.9" cy="308.2" r="5.40" fill="#000"/><rect x="1560.7" y="306.9" width="2.2" height="2.6" fill="#555"/><path d="M1562.9 306.9l1.8-1.4v5.4l-1.8-1.4z" fill="#555"/><circle cx="1576.1000000000001" cy="296.2" r="3.8" fill="url(#ledoff)"/><circle cx="1603.9" cy="309.2" r="12.5" fill="#000" opacity="0.35"/><circle cx="1603.9" cy="308.2" r="12" fill="url(#jring)"/><circle cx="1603.9" cy="308.2" r="8.64" fill="url(#jin)"/><circle cx="1603.9" cy="308.2" r="5.40" fill="#000"/><rect x="1601.7" y="306.9" width="2.2" height="2.6" fill="#555"/><path d="M1603.9 306.9l1.8-1.4v5.4l-1.8-1.4z" fill="#555"/><circle cx="1617.1000000000001" cy="296.2" r="3.8" fill="url(#ledoff)"/><circle cx="1521.9" cy="350.2" r="12.5" fill="#000" opacity="0.35"/><circle cx="1521.9" cy="349.2" r="12" fill="url(#jring)"/><circle cx="1521.9" cy="349.2" r="8.64" fill="url(#jin)"/><circle cx="1521.9" cy="349.2" r="5.40" fill="#000"/><rect x="1519.7" y="347.9" width="2.2" height="2.6" fill="#555"/><path d="M1521.9 347.9l1.8-1.4v5.4l-1.8-1.4z" fill="#555"/><circle cx="1535.1000000000001" cy="337.2" r="3.8" fill="url(#ledoff)"/><circle cx="1562.9" cy="350.2" r="12.5" fill="#000" opacity="0.35"/><circle cx="1562.9" cy="349.2" r="12" fill="url(#jring)"/><circle cx="1562.9" cy="349.2" r="8.64" fill="url(#jin)"/><circle cx="1562.9" cy="349.2" r="5.40" fill="#000"/><rect x="1560.7" y="347.9" width="2.2" height="2.6" fill="#555"/><path d="M1562.9 347.9l1.8-1.4v5.4l-1.8-1.4z" fill="#555"/><circle cx="1576.1000000000001" cy="337.2" r="3.8" fill="url(#ledoff)"/><circle cx="1603.9" cy="350.2" r="12.5" fill="#000" opacity="0.35"/><circle cx="1603.9" cy="349.2" r="12" fill="url(#jring)"/><circle cx="1603.9" cy="349.2" r="8.64" fill="url(#jin)"/><circle cx="1603.9" cy="349.2" r="5.40" fill="#000"/><rect x="1601.7" y="347.9" width="2.2" height="2.6" fill="#555"/><path d="M1603.9 347.9l1.8-1.4v5.4l-1.8-1.4z" fill="#555"/><circle cx="1617.1000000000001" cy="337.2" r="3.8" fill="url(#ledoff)"/><circle cx="1521.9" cy="391.2" r="12.5" fill="#000" opacity="0.35"/><circle cx="1521.9" cy="390.2" r="12" fill="url(#jring)"/><circle cx="1521.9" cy="390.2" r="8.64" fill="url(#jin)"/><circle cx="1521.9" cy="390.2" r="5.40" fill="#000"/><rect x="1519.7" y="388.9" width="2.2" height="2.6" fill="#555"/><path d="M1521.9 388.9l1.8-1.4v5.4l-1.8-1.4z" fill="#555"/><circle cx="1535.1000000000001" cy="378.2" r="3.8" fill="url(#ledoff)"/><circle cx="1562.9" cy="391.2" r="12.5" fill="#000" opacity="0.35"/><circle cx="1562.9" cy="390.2" r="12" fill="url(#jring)"/><circle cx="1562.9" cy="390.2" r="8.64" fill="url(#jin)"/><circle cx="1562.9" cy="390.2" r="5.40" fill="#000"/><rect x="1560.7" y="388.9" width="2.2" height="2.6" fill="#555"/><path d="M1562.9 388.9l1.8-1.4v5.4l-1.8-1.4z" fill="#555"/><circle cx="1576.1000000000001" cy="378.2" r="3.8" fill="url(#ledoff)"/><circle cx="1603.9" cy="391.2" r="12.5" fill="#000" opacity="0.35"/><circle cx="1603.9" cy="390.2" r="12" fill="url(#jring)"/><circle cx="1603.9" cy="390.2" r="8.64" fill="url(#jin)"/><circle cx="1603.9" cy="390.2" r="5.40" fill="#000"/><rect x="1601.7" y="388.9" width="2.2" height="2.6" fill="#555"/><path d="M1603.9 388.9l1.8-1.4v5.4l-1.8-1.4z" fill="#555"/><circle cx="1617.1000000000001" cy="378.2" r="3.8" fill="url(#ledoff)"/><circle cx="1521.9" cy="432.2" r="12.5" fill="#000" opacity="0.35"/><circle cx="1521.9" cy="431.2" r="12" fill="url(#jring)"/><circle cx="1521.9" cy="431.2" r="8.64" fill="url(#jin)"/><circle cx="1521.9" cy="431.2" r="5.40" fill="#000"/><rect x="1519.7" y="429.9" width="2.2" height="2.6" fill="#555"/><path d="M1521.9 429.9l1.8-1.4v5.4l-1.8-1.4z" fill="#555"/><circle cx="1535.1000000000001" cy="419.2" r="3.8" fill="url(#ledoff)"/><circle cx="1562.9" cy="432.2" r="12.5" fill="#000" opacity="0.35"/><circle cx="1562.9" cy="431.2" r="12" fill="url(#jring)"/><circle cx="1562.9" cy="431.2" r="8.64" fill="url(#jin)"/><circle cx="1562.9" cy="431.2" r="5.40" fill="#000"/><rect x="1560.7" y="429.9" width="2.2" height="2.6" fill="#555"/><path d="M1562.9 429.9l1.8-1.4v5.4l-1.8-1.4z" fill="#555"/><circle cx="1576.1000000000001" cy="419.2" r="3.8" fill="url(#ledoff)"/><circle cx="1603.9" cy="432.2" r="12.5" fill="#000" opacity="0.35"/><circle cx="1603.9" cy="431.2" r="12" fill="url(#jring)"/><circle cx="1603.9" cy="431.2" r="8.64" fill="url(#jin)"/><circle cx="1603.9" cy="431.2" r="5.40" fill="#000"/><rect x="1601.7" y="429.9" width="2.2" height="2.6" fill="#555"/><path d="M1603.9 429.9l1.8-1.4v5.4l-1.8-1.4z" fill="#555"/><circle cx="1617.1000000000001" cy="419.2" r="3.8" fill="url(#ledoff)"/><circle cx="1521.9" cy="473.2" r="12.5" fill="#000" opacity="0.35"/><circle cx="1521.9" cy="472.2" r="12" fill="url(#jring)"/><circle cx="1521.9" cy="472.2" r="8.64" fill="url(#jin)"/><circle cx="1521.9" cy="472.2" r="5.40" fill="#000"/><rect x="1519.7" y="470.9" width="2.2" height="2.6" fill="#555"/><path d="M1521.9 470.9l1.8-1.4v5.4l-1.8-1.4z" fill="#555"/><circle cx="1535.1000000000001" cy="460.2" r="3.8" fill="url(#ledoff)"/><circle cx="1562.9" cy="473.2" r="12.5" fill="#000" opacity="0.35"/><circle cx="1562.9" cy="472.2" r="12" fill="url(#jring)"/><circle cx="1562.9" cy="472.2" r="8.64" fill="url(#jin)"/><circle cx="1562.9" cy="472.2" r="5.40" fill="#000"/><rect x="1560.7" y="470.9" width="2.2" height="2.6" fill="#555"/><path d="M1562.9 470.9l1.8-1.4v5.4l-1.8-1.4z" fill="#555"/><circle cx="1576.1000000000001" cy="460.2" r="3.8" fill="url(#ledoff)"/><circle cx="1603.9" cy="473.2" r="12.5" fill="#000" opacity="0.35"/><circle cx="1603.9" cy="472.2" r="12" fill="url(#jring)"/><circle cx="1603.9" cy="472.2" r="8.64" fill="url(#jin)"/><circle cx="1603.9" cy="472.2" r="5.40" fill="#000"/><rect x="1601.7" y="470.9" width="2.2" height="2.6" fill="#555"/><path d="M1603.9 470.9l1.8-1.4v5.4l-1.8-1.4z" fill="#555"/><circle cx="1617.1000000000001" cy="460.2" r="3.8" fill="url(#ledoff)"/><circle cx="1521.9" cy="514.2" r="12.5" fill="#000" opacity="0.35"/><circle cx="1521.9" cy="513.2" r="12" fill="url(#jring)"/><circle cx="1521.9" cy="513.2" r="8.64" fill="url(#jin)"/><circle cx="1521.9" cy="513.2" r="5.40" fill="#000"/><rect x="1519.7" y="511.90000000000003" width="2.2" height="2.6" fill="#555"/><path d="M1521.9 511.90000000000003l1.8-1.4v5.4l-1.8-1.4z" fill="#555"/><circle cx="1535.1000000000001" cy="501.20000000000005" r="3.8" fill="url(#ledoff)"/><circle cx="1562.9" cy="514.2" r="12.5" fill="#000" opacity="0.35"/><circle cx="1562.9" cy="513.2" r="12" fill="url(#jring)"/><circle cx="1562.9" cy="513.2" r="8.64" fill="url(#jin)"/><circle cx="1562.9" cy="513.2" r="5.40" fill="#000"/><rect x="1560.7" y="511.90000000000003" width="2.2" height="2.6" fill="#555"/><path d="M1562.9 511.90000000000003l1.8-1.4v5.4l-1.8-1.4z" fill="#555"/><circle cx="1576.1000000000001" cy="501.20000000000005" r="3.8" fill="url(#ledoff)"/><circle cx="1603.9" cy="514.2" r="12.5" fill="#000" opacity="0.35"/><circle cx="1603.9" cy="513.2" r="12" fill="url(#jring)"/><circle cx="1603.9" cy="513.2" r="8.64" fill="url(#jin)"/><circle cx="1603.9" cy="513.2" r="5.40" fill="#000"/><rect x="1601.7" y="511.90000000000003" width="2.2" height="2.6" fill="#555"/><path d="M1603.9 511.90000000000003l1.8-1.4v5.4l-1.8-1.4z" fill="#555"/><circle cx="1617.1000000000001" cy="501.20000000000005" r="3.8" fill="url(#ledoff)"/><circle cx="1521.9" cy="555.2" r="12.5" fill="#000" opacity="0.35"/><circle cx="1521.9" cy="554.2" r="12" fill="url(#jring)"/><circle cx="1521.9" cy="554.2" r="8.64" fill="url(#jin)"/><circle cx="1521.9" cy="554.2" r="5.40" fill="#000"/><rect x="1519.7" y="552.9000000000001" width="2.2" height="2.6" fill="#555"/><path d="M1521.9 552.9000000000001l1.8-1.4v5.4l-1.8-1.4z" fill="#555"/><circle cx="1535.1000000000001" cy="542.2" r="3.8" fill="url(#ledoff)"/><circle cx="1562.9" cy="555.2" r="12.5" fill="#000" opacity="0.35"/><circle cx="1562.9" cy="554.2" r="12" fill="url(#jring)"/><circle cx="1562.9" cy="554.2" r="8.64" fill="url(#jin)"/><circle cx="1562.9" cy="554.2" r="5.40" fill="#000"/><rect x="1560.7" y="552.9000000000001" width="2.2" height="2.6" fill="#555"/><path d="M1562.9 552.9000000000001l1.8-1.4v5.4l-1.8-1.4z" fill="#555"/><circle cx="1576.1000000000001" cy="542.2" r="3.8" fill="url(#ledoff)"/><circle cx="1603.9" cy="555.2" r="12.5" fill="#000" opacity="0.35"/><circle cx="1603.9" cy="554.2" r="12" fill="url(#jring)"/><circle cx="1603.9" cy="554.2" r="8.64" fill="url(#jin)"/><circle cx="1603.9" cy="554.2" r="5.40" fill="#000"/><rect x="1601.7" y="552.9000000000001" width="2.2" height="2.6" fill="#555"/><path d="M1603.9 552.9000000000001l1.8-1.4v5.4l-1.8-1.4z" fill="#555"/><circle cx="1617.1000000000001" cy="542.2" r="3.8" fill="url(#ledoff)"/><text x="1521.9" y="583.5" font-size="14" fill="#ece8dc" text-anchor="middle" font-family="Liberation Sans" font-weight="bold" textLength="26" lengthAdjust="spacingAndGlyphs" >PITCH</text><text x="1562.9" y="583.5" font-size="14" fill="#ece8dc" text-anchor="middle" font-family="Liberation Sans" font-weight="bold" textLength="21.5" lengthAdjust="spacingAndGlyphs" >GATE</text><text x="1603.9" y="583.5" font-size="14" fill="#ece8dc" text-anchor="middle" font-family="Liberation Sans" font-weight="bold" textLength="19.5" lengthAdjust="spacingAndGlyphs" >VEL.</text><rect x="463" y="575.5" width="27.5" height="25.5" rx="3" fill="#7b817a" stroke="#5b7fb5" stroke-width="1.6"/><path d="M457 588H463M490.5 588H497" stroke="#5b7fb5" stroke-width="1.5"/><path d="M467.1 580.5H471.9M466.5 581.1V587.1999999999999M472.5 581.1V587.1999999999999M467.1 587.8H471.9M472.5 588.4V594.5M467.1 595.1H471.9M478.6 580.5H483.4M478 581.1V587.1999999999999M484 581.1V587.1999999999999M478.6 587.8H483.4M484 588.4V594.5M478.6 595.1H483.4" stroke="#262a26" stroke-width="2" fill="none"/><circle cx="511.5" cy="600.3" r="18" fill="#001a40" opacity="0.35"/><polygon points="504.51,582.02 498.73,585.95 494.90,591.79 493.60,598.66 495.02,605.49 498.95,611.27 504.79,615.10 511.66,616.40 518.49,614.98 524.27,611.05 528.10,605.21 529.40,598.34 527.98,591.51 524.05,585.73 518.21,581.90 511.34,580.60" fill="#6e6e6e"/><circle cx="511.5" cy="598.5" r="14.4" fill="#000"/><polygon points="511.02,584.71 506.87,581.21 502.28,583.16 501.91,588.57" fill="#000"/><polygon points="501.41,589.09 496.00,589.55 494.13,594.17 497.70,598.26" fill="#000"/><polygon points="497.71,598.98 494.21,603.13 496.16,607.72 501.57,608.09" fill="#000"/><polygon points="502.09,608.59 502.55,614.00 507.17,615.87 511.26,612.30" fill="#000"/><polygon points="511.98,612.29 516.13,615.79 520.72,613.84 521.09,608.43" fill="#000"/><polygon points="521.59,607.91 527.00,607.45 528.87,602.83 525.30,598.74" fill="#000"/><polygon points="525.29,598.02 528.79,593.87 526.84,589.28 521.43,588.91" fill="#000"/><polygon points="520.91,588.41 520.45,583.00 515.83,581.13 511.74,584.70" fill="#000"/><circle cx="511.5" cy="598.5" r="13.7" fill="#bcae9f"/><path d="M511.5 598.5L503.64 587.28A13.7 13.7 0 0 0 498.55 594.04Z" fill="#8e8286"/><path d="M511.5 598.5L506.93 585.59A13.7 13.7 0 0 0 503.64 587.28Z" fill="#f6f2c6"/><path d="M511.5 598.5L519.36 609.72A13.7 13.7 0 0 0 524.45 602.96Z" fill="#8e8286"/><path d="M511.5 598.5L516.07 611.41A13.7 13.7 0 0 0 519.36 609.72Z" fill="#f6f2c6"/><path d="M506.93 585.59L516.07 611.41" stroke="#7a7e90" stroke-width="0.6"/><circle cx="592.7" cy="600.3" r="18" fill="#001a40" opacity="0.35"/><polygon points="610.60,598.50 609.24,591.65 605.36,585.84 599.55,581.96 592.70,580.60 585.85,581.96 580.04,585.84 576.16,591.65 574.80,598.50 576.16,605.35 580.04,611.16 585.85,615.04 592.70,616.40 599.55,615.04 605.36,611.16 609.24,605.35" fill="#6e6e6e"/><circle cx="592.7" cy="598.5" r="14.4" fill="#000"/><polygon points="605.58,603.45 610.43,600.99 610.43,596.01 605.58,593.55" fill="#000"/><polygon points="605.31,592.89 607.00,587.73 603.47,584.20 598.31,585.89" fill="#000"/><polygon points="597.65,585.62 595.19,580.77 590.21,580.77 587.75,585.62" fill="#000"/><polygon points="587.09,585.89 581.93,584.20 578.40,587.73 580.09,592.89" fill="#000"/><polygon points="579.82,593.55 574.97,596.01 574.97,600.99 579.82,603.45" fill="#000"/><polygon points="580.09,604.11 578.40,609.27 581.93,612.80 587.09,611.11" fill="#000"/><polygon points="587.75,611.38 590.21,616.23 595.19,616.23 597.65,611.38" fill="#000"/><polygon points="598.31,611.11 603.47,612.80 607.00,609.27 605.31,604.11" fill="#000"/><circle cx="592.7" cy="598.5" r="13.7" fill="#bcae9f"/><path d="M592.7 598.5L606.10 595.65A13.7 13.7 0 0 0 601.87 588.32Z" fill="#8e8286"/><path d="M592.7 598.5L606.37 599.34A13.7 13.7 0 0 0 606.10 595.65Z" fill="#f6f2c6"/><path d="M592.7 598.5L579.30 601.35A13.7 13.7 0 0 0 583.53 608.68Z" fill="#8e8286"/><path d="M592.7 598.5L579.03 597.66A13.7 13.7 0 0 0 579.30 601.35Z" fill="#f6f2c6"/><path d="M606.37 599.34L579.03 597.66" stroke="#7a7e90" stroke-width="0.6"/><circle cx="593" cy="576" r="10" fill="url(#gglow)"/><circle cx="593" cy="576" r="3" fill="#30f030"/><circle cx="648.7" cy="600.3" r="18" fill="#001a40" opacity="0.35"/><polygon points="666.60,598.50 665.24,591.65 661.36,585.84 655.55,581.96 648.70,580.60 641.85,581.96 636.04,585.84 632.16,591.65 630.80,598.50 632.16,605.35 636.04,611.16 641.85,615.04 648.70,616.40 655.55,615.04 661.36,611.16 665.24,605.35" fill="#6e6e6e"/><circle cx="648.7" cy="598.5" r="14.4" fill="#000"/><polygon points="661.58,603.45 666.43,600.99 666.43,596.01 661.58,593.55" fill="#000"/><polygon points="661.31,592.89 663.00,587.73 659.47,584.20 654.31,585.89" fill="#000"/><polygon points="653.65,585.62 651.19,580.77 646.21,580.77 643.75,585.62" fill="#000"/><polygon points="643.09,585.89 637.93,584.20 634.40,587.73 636.09,592.89" fill="#000"/><polygon points="635.82,593.55 630.97,596.01 630.97,600.99 635.82,603.45" fill="#000"/><polygon points="636.09,604.11 634.40,609.27 637.93,612.80 643.09,611.11" fill="#000"/><polygon points="643.75,611.38 646.21,616.23 651.19,616.23 653.65,611.38" fill="#000"/><polygon points="654.31,611.11 659.47,612.80 663.00,609.27 661.31,604.11" fill="#000"/><circle cx="648.7" cy="598.5" r="13.7" fill="#bcae9f"/><path d="M648.7 598.5L662.10 595.65A13.7 13.7 0 0 0 657.87 588.32Z" fill="#8e8286"/><path d="M648.7 598.5L662.37 599.34A13.7 13.7 0 0 0 662.10 595.65Z" fill="#f6f2c6"/><path d="M648.7 598.5L635.30 601.35A13.7 13.7 0 0 0 639.53 608.68Z" fill="#8e8286"/><path d="M648.7 598.5L635.03 597.66A13.7 13.7 0 0 0 635.30 601.35Z" fill="#f6f2c6"/><path d="M662.37 599.34L635.03 597.66" stroke="#7a7e90" stroke-width="0.6"/><circle cx="648.7" cy="576" r="2.8" fill="url(#ledoff)"/><circle cx="704.7" cy="600.3" r="18" fill="#001a40" opacity="0.35"/><polygon points="722.60,598.50 721.24,591.65 717.36,585.84 711.55,581.96 704.70,580.60 697.85,581.96 692.04,585.84 688.16,591.65 686.80,598.50 688.16,605.35 692.04,611.16 697.85,615.04 704.70,616.40 711.55,615.04 717.36,611.16 721.24,605.35" fill="#6e6e6e"/><circle cx="704.7" cy="598.5" r="14.4" fill="#000"/><polygon points="717.58,603.45 722.43,600.99 722.43,596.01 717.58,593.55" fill="#000"/><polygon points="717.31,592.89 719.00,587.73 715.47,584.20 710.31,585.89" fill="#000"/><polygon points="709.65,585.62 707.19,580.77 702.21,580.77 699.75,585.62" fill="#000"/><polygon points="699.09,585.89 693.93,584.20 690.40,587.73 692.09,592.89" fill="#000"/><polygon points="691.82,593.55 686.97,596.01 686.97,600.99 691.82,603.45" fill="#000"/><polygon points="692.09,604.11 690.40,609.27 693.93,612.80 699.09,611.11" fill="#000"/><polygon points="699.75,611.38 702.21,616.23 707.19,616.23 709.65,611.38" fill="#000"/><polygon points="710.31,611.11 715.47,612.80 719.00,609.27 717.31,604.11" fill="#000"/><circle cx="704.7" cy="598.5" r="13.7" fill="#bcae9f"/><path d="M704.7 598.5L718.10 595.65A13.7 13.7 0 0 0 713.87 588.32Z" fill="#8e8286"/><path d="M704.7 598.5L718.37 599.34A13.7 13.7 0 0 0 718.10 595.65Z" fill="#f6f2c6"/><path d="M704.7 598.5L691.30 601.35A13.7 13.7 0 0 0 695.53 608.68Z" fill="#8e8286"/><path d="M704.7 598.5L691.03 597.66A13.7 13.7 0 0 0 691.30 601.35Z" fill="#f6f2c6"/><path d="M718.37 599.34L691.03 597.66" stroke="#7a7e90" stroke-width="0.6"/><circle cx="704.7" cy="576" r="2.8" fill="url(#ledoff)"/><circle cx="760.7" cy="600.3" r="18" fill="#001a40" opacity="0.35"/><polygon points="778.60,598.50 777.24,591.65 773.36,585.84 767.55,581.96 760.70,580.60 753.85,581.96 748.04,585.84 744.16,591.65 742.80,598.50 744.16,605.35 748.04,611.16 753.85,615.04 760.70,616.40 767.55,615.04 773.36,611.16 777.24,605.35" fill="#6e6e6e"/><circle cx="760.7" cy="598.5" r="14.4" fill="#000"/><polygon points="773.58,603.45 778.43,600.99 778.43,596.01 773.58,593.55" fill="#000"/><polygon points="773.31,592.89 775.00,587.73 771.47,584.20 766.31,585.89" fill="#000"/><polygon points="765.65,585.62 763.19,580.77 758.21,580.77 755.75,585.62" fill="#000"/><polygon points="755.09,585.89 749.93,584.20 746.40,587.73 748.09,592.89" fill="#000"/><polygon points="747.82,593.55 742.97,596.01 742.97,600.99 747.82,603.45" fill="#000"/><polygon points="748.09,604.11 746.40,609.27 749.93,612.80 755.09,611.11" fill="#000"/><polygon points="755.75,611.38 758.21,616.23 763.19,616.23 765.65,611.38" fill="#000"/><polygon points="766.31,611.11 771.47,612.80 775.00,609.27 773.31,604.11" fill="#000"/><circle cx="760.7" cy="598.5" r="13.7" fill="#bcae9f"/><path d="M760.7 598.5L774.10 595.65A13.7 13.7 0 0 0 769.87 588.32Z" fill="#8e8286"/><path d="M760.7 598.5L774.37 599.34A13.7 13.7 0 0 0 774.10 595.65Z" fill="#f6f2c6"/><path d="M760.7 598.5L747.30 601.35A13.7 13.7 0 0 0 751.53 608.68Z" fill="#8e8286"/><path d="M760.7 598.5L747.03 597.66A13.7 13.7 0 0 0 747.30 601.35Z" fill="#f6f2c6"/><path d="M774.37 599.34L747.03 597.66" stroke="#7a7e90" stroke-width="0.6"/><circle cx="760.7" cy="576" r="2.8" fill="url(#ledoff)"/><circle cx="816.7" cy="600.3" r="18" fill="#001a40" opacity="0.35"/><polygon points="834.60,598.50 833.24,591.65 829.36,585.84 823.55,581.96 816.70,580.60 809.85,581.96 804.04,585.84 800.16,591.65 798.80,598.50 800.16,605.35 804.04,611.16 809.85,615.04 816.70,616.40 823.55,615.04 829.36,611.16 833.24,605.35" fill="#6e6e6e"/><circle cx="816.7" cy="598.5" r="14.4" fill="#000"/><polygon points="829.58,603.45 834.43,600.99 834.43,596.01 829.58,593.55" fill="#000"/><polygon points="829.31,592.89 831.00,587.73 827.47,584.20 822.31,585.89" fill="#000"/><polygon points="821.65,585.62 819.19,580.77 814.21,580.77 811.75,585.62" fill="#000"/><polygon points="811.09,585.89 805.93,584.20 802.40,587.73 804.09,592.89" fill="#000"/><polygon points="803.82,593.55 798.97,596.01 798.97,600.99 803.82,603.45" fill="#000"/><polygon points="804.09,604.11 802.40,609.27 805.93,612.80 811.09,611.11" fill="#000"/><polygon points="811.75,611.38 814.21,616.23 819.19,616.23 821.65,611.38" fill="#000"/><polygon points="822.31,611.11 827.47,612.80 831.00,609.27 829.31,604.11" fill="#000"/><circle cx="816.7" cy="598.5" r="13.7" fill="#bcae9f"/><path d="M816.7 598.5L830.10 595.65A13.7 13.7 0 0 0 825.87 588.32Z" fill="#8e8286"/><path d="M816.7 598.5L830.37 599.34A13.7 13.7 0 0 0 830.10 595.65Z" fill="#f6f2c6"/><path d="M816.7 598.5L803.30 601.35A13.7 13.7 0 0 0 807.53 608.68Z" fill="#8e8286"/><path d="M816.7 598.5L803.03 597.66A13.7 13.7 0 0 0 803.30 601.35Z" fill="#f6f2c6"/><path d="M830.37 599.34L803.03 597.66" stroke="#7a7e90" stroke-width="0.6"/><circle cx="816.7" cy="576" r="2.8" fill="url(#ledoff)"/><circle cx="872.7" cy="600.3" r="18" fill="#001a40" opacity="0.35"/><polygon points="890.60,598.50 889.24,591.65 885.36,585.84 879.55,581.96 872.70,580.60 865.85,581.96 860.04,585.84 856.16,591.65 854.80,598.50 856.16,605.35 860.04,611.16 865.85,615.04 872.70,616.40 879.55,615.04 885.36,611.16 889.24,605.35" fill="#6e6e6e"/><circle cx="872.7" cy="598.5" r="14.4" fill="#000"/><polygon points="885.58,603.45 890.43,600.99 890.43,596.01 885.58,593.55" fill="#000"/><polygon points="885.31,592.89 887.00,587.73 883.47,584.20 878.31,585.89" fill="#000"/><polygon points="877.65,585.62 875.19,580.77 870.21,580.77 867.75,585.62" fill="#000"/><polygon points="867.09,585.89 861.93,584.20 858.40,587.73 860.09,592.89" fill="#000"/><polygon points="859.82,593.55 854.97,596.01 854.97,600.99 859.82,603.45" fill="#000"/><polygon points="860.09,604.11 858.40,609.27 861.93,612.80 867.09,611.11" fill="#000"/><polygon points="867.75,611.38 870.21,616.23 875.19,616.23 877.65,611.38" fill="#000"/><polygon points="878.31,611.11 883.47,612.80 887.00,609.27 885.31,604.11" fill="#000"/><circle cx="872.7" cy="598.5" r="13.7" fill="#bcae9f"/><path d="M872.7 598.5L886.10 595.65A13.7 13.7 0 0 0 881.87 588.32Z" fill="#8e8286"/><path d="M872.7 598.5L886.37 599.34A13.7 13.7 0 0 0 886.10 595.65Z" fill="#f6f2c6"/><path d="M872.7 598.5L859.30 601.35A13.7 13.7 0 0 0 863.53 608.68Z" fill="#8e8286"/><path d="M872.7 598.5L859.03 597.66A13.7 13.7 0 0 0 859.30 601.35Z" fill="#f6f2c6"/><path d="M886.37 599.34L859.03 597.66" stroke="#7a7e90" stroke-width="0.6"/><circle cx="872.7" cy="576" r="2.8" fill="url(#ledoff)"/><circle cx="928.7" cy="600.3" r="18" fill="#001a40" opacity="0.35"/><polygon points="946.60,598.50 945.24,591.65 941.36,585.84 935.55,581.96 928.70,580.60 921.85,581.96 916.04,585.84 912.16,591.65 910.80,598.50 912.16,605.35 916.04,611.16 921.85,615.04 928.70,616.40 935.55,615.04 941.36,611.16 945.24,605.35" fill="#6e6e6e"/><circle cx="928.7" cy="598.5" r="14.4" fill="#000"/><polygon points="941.58,603.45 946.43,600.99 946.43,596.01 941.58,593.55" fill="#000"/><polygon points="941.31,592.89 943.00,587.73 939.47,584.20 934.31,585.89" fill="#000"/><polygon points="933.65,585.62 931.19,580.77 926.21,580.77 923.75,585.62" fill="#000"/><polygon points="923.09,585.89 917.93,584.20 914.40,587.73 916.09,592.89" fill="#000"/><polygon points="915.82,593.55 910.97,596.01 910.97,600.99 915.82,603.45" fill="#000"/><polygon points="916.09,604.11 914.40,609.27 917.93,612.80 923.09,611.11" fill="#000"/><polygon points="923.75,611.38 926.21,616.23 931.19,616.23 933.65,611.38" fill="#000"/><polygon points="934.31,611.11 939.47,612.80 943.00,609.27 941.31,604.11" fill="#000"/><circle cx="928.7" cy="598.5" r="13.7" fill="#bcae9f"/><path d="M928.7 598.5L942.10 595.65A13.7 13.7 0 0 0 937.87 588.32Z" fill="#8e8286"/><path d="M928.7 598.5L942.37 599.34A13.7 13.7 0 0 0 942.10 595.65Z" fill="#f6f2c6"/><path d="M928.7 598.5L915.30 601.35A13.7 13.7 0 0 0 919.53 608.68Z" fill="#8e8286"/><path d="M928.7 598.5L915.03 597.66A13.7 13.7 0 0 0 915.30 601.35Z" fill="#f6f2c6"/><path d="M942.37 599.34L915.03 597.66" stroke="#7a7e90" stroke-width="0.6"/><circle cx="928.7" cy="576" r="2.8" fill="url(#ledoff)"/><circle cx="984.7" cy="600.3" r="18" fill="#001a40" opacity="0.35"/><polygon points="1002.60,598.50 1001.24,591.65 997.36,585.84 991.55,581.96 984.70,580.60 977.85,581.96 972.04,585.84 968.16,591.65 966.80,598.50 968.16,605.35 972.04,611.16 977.85,615.04 984.70,616.40 991.55,615.04 997.36,611.16 1001.24,605.35" fill="#6e6e6e"/><circle cx="984.7" cy="598.5" r="14.4" fill="#000"/><polygon points="997.58,603.45 1002.43,600.99 1002.43,596.01 997.58,593.55" fill="#000"/><polygon points="997.31,592.89 999.00,587.73 995.47,584.20 990.31,585.89" fill="#000"/><polygon points="989.65,585.62 987.19,580.77 982.21,580.77 979.75,585.62" fill="#000"/><polygon points="979.09,585.89 973.93,584.20 970.40,587.73 972.09,592.89" fill="#000"/><polygon points="971.82,593.55 966.97,596.01 966.97,600.99 971.82,603.45" fill="#000"/><polygon points="972.09,604.11 970.40,609.27 973.93,612.80 979.09,611.11" fill="#000"/><polygon points="979.75,611.38 982.21,616.23 987.19,616.23 989.65,611.38" fill="#000"/><polygon points="990.31,611.11 995.47,612.80 999.00,609.27 997.31,604.11" fill="#000"/><circle cx="984.7" cy="598.5" r="13.7" fill="#bcae9f"/><path d="M984.7 598.5L998.10 595.65A13.7 13.7 0 0 0 993.87 588.32Z" fill="#8e8286"/><path d="M984.7 598.5L998.37 599.34A13.7 13.7 0 0 0 998.10 595.65Z" fill="#f6f2c6"/><path d="M984.7 598.5L971.30 601.35A13.7 13.7 0 0 0 975.53 608.68Z" fill="#8e8286"/><path d="M984.7 598.5L971.03 597.66A13.7 13.7 0 0 0 971.30 601.35Z" fill="#f6f2c6"/><path d="M998.37 599.34L971.03 597.66" stroke="#7a7e90" stroke-width="0.6"/><circle cx="984.7" cy="576" r="2.8" fill="url(#ledoff)"/><circle cx="1040.7" cy="600.3" r="18" fill="#001a40" opacity="0.35"/><polygon points="1058.60,598.50 1057.24,591.65 1053.36,585.84 1047.55,581.96 1040.70,580.60 1033.85,581.96 1028.04,585.84 1024.16,591.65 1022.80,598.50 1024.16,605.35 1028.04,611.16 1033.85,615.04 1040.70,616.40 1047.55,615.04 1053.36,611.16 1057.24,605.35" fill="#6e6e6e"/><circle cx="1040.7" cy="598.5" r="14.4" fill="#000"/><polygon points="1053.58,603.45 1058.43,600.99 1058.43,596.01 1053.58,593.55" fill="#000"/><polygon points="1053.31,592.89 1055.00,587.73 1051.47,584.20 1046.31,585.89" fill="#000"/><polygon points="1045.65,585.62 1043.19,580.77 1038.21,580.77 1035.75,585.62" fill="#000"/><polygon points="1035.09,585.89 1029.93,584.20 1026.40,587.73 1028.09,592.89" fill="#000"/><polygon points="1027.82,593.55 1022.97,596.01 1022.97,600.99 1027.82,603.45" fill="#000"/><polygon points="1028.09,604.11 1026.40,609.27 1029.93,612.80 1035.09,611.11" fill="#000"/><polygon points="1035.75,611.38 1038.21,616.23 1043.19,616.23 1045.65,611.38" fill="#000"/><polygon points="1046.31,611.11 1051.47,612.80 1055.00,609.27 1053.31,604.11" fill="#000"/><circle cx="1040.7" cy="598.5" r="13.7" fill="#bcae9f"/><path d="M1040.7 598.5L1054.10 595.65A13.7 13.7 0 0 0 1049.87 588.32Z" fill="#8e8286"/><path d="M1040.7 598.5L1054.37 599.34A13.7 13.7 0 0 0 1054.10 595.65Z" fill="#f6f2c6"/><path d="M1040.7 598.5L1027.30 601.35A13.7 13.7 0 0 0 1031.53 608.68Z" fill="#8e8286"/><path d="M1040.7 598.5L1027.03 597.66A13.7 13.7 0 0 0 1027.30 601.35Z" fill="#f6f2c6"/><path d="M1054.37 599.34L1027.03 597.66" stroke="#7a7e90" stroke-width="0.6"/><circle cx="1040.7" cy="576" r="2.8" fill="url(#ledoff)"/><circle cx="1096.7" cy="600.3" r="18" fill="#001a40" opacity="0.35"/><polygon points="1114.60,598.50 1113.24,591.65 1109.36,585.84 1103.55,581.96 1096.70,580.60 1089.85,581.96 1084.04,585.84 1080.16,591.65 1078.80,598.50 1080.16,605.35 1084.04,611.16 1089.85,615.04 1096.70,616.40 1103.55,615.04 1109.36,611.16 1113.24,605.35" fill="#6e6e6e"/><circle cx="1096.7" cy="598.5" r="14.4" fill="#000"/><polygon points="1109.58,603.45 1114.43,600.99 1114.43,596.01 1109.58,593.55" fill="#000"/><polygon points="1109.31,592.89 1111.00,587.73 1107.47,584.20 1102.31,585.89" fill="#000"/><polygon points="1101.65,585.62 1099.19,580.77 1094.21,580.77 1091.75,585.62" fill="#000"/><polygon points="1091.09,585.89 1085.93,584.20 1082.40,587.73 1084.09,592.89" fill="#000"/><polygon points="1083.82,593.55 1078.97,596.01 1078.97,600.99 1083.82,603.45" fill="#000"/><polygon points="1084.09,604.11 1082.40,609.27 1085.93,612.80 1091.09,611.11" fill="#000"/><polygon points="1091.75,611.38 1094.21,616.23 1099.19,616.23 1101.65,611.38" fill="#000"/><polygon points="1102.31,611.11 1107.47,612.80 1111.00,609.27 1109.31,604.11" fill="#000"/><circle cx="1096.7" cy="598.5" r="13.7" fill="#bcae9f"/><path d="M1096.7 598.5L1110.10 595.65A13.7 13.7 0 0 0 1105.87 588.32Z" fill="#8e8286"/><path d="M1096.7 598.5L1110.37 599.34A13.7 13.7 0 0 0 1110.10 595.65Z" fill="#f6f2c6"/><path d="M1096.7 598.5L1083.30 601.35A13.7 13.7 0 0 0 1087.53 608.68Z" fill="#8e8286"/><path d="M1096.7 598.5L1083.03 597.66A13.7 13.7 0 0 0 1083.30 601.35Z" fill="#f6f2c6"/><path d="M1110.37 599.34L1083.03 597.66" stroke="#7a7e90" stroke-width="0.6"/><circle cx="1096.7" cy="576" r="2.8" fill="url(#ledoff)"/><circle cx="1152.7" cy="600.3" r="18" fill="#001a40" opacity="0.35"/><polygon points="1170.60,598.50 1169.24,591.65 1165.36,585.84 1159.55,581.96 1152.70,580.60 1145.85,581.96 1140.04,585.84 1136.16,591.65 1134.80,598.50 1136.16,605.35 1140.04,611.16 1145.85,615.04 1152.70,616.40 1159.55,615.04 1165.36,611.16 1169.24,605.35" fill="#6e6e6e"/><circle cx="1152.7" cy="598.5" r="14.4" fill="#000"/><polygon points="1165.58,603.45 1170.43,600.99 1170.43,596.01 1165.58,593.55" fill="#000"/><polygon points="1165.31,592.89 1167.00,587.73 1163.47,584.20 1158.31,585.89" fill="#000"/><polygon points="1157.65,585.62 1155.19,580.77 1150.21,580.77 1147.75,585.62" fill="#000"/><polygon points="1147.09,585.89 1141.93,584.20 1138.40,587.73 1140.09,592.89" fill="#000"/><polygon points="1139.82,593.55 1134.97,596.01 1134.97,600.99 1139.82,603.45" fill="#000"/><polygon points="1140.09,604.11 1138.40,609.27 1141.93,612.80 1147.09,611.11" fill="#000"/><polygon points="1147.75,611.38 1150.21,616.23 1155.19,616.23 1157.65,611.38" fill="#000"/><polygon points="1158.31,611.11 1163.47,612.80 1167.00,609.27 1165.31,604.11" fill="#000"/><circle cx="1152.7" cy="598.5" r="13.7" fill="#bcae9f"/><path d="M1152.7 598.5L1166.10 595.65A13.7 13.7 0 0 0 1161.87 588.32Z" fill="#8e8286"/><path d="M1152.7 598.5L1166.37 599.34A13.7 13.7 0 0 0 1166.10 595.65Z" fill="#f6f2c6"/><path d="M1152.7 598.5L1139.30 601.35A13.7 13.7 0 0 0 1143.53 608.68Z" fill="#8e8286"/><path d="M1152.7 598.5L1139.03 597.66A13.7 13.7 0 0 0 1139.30 601.35Z" fill="#f6f2c6"/><path d="M1166.37 599.34L1139.03 597.66" stroke="#7a7e90" stroke-width="0.6"/><circle cx="1152.7" cy="576" r="2.8" fill="url(#ledoff)"/><circle cx="1208.7" cy="600.3" r="18" fill="#001a40" opacity="0.35"/><polygon points="1226.60,598.50 1225.24,591.65 1221.36,585.84 1215.55,581.96 1208.70,580.60 1201.85,581.96 1196.04,585.84 1192.16,591.65 1190.80,598.50 1192.16,605.35 1196.04,611.16 1201.85,615.04 1208.70,616.40 1215.55,615.04 1221.36,611.16 1225.24,605.35" fill="#6e6e6e"/><circle cx="1208.7" cy="598.5" r="14.4" fill="#000"/><polygon points="1221.58,603.45 1226.43,600.99 1226.43,596.01 1221.58,593.55" fill="#000"/><polygon points="1221.31,592.89 1223.00,587.73 1219.47,584.20 1214.31,585.89" fill="#000"/><polygon points="1213.65,585.62 1211.19,580.77 1206.21,580.77 1203.75,585.62" fill="#000"/><polygon points="1203.09,585.89 1197.93,584.20 1194.40,587.73 1196.09,592.89" fill="#000"/><polygon points="1195.82,593.55 1190.97,596.01 1190.97,600.99 1195.82,603.45" fill="#000"/><polygon points="1196.09,604.11 1194.40,609.27 1197.93,612.80 1203.09,611.11" fill="#000"/><polygon points="1203.75,611.38 1206.21,616.23 1211.19,616.23 1213.65,611.38" fill="#000"/><polygon points="1214.31,611.11 1219.47,612.80 1223.00,609.27 1221.31,604.11" fill="#000"/><circle cx="1208.7" cy="598.5" r="13.7" fill="#bcae9f"/><path d="M1208.7 598.5L1222.10 595.65A13.7 13.7 0 0 0 1217.87 588.32Z" fill="#8e8286"/><path d="M1208.7 598.5L1222.37 599.34A13.7 13.7 0 0 0 1222.10 595.65Z" fill="#f6f2c6"/><path d="M1208.7 598.5L1195.30 601.35A13.7 13.7 0 0 0 1199.53 608.68Z" fill="#8e8286"/><path d="M1208.7 598.5L1195.03 597.66A13.7 13.7 0 0 0 1195.30 601.35Z" fill="#f6f2c6"/><path d="M1222.37 599.34L1195.03 597.66" stroke="#7a7e90" stroke-width="0.6"/><circle cx="1208.7" cy="576" r="2.8" fill="url(#ledoff)"/><circle cx="1264.7" cy="600.3" r="18" fill="#001a40" opacity="0.35"/><polygon points="1282.60,598.50 1281.24,591.65 1277.36,585.84 1271.55,581.96 1264.70,580.60 1257.85,581.96 1252.04,585.84 1248.16,591.65 1246.80,598.50 1248.16,605.35 1252.04,611.16 1257.85,615.04 1264.70,616.40 1271.55,615.04 1277.36,611.16 1281.24,605.35" fill="#6e6e6e"/><circle cx="1264.7" cy="598.5" r="14.4" fill="#000"/><polygon points="1277.58,603.45 1282.43,600.99 1282.43,596.01 1277.58,593.55" fill="#000"/><polygon points="1277.31,592.89 1279.00,587.73 1275.47,584.20 1270.31,585.89" fill="#000"/><polygon points="1269.65,585.62 1267.19,580.77 1262.21,580.77 1259.75,585.62" fill="#000"/><polygon points="1259.09,585.89 1253.93,584.20 1250.40,587.73 1252.09,592.89" fill="#000"/><polygon points="1251.82,593.55 1246.97,596.01 1246.97,600.99 1251.82,603.45" fill="#000"/><polygon points="1252.09,604.11 1250.40,609.27 1253.93,612.80 1259.09,611.11" fill="#000"/><polygon points="1259.75,611.38 1262.21,616.23 1267.19,616.23 1269.65,611.38" fill="#000"/><polygon points="1270.31,611.11 1275.47,612.80 1279.00,609.27 1277.31,604.11" fill="#000"/><circle cx="1264.7" cy="598.5" r="13.7" fill="#bcae9f"/><path d="M1264.7 598.5L1278.10 595.65A13.7 13.7 0 0 0 1273.87 588.32Z" fill="#8e8286"/><path d="M1264.7 598.5L1278.37 599.34A13.7 13.7 0 0 0 1278.10 595.65Z" fill="#f6f2c6"/><path d="M1264.7 598.5L1251.30 601.35A13.7 13.7 0 0 0 1255.53 608.68Z" fill="#8e8286"/><path d="M1264.7 598.5L1251.03 597.66A13.7 13.7 0 0 0 1251.30 601.35Z" fill="#f6f2c6"/><path d="M1278.37 599.34L1251.03 597.66" stroke="#7a7e90" stroke-width="0.6"/><circle cx="1264.7" cy="576" r="2.8" fill="url(#ledoff)"/><circle cx="1320.7" cy="600.3" r="18" fill="#001a40" opacity="0.35"/><polygon points="1338.60,598.50 1337.24,591.65 1333.36,585.84 1327.55,581.96 1320.70,580.60 1313.85,581.96 1308.04,585.84 1304.16,591.65 1302.80,598.50 1304.16,605.35 1308.04,611.16 1313.85,615.04 1320.70,616.40 1327.55,615.04 1333.36,611.16 1337.24,605.35" fill="#6e6e6e"/><circle cx="1320.7" cy="598.5" r="14.4" fill="#000"/><polygon points="1333.58,603.45 1338.43,600.99 1338.43,596.01 1333.58,593.55" fill="#000"/><polygon points="1333.31,592.89 1335.00,587.73 1331.47,584.20 1326.31,585.89" fill="#000"/><polygon points="1325.65,585.62 1323.19,580.77 1318.21,580.77 1315.75,585.62" fill="#000"/><polygon points="1315.09,585.89 1309.93,584.20 1306.40,587.73 1308.09,592.89" fill="#000"/><polygon points="1307.82,593.55 1302.97,596.01 1302.97,600.99 1307.82,603.45" fill="#000"/><polygon points="1308.09,604.11 1306.40,609.27 1309.93,612.80 1315.09,611.11" fill="#000"/><polygon points="1315.75,611.38 1318.21,616.23 1323.19,616.23 1325.65,611.38" fill="#000"/><polygon points="1326.31,611.11 1331.47,612.80 1335.00,609.27 1333.31,604.11" fill="#000"/><circle cx="1320.7" cy="598.5" r="13.7" fill="#bcae9f"/><path d="M1320.7 598.5L1334.10 595.65A13.7 13.7 0 0 0 1329.87 588.32Z" fill="#8e8286"/><path d="M1320.7 598.5L1334.37 599.34A13.7 13.7 0 0 0 1334.10 595.65Z" fill="#f6f2c6"/><path d="M1320.7 598.5L1307.30 601.35A13.7 13.7 0 0 0 1311.53 608.68Z" fill="#8e8286"/><path d="M1320.7 598.5L1307.03 597.66A13.7 13.7 0 0 0 1307.30 601.35Z" fill="#f6f2c6"/><path d="M1334.37 599.34L1307.03 597.66" stroke="#7a7e90" stroke-width="0.6"/><circle cx="1320.7" cy="576" r="2.8" fill="url(#ledoff)"/><circle cx="1376.7" cy="600.3" r="18" fill="#001a40" opacity="0.35"/><polygon points="1394.60,598.50 1393.24,591.65 1389.36,585.84 1383.55,581.96 1376.70,580.60 1369.85,581.96 1364.04,585.84 1360.16,591.65 1358.80,598.50 1360.16,605.35 1364.04,611.16 1369.85,615.04 1376.70,616.40 1383.55,615.04 1389.36,611.16 1393.24,605.35" fill="#6e6e6e"/><circle cx="1376.7" cy="598.5" r="14.4" fill="#000"/><polygon points="1389.58,603.45 1394.43,600.99 1394.43,596.01 1389.58,593.55" fill="#000"/><polygon points="1389.31,592.89 1391.00,587.73 1387.47,584.20 1382.31,585.89" fill="#000"/><polygon points="1381.65,585.62 1379.19,580.77 1374.21,580.77 1371.75,585.62" fill="#000"/><polygon points="1371.09,585.89 1365.93,584.20 1362.40,587.73 1364.09,592.89" fill="#000"/><polygon points="1363.82,593.55 1358.97,596.01 1358.97,600.99 1363.82,603.45" fill="#000"/><polygon points="1364.09,604.11 1362.40,609.27 1365.93,612.80 1371.09,611.11" fill="#000"/><polygon points="1371.75,611.38 1374.21,616.23 1379.19,616.23 1381.65,611.38" fill="#000"/><polygon points="1382.31,611.11 1387.47,612.80 1391.00,609.27 1389.31,604.11" fill="#000"/><circle cx="1376.7" cy="598.5" r="13.7" fill="#bcae9f"/><path d="M1376.7 598.5L1390.10 595.65A13.7 13.7 0 0 0 1385.87 588.32Z" fill="#8e8286"/><path d="M1376.7 598.5L1390.37 599.34A13.7 13.7 0 0 0 1390.10 595.65Z" fill="#f6f2c6"/><path d="M1376.7 598.5L1363.30 601.35A13.7 13.7 0 0 0 1367.53 608.68Z" fill="#8e8286"/><path d="M1376.7 598.5L1363.03 597.66A13.7 13.7 0 0 0 1363.30 601.35Z" fill="#f6f2c6"/><path d="M1390.37 599.34L1363.03 597.66" stroke="#7a7e90" stroke-width="0.6"/><circle cx="1376.7" cy="576" r="2.8" fill="url(#ledoff)"/><circle cx="1432.7" cy="600.3" r="18" fill="#001a40" opacity="0.35"/><polygon points="1450.60,598.50 1449.24,591.65 1445.36,585.84 1439.55,581.96 1432.70,580.60 1425.85,581.96 1420.04,585.84 1416.16,591.65 1414.80,598.50 1416.16,605.35 1420.04,611.16 1425.85,615.04 1432.70,616.40 1439.55,615.04 1445.36,611.16 1449.24,605.35" fill="#6e6e6e"/><circle cx="1432.7" cy="598.5" r="14.4" fill="#000"/><polygon points="1445.58,603.45 1450.43,600.99 1450.43,596.01 1445.58,593.55" fill="#000"/><polygon points="1445.31,592.89 1447.00,587.73 1443.47,584.20 1438.31,585.89" fill="#000"/><polygon points="1437.65,585.62 1435.19,580.77 1430.21,580.77 1427.75,585.62" fill="#000"/><polygon points="1427.09,585.89 1421.93,584.20 1418.40,587.73 1420.09,592.89" fill="#000"/><polygon points="1419.82,593.55 1414.97,596.01 1414.97,600.99 1419.82,603.45" fill="#000"/><polygon points="1420.09,604.11 1418.40,609.27 1421.93,612.80 1427.09,611.11" fill="#000"/><polygon points="1427.75,611.38 1430.21,616.23 1435.19,616.23 1437.65,611.38" fill="#000"/><polygon points="1438.31,611.11 1443.47,612.80 1447.00,609.27 1445.31,604.11" fill="#000"/><circle cx="1432.7" cy="598.5" r="13.7" fill="#bcae9f"/><path d="M1432.7 598.5L1446.10 595.65A13.7 13.7 0 0 0 1441.87 588.32Z" fill="#8e8286"/><path d="M1432.7 598.5L1446.37 599.34A13.7 13.7 0 0 0 1446.10 595.65Z" fill="#f6f2c6"/><path d="M1432.7 598.5L1419.30 601.35A13.7 13.7 0 0 0 1423.53 608.68Z" fill="#8e8286"/><path d="M1432.7 598.5L1419.03 597.66A13.7 13.7 0 0 0 1419.30 601.35Z" fill="#f6f2c6"/><path d="M1446.37 599.34L1419.03 597.66" stroke="#7a7e90" stroke-width="0.6"/><circle cx="1432.7" cy="576" r="2.8" fill="url(#ledoff)"/><text x="1503" y="613" font-size="15.5" fill="#e8e8e8" text-anchor="middle" font-family="Liberation Serif" textLength="52" lengthAdjust="spacingAndGlyphs" >FranKe</text><path d="M1540.67 609.74A5.9 6.4 0 1 1 1547.93 609.74" fill="none" stroke="#dd0a0a" stroke-width="5"/><rect x="1535.90" y="609.90" width="6" height="4.2" fill="#dd0a0a"/><rect x="1546.70" y="609.90" width="6" height="4.2" fill="#dd0a0a"/><text x="1541.7" y="617.9" font-size="19" fill="#efefef" text-anchor="start" font-family="Liberation Serif" font-style="italic" font-weight="bold" stroke="#7a0c0c" stroke-width="0.6">R</text><rect x="1654" y="241" width="75" height="380" fill="#1e1e1e"/><rect x="1654" y="241" width="75" height="38" fill="#2a2a2a"/><circle cx="1676.4" cy="248.6" r="5.4" fill="#4a4a4a"/><circle cx="1676.4" cy="248.6" r="4.4" fill="#383838"/><path d="M1673.2 248.6h6.4M1676.4 245.4v6.4" stroke="#161616" stroke-width="1.7"/><circle cx="1706.3" cy="248.6" r="5.4" fill="#4a4a4a"/><circle cx="1706.3" cy="248.6" r="4.4" fill="#383838"/><path d="M1703.1 248.6h6.4M1706.3 245.4v6.4" stroke="#161616" stroke-width="1.7"/><text x="1691.3" y="269.3" font-size="11.6" fill="#f2f2f2" text-anchor="middle" font-family="Liberation Sans" font-weight="bold" textLength="42.5" lengthAdjust="spacingAndGlyphs" >AUDIO</text><rect x="1654" y="279.4" width="75" height="27.5" fill="#0c0c0c"/><rect x="1656" y="281.2" width="73" height="24.5" fill="#181818" stroke="#2e2e2e" stroke-width="1"/><svg x="1656" y="281" width="73" height="25" overflow="hidden"><text x="8.4" y="16.6" font-size="10.25" fill="#dcb418" text-anchor="start" font-family="Liberation Mono" stroke="#dcb418" stroke-width="0.25">Yamaha Steinberg</text></svg><rect x="1654" y="307" width="75" height="111.5" fill="#141414"/><circle cx="1673.8" cy="326.0" r="3" fill="#2c2c2c"/><circle cx="1709.3" cy="326.0" r="3" fill="#2c2c2c"/><text x="1690" y="329.3" font-size="9" fill="#5a5a5a" text-anchor="middle" font-family="Liberation Sans" >0</text><circle cx="1673.8" cy="341.7" r="3" fill="#2c2c2c"/><circle cx="1709.3" cy="341.7" r="3" fill="#2c2c2c"/><text x="1690" y="345.0" font-size="9" fill="#5a5a5a" text-anchor="middle" font-family="Liberation Sans" >-3</text><circle cx="1673.8" cy="357.4" r="3" fill="#2c2c2c"/><circle cx="1709.3" cy="357.4" r="3" fill="#2c2c2c"/><text x="1690" y="360.7" font-size="9" fill="#5a5a5a" text-anchor="middle" font-family="Liberation Sans" >-6</text><circle cx="1673.8" cy="373.1" r="3" fill="#2c2c2c"/><circle cx="1709.3" cy="373.1" r="3" fill="#2c2c2c"/><text x="1690" y="376.4" font-size="9" fill="#5a5a5a" text-anchor="middle" font-family="Liberation Sans" >-12</text><circle cx="1673.8" cy="388.8" r="3" fill="#2c2c2c"/><circle cx="1709.3" cy="388.8" r="3" fill="#2c2c2c"/><text x="1690" y="392.1" font-size="9" fill="#5a5a5a" text-anchor="middle" font-family="Liberation Sans" >-24</text><circle cx="1673.8" cy="404.5" r="3" fill="#2c2c2c"/><circle cx="1709.3" cy="404.5" r="3" fill="#2c2c2c"/><text x="1690" y="407.8" font-size="9" fill="#5a5a5a" text-anchor="middle" font-family="Liberation Sans" >-36</text><rect x="1656" y="417" width="73" height="1" fill="#2e2e2e"/><rect x="1654" y="420" width="75" height="1" fill="#303030"/><text x="1692" y="441.6" font-size="8" fill="#dddddd" text-anchor="middle" font-family="Liberation Sans" font-weight="bold" textLength="27.3" lengthAdjust="spacingAndGlyphs" >LEVEL</text><path d="M1680.78 487.71A21.6 21.6 0 1 1 1703.02 487.71" fill="none" stroke="#d8d8d8" stroke-width="1.2"/><circle cx="1691.9" cy="470.2" r="18.6" fill="#0a0a0a"/><circle cx="1691.9" cy="469.2" r="18.2" fill="url(#aknob)"/><circle cx="1691.9" cy="469.2" r="15.6" fill="none" stroke="#3c3c3c" stroke-width="0.8"/><path d="M1691.9 469.2L1691.90 455.20A14 14 0 0 0 1679.78 462.20Z" fill="#2a2a2a"/><path d="M1691.9 469.2L1679.78 462.20A14 14 0 0 0 1679.78 476.20Z" fill="#141414"/><path d="M1691.9 469.2L1679.78 476.20A14 14 0 0 0 1691.90 483.20Z" fill="#1e1e1e"/><path d="M1691.9 469.2L1691.90 483.20A14 14 0 0 0 1704.02 476.20Z" fill="#161616"/><path d="M1691.9 469.2L1704.02 476.20A14 14 0 0 0 1704.02 462.20Z" fill="#2c2c2c"/><path d="M1691.9 469.2L1704.02 462.20A14 14 0 0 0 1691.90 455.20Z" fill="#121212"/><path d="M1691.9 450.7V469.2" stroke="#eeeeee" stroke-width="1.9"/><text x="1675" y="494.5" font-size="7" fill="#cfcfcf" text-anchor="middle" font-family="Liberation Sans" >-∞</text><text x="1708" y="494.5" font-size="7" fill="#cfcfcf" text-anchor="middle" font-family="Liberation Sans" >+12</text><text x="1675.3" y="512.2" font-size="7.5" fill="#dddddd" text-anchor="middle" font-family="Liberation Sans" font-weight="bold" textLength="25.5" lengthAdjust="spacingAndGlyphs" >L/MON</text><text x="1707.5" y="512.2" font-size="7.5" fill="#dddddd" text-anchor="middle" font-family="Liberation Sans" font-weight="bold" textLength="22" lengthAdjust="spacingAndGlyphs" >RIGHT</text><circle cx="1675.5" cy="526.8" r="11.4" fill="#b8b8b8"/><circle cx="1675.5" cy="526.8" r="10.4" fill="#e2e2e2"/><circle cx="1675.5" cy="526.8" r="8.6" fill="#2e2e2e"/><circle cx="1675.5" cy="526.8" r="4.6" fill="#000"/><circle cx="1707.2" cy="526.8" r="11.4" fill="#b8b8b8"/><circle cx="1707.2" cy="526.8" r="10.4" fill="#e2e2e2"/><circle cx="1707.2" cy="526.8" r="8.6" fill="#2e2e2e"/><circle cx="1707.2" cy="526.8" r="4.6" fill="#000"/><path d="M1689.5 524.3l4.2 2.5l-4.2 2.5z" fill="#eee"/><rect x="1661" y="550" width="61" height="38.8" rx="2.5" fill="#ececec"/><text x="1675.5" y="560.6" font-size="7.5" fill="#222" text-anchor="middle" font-family="Liberation Sans" font-weight="bold" textLength="18" lengthAdjust="spacingAndGlyphs" >LEFT</text><text x="1707.5" y="560.6" font-size="7.5" fill="#222" text-anchor="middle" font-family="Liberation Sans" font-weight="bold" textLength="22" lengthAdjust="spacingAndGlyphs" >RIGHT</text><circle cx="1675.5" cy="575.4" r="11.6" fill="#999"/><circle cx="1675.5" cy="574.8" r="11" fill="#f2f2f2"/><circle cx="1675.5" cy="574.8" r="9.6" fill="#b4b4b4"/><circle cx="1675.5" cy="574.8" r="8.8" fill="#e8e8e8"/><circle cx="1675.5" cy="574.8" r="8.2" fill="#2c2c2c"/><circle cx="1675.5" cy="574.8" r="4.6" fill="#000"/><circle cx="1707.2" cy="575.4" r="11.6" fill="#999"/><circle cx="1707.2" cy="574.8" r="11" fill="#f2f2f2"/><circle cx="1707.2" cy="574.8" r="9.6" fill="#b4b4b4"/><circle cx="1707.2" cy="574.8" r="8.8" fill="#e8e8e8"/><circle cx="1707.2" cy="574.8" r="8.2" fill="#2c2c2c"/><circle cx="1707.2" cy="574.8" r="4.6" fill="#000"/><path d="M1680 594l3.2 6.5l3.2-6.5M1696.5 594l3.2 6.5l3.2-6.5" fill="none" stroke="#f4f4f4" stroke-width="1.8"/><path d="M1694 595A3.1 3.1 0 1 0 1694 599.6" fill="none" stroke="#f4f4f4" stroke-width="1.8"/><circle cx="1692.2" cy="597.3" r="0.9" fill="#f4f4f4"/><circle cx="1676.4" cy="613.5" r="5.4" fill="#4a4a4a"/><circle cx="1676.4" cy="613.5" r="4.4" fill="#383838"/><path d="M1673.2 613.5h6.4M1676.4 610.3v6.4" stroke="#161616" stroke-width="1.7"/><circle cx="1706.3" cy="613.5" r="5.4" fill="#4a4a4a"/><circle cx="1706.3" cy="613.5" r="4.4" fill="#383838"/><path d="M1703.1 613.5h6.4M1706.3 610.3v6.4" stroke="#161616" stroke-width="1.7"/><path d="M64 294Q253.5 838 443.5 545" fill="none" stroke="#000" stroke-opacity="0.18" stroke-width="8" transform="translate(0,9)" filter="url(#cshadow)"/><path d="M64 294Q253.5 838 443.5 545" fill="none" stroke="#0ca663" stroke-opacity="0.84" stroke-width="5.6"/><path d="M398 287Q420.8 429 443.9 287" fill="none" stroke="#e0962a" stroke-opacity="0.78" stroke-width="5"/><circle cx="64" cy="294" r="10.4" fill="#13b06c"/><path d="M69.20 307.54L59.91 303.56L73.44 298.37Z" fill="#13b06c"/><circle cx="64" cy="294" r="6.9" fill="#fff"/><circle cx="64" cy="294" r="5.8" fill="#000"/><circle cx="443.5" cy="545" r="10.4" fill="#13b06c"/><path d="M434.57 556.43L433.20 546.42L444.62 555.34Z" fill="#13b06c"/><circle cx="443.5" cy="545" r="6.9" fill="#fff"/><circle cx="443.5" cy="545" r="5.8" fill="#000"/><circle cx="398" cy="287" r="10.4" fill="#f2a52c"/><path d="M401.01 301.18L392.46 295.80L406.64 292.79Z" fill="#f2a52c"/><circle cx="398" cy="287" r="6.9" fill="#fff"/><circle cx="398" cy="287" r="5.8" fill="#000"/><circle cx="443.9" cy="287" r="10.4" fill="#f2a52c"/><path d="M440.89 301.18L435.26 292.79L449.44 295.80Z" fill="#f2a52c"/><circle cx="443.9" cy="287" r="6.9" fill="#fff"/><circle cx="443.9" cy="287" r="5.8" fill="#000"/><rect x="1907" y="53" width="13" height="1025" fill="#3a3a3a" opacity="0.4"/><rect x="1907.8" y="390" width="11.1" height="463" rx="5.5" fill="#5e5e5e" opacity="0.85"/><rect x="636" y="1067" width="704" height="10.5" rx="5.2" fill="#555"/><rect x="0" y="1078" width="1920" height="2" fill="#1e1e1e"/><rect x="309" y="1078" width="160" height="2" fill="#555"/><rect x="0" y="0" width="1920" height="23" fill="#fff"/><circle cx="10" cy="10.9" r="7.9" fill="#000"/><path d="M13.6 8.2A4.3 4.3 0 1 0 13.6 13.6" fill="none" stroke="#fff" stroke-width="2.3"/><circle cx="10.4" cy="10.9" r="1.5" fill="#fff"/><text x="23.3" y="15.8" font-size="12" fill="#000" text-anchor="start" font-family="Liberation Sans" textLength="97.7" lengthAdjust="spacingAndGlyphs" >VCV Rack Pro 2.6.6</text><path d="M1799 10.5H1809.5" stroke="#000" stroke-width="1"/><path d="M1844.5 7.5h7.5v7.5h-7.5zM1846.5 7.5v-2h8v8h-2.5" fill="none" stroke="#000" stroke-width="1"/><path d="M1890 5.2l10.5 10.5M1900.5 5.2l-10.5 10.5" stroke="#000" stroke-width="1.1"/><rect x="0" y="23" width="1920" height="30" fill="#202020"/><rect x="0" y="52" width="1920" height="1" fill="#2b2b2b"/><rect x="0" y="23" width="1" height="30" fill="#2b2b2b"/><text x="13" y="41.7" font-size="10.6" fill="#ececec" text-anchor="start" font-family="Liberation Sans" textLength="18.5" lengthAdjust="spacingAndGlyphs" >File</text><text x="51.25" y="41.7" font-size="10.6" fill="#ececec" text-anchor="start" font-family="Liberation Sans" textLength="20.75" lengthAdjust="spacingAndGlyphs" >Edit</text><text x="92" y="41.7" font-size="10.6" fill="#ececec" text-anchor="start" font-family="Liberation Sans" textLength="27" lengthAdjust="spacingAndGlyphs" >View</text><text x="138.25" y="41.7" font-size="10.6" fill="#ececec" text-anchor="start" font-family="Liberation Sans" textLength="37.25" lengthAdjust="spacingAndGlyphs" >Engine</text><text x="195.25" y="41.7" font-size="10.6" fill="#ececec" text-anchor="start" font-family="Liberation Sans" textLength="39.0" lengthAdjust="spacingAndGlyphs" >Library</text><text x="254.25" y="41.7" font-size="10.6" fill="#ececec" text-anchor="start" font-family="Liberation Sans" textLength="24.0" lengthAdjust="spacingAndGlyphs" >Help</text><text x="1514.4" y="42" font-size="10.6" fill="#a0a0a0" text-anchor="start" font-family="Liberation Sans" textLength="45.5" lengthAdjust="spacingAndGlyphs" >60.9 fps</text><text x="1568.6" y="42" font-size="10.6" fill="#a0a0a0" text-anchor="start" font-family="Liberation Sans" textLength="53.1" lengthAdjust="spacingAndGlyphs" >6.4% avg</text><text x="1630.3" y="42" font-size="10.6" fill="#a0a0a0" text-anchor="start" font-family="Liberation Sans" textLength="64.3" lengthAdjust="spacingAndGlyphs" >10.3% max</text><text x="1715.2" y="42" font-size="10.6" fill="#a0a0a0" text-anchor="start" font-family="Liberation Sans" textLength="189.7" lengthAdjust="spacingAndGlyphs" >VCV Rack Pro 2.6.6 Windows x64</text></svg>
</body></html>
